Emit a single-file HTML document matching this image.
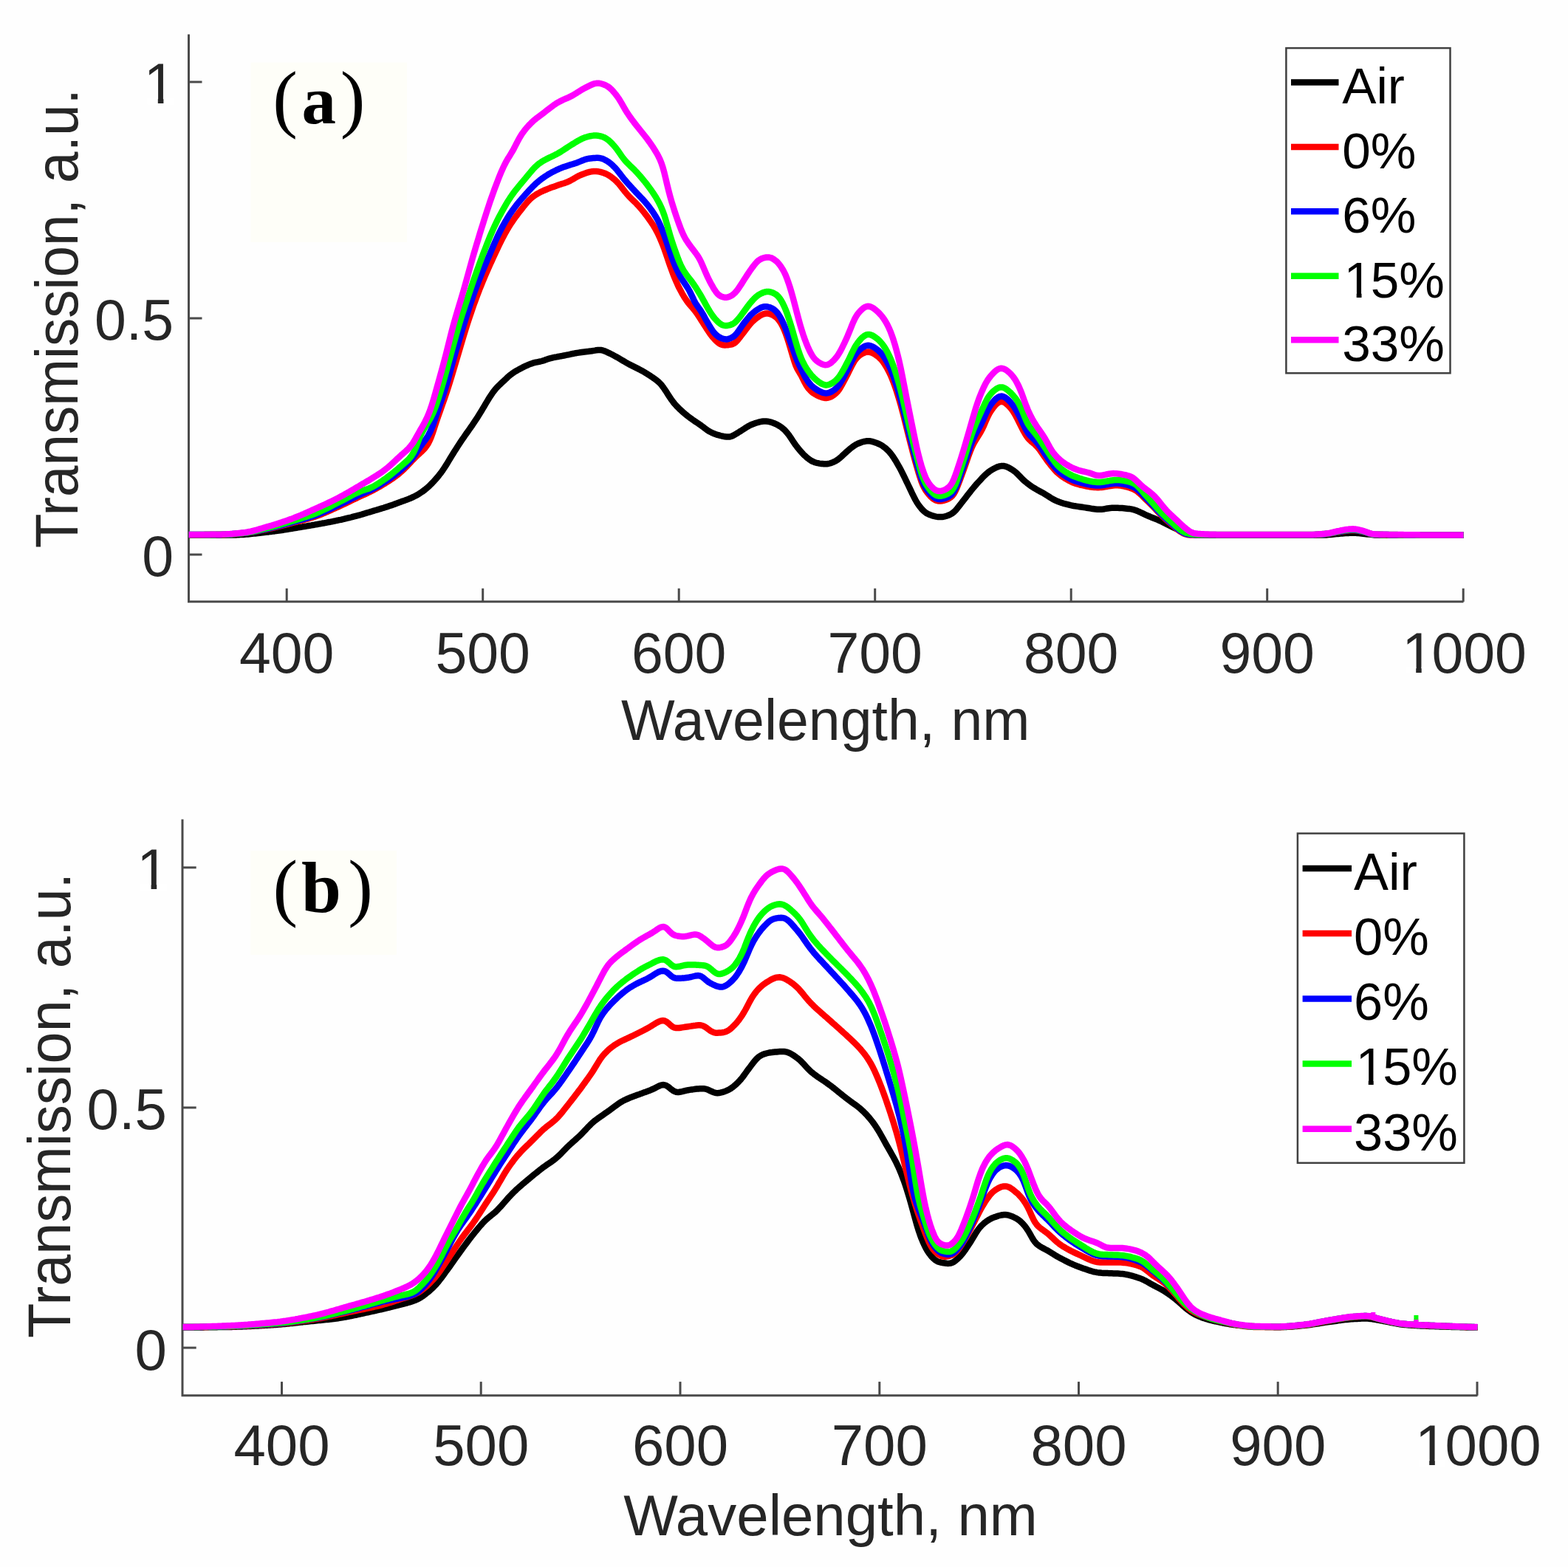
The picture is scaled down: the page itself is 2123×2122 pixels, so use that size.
<!DOCTYPE html>
<html><head><meta charset="utf-8"><title>Transmission spectra</title>
<style>
html,body{margin:0;padding:0;background:#fefefe;}
body{width:2123px;height:2122px;overflow:hidden;}
svg{display:block;font-family:"Liberation Sans",Arial,sans-serif;}
</style></head><body>
<svg width="2123" height="2122" viewBox="0 0 2123 2122">
<rect width="2123" height="2122" fill="#fefefe"/>
<rect x="339.6" y="84.7" width="211.4" height="243.3" fill="#fefef8"/>
<text font-family="'Liberation Serif', serif" fill="#000" y="167.3"><tspan x="369.3" font-size="101.0">(</tspan><tspan x="408.4" font-size="93.0" font-weight="bold">a</tspan><tspan x="460.8" font-size="101.0">)</tspan></text>
<rect x="339.2" y="1151.8" width="197.8" height="141.2" fill="#fefef8"/>
<text font-family="'Liberation Serif', serif" fill="#000" y="1235.3"><tspan x="369.6" font-size="101.0">(</tspan><tspan x="408.1" font-size="97.0" font-weight="bold">b</tspan><tspan x="471.2" font-size="101.0">)</tspan></text>
<g fill="#262626">
<path d="M255.5 46.6 V814.8 H1981.5" fill="none" stroke="#4a4a4a" stroke-width="3"/>
<path d="M255.5 751.0 H273.5" stroke="#4a4a4a" stroke-width="3"/>
<text x="235.0" y="780.3" text-anchor="end" font-size="77.0">0</text>
<path d="M255.5 431.0 H273.5" stroke="#4a4a4a" stroke-width="3"/>
<text x="235.0" y="460.3" text-anchor="end" font-size="77.0">0.5</text>
<path d="M255.5 111.0 H273.5" stroke="#4a4a4a" stroke-width="3"/>
<text x="237.6" y="140.3" text-anchor="end" font-size="77.0">1</text>
<path d="M388.2 814.8 V796.8" stroke="#4a4a4a" stroke-width="3"/>
<text x="388.2" y="910.5" text-anchor="middle" font-size="77.0">400</text>
<path d="M653.7 814.8 V796.8" stroke="#4a4a4a" stroke-width="3"/>
<text x="653.7" y="910.5" text-anchor="middle" font-size="77.0">500</text>
<path d="M919.2 814.8 V796.8" stroke="#4a4a4a" stroke-width="3"/>
<text x="919.2" y="910.5" text-anchor="middle" font-size="77.0">600</text>
<path d="M1184.7 814.8 V796.8" stroke="#4a4a4a" stroke-width="3"/>
<text x="1184.7" y="910.5" text-anchor="middle" font-size="77.0">700</text>
<path d="M1450.2 814.8 V796.8" stroke="#4a4a4a" stroke-width="3"/>
<text x="1450.2" y="910.5" text-anchor="middle" font-size="77.0">800</text>
<path d="M1715.7 814.8 V796.8" stroke="#4a4a4a" stroke-width="3"/>
<text x="1715.7" y="910.5" text-anchor="middle" font-size="77.0">900</text>
<path d="M1981.2 814.8 V796.8" stroke="#4a4a4a" stroke-width="3"/>
<text y="910.5" font-size="77.0"><tspan x="1898.17">1</tspan><tspan x="1938.38">000</tspan></text>
<text x="1117.7" y="1002.0" text-anchor="middle" font-size="77.0">Wavelength, nm</text>
<text transform="translate(104.5 431.3) rotate(-90) scale(1 1.060)" text-anchor="middle" font-size="76.5">Transmission, a.u.</text>
<path d="M247.0 1109.5 V1889.8 H2000.5" fill="none" stroke="#4a4a4a" stroke-width="3"/>
<path d="M247.0 1825.1 H265.7" stroke="#4a4a4a" stroke-width="3"/>
<text x="226.0" y="1854.6" text-anchor="end" font-size="78.0">0</text>
<path d="M247.0 1499.9 H265.7" stroke="#4a4a4a" stroke-width="3"/>
<text x="226.0" y="1529.4" text-anchor="end" font-size="78.0">0.5</text>
<path d="M247.0 1174.8 H265.7" stroke="#4a4a4a" stroke-width="3"/>
<text x="228.7" y="1204.3" text-anchor="end" font-size="78.0">1</text>
<path d="M381.5 1889.8 V1871.1" stroke="#4a4a4a" stroke-width="3"/>
<text x="381.5" y="1984.3" text-anchor="middle" font-size="78.0">400</text>
<path d="M651.2 1889.8 V1871.1" stroke="#4a4a4a" stroke-width="3"/>
<text x="651.2" y="1984.3" text-anchor="middle" font-size="78.0">500</text>
<path d="M921.0 1889.8 V1871.1" stroke="#4a4a4a" stroke-width="3"/>
<text x="921.0" y="1984.3" text-anchor="middle" font-size="78.0">600</text>
<path d="M1190.8 1889.8 V1871.1" stroke="#4a4a4a" stroke-width="3"/>
<text x="1190.8" y="1984.3" text-anchor="middle" font-size="78.0">700</text>
<path d="M1460.5 1889.8 V1871.1" stroke="#4a4a4a" stroke-width="3"/>
<text x="1460.5" y="1984.3" text-anchor="middle" font-size="78.0">800</text>
<path d="M1730.2 1889.8 V1871.1" stroke="#4a4a4a" stroke-width="3"/>
<text x="1730.2" y="1984.3" text-anchor="middle" font-size="78.0">900</text>
<path d="M2000.0 1889.8 V1871.1" stroke="#4a4a4a" stroke-width="3"/>
<text y="1984.3" font-size="78.0"><tspan x="1915.89">1</tspan><tspan x="1956.62">000</tspan></text>
<text x="1124.5" y="2079.0" text-anchor="middle" font-size="78.0">Wavelength, nm</text>
<text transform="translate(94.5 1497.0) rotate(-90) scale(1 1.060)" text-anchor="middle" font-size="77.5">Transmission, a.u.</text>
</g>
<g fill="none" stroke-width="8.5" stroke-linejoin="round" stroke-linecap="butt">
<path d="M255.5 724.5L257.5 724.5 259.5 724.5 261.5 724.5 263.5 724.5 265.5 724.5 267.5 724.5 269.5 724.5 271.5 724.5 273.5 724.5 275.5 724.5 277.5 724.5 279.5 724.5 281.5 724.5 283.5 724.5 285.5 724.5 287.5 724.5 289.5 724.5 291.5 724.5 293.5 724.5 295.5 724.5 297.5 724.5 299.5 724.5 301.5 724.5 303.5 724.5 305.5 724.5 307.5 724.5 309.5 724.5 311.5 724.5 313.5 724.5 315.5 724.5 317.5 724.4 319.5 724.4 321.5 724.3 323.5 724.2 325.5 724.1 327.5 724.0 329.5 723.9 331.5 723.7 333.5 723.6 335.5 723.4 337.5 723.2 339.5 723.0 341.5 722.8 343.5 722.6 345.5 722.4 347.5 722.2 349.5 721.9 351.5 721.7 353.5 721.5 355.5 721.3 357.5 721.0 359.5 720.8 361.5 720.6 363.5 720.4 365.5 720.1 367.5 719.9 369.5 719.6 371.5 719.4 373.5 719.1 375.5 718.8 377.5 718.6 379.5 718.3 381.5 718.0 383.5 717.7 385.5 717.3 387.5 717.0 389.5 716.7 391.5 716.4 393.5 716.0 395.5 715.7 397.5 715.4 399.5 715.0 401.5 714.7 403.5 714.4 405.5 714.0 407.5 713.7 409.5 713.4 411.5 713.0 413.5 712.7 415.5 712.4 417.5 712.0 419.5 711.7 421.5 711.4 423.5 711.0 425.5 710.7 427.5 710.3 429.5 710.0 431.5 709.6 433.5 709.3 435.5 708.9 437.5 708.5 439.5 708.2 441.5 707.8 443.5 707.4 445.5 707.0 447.5 706.7 449.5 706.3 451.5 705.9 453.5 705.5 455.5 705.0 457.5 704.6 459.5 704.2 461.5 703.8 463.5 703.3 465.5 702.9 467.5 702.4 469.5 701.9 471.5 701.4 473.5 701.0 475.5 700.5 477.5 699.9 479.5 699.4 481.5 698.9 483.5 698.4 485.5 697.8 487.5 697.3 489.5 696.7 491.5 696.1 493.5 695.5 495.5 694.9 497.5 694.3 499.5 693.7 501.5 693.1 503.5 692.5 505.5 691.9 507.5 691.3 509.5 690.7 511.5 690.1 513.5 689.5 515.5 688.9 517.5 688.3 519.5 687.7 521.5 687.0 523.5 686.4 525.5 685.7 527.5 685.0 529.5 684.4 531.5 683.7 533.5 683.0 535.5 682.2 537.5 681.5 539.5 680.8 541.5 680.1 543.5 679.3 545.5 678.6 547.5 677.9 549.5 677.1 551.5 676.4 553.5 675.6 555.5 674.8 557.5 673.9 559.5 673.0 561.5 672.0 563.5 671.0 565.5 669.8 567.5 668.6 569.5 667.3 571.5 666.0 573.5 664.5 575.5 663.0 577.5 661.4 579.5 659.6 581.5 657.8 583.5 655.8 585.5 653.7 587.5 651.6 589.5 649.4 591.5 647.1 593.5 644.7 595.5 642.2 597.5 639.6 599.5 636.8 601.5 633.7 603.5 630.6 605.5 627.4 607.5 624.1 609.5 620.8 611.5 617.6 613.5 614.3 615.5 611.1 617.5 607.9 619.5 604.8 621.5 601.7 623.5 598.7 625.5 595.7 627.5 592.8 629.5 589.9 631.5 587.0 633.5 584.2 635.5 581.4 637.5 578.5 639.5 575.7 641.5 572.7 643.5 569.7 645.5 566.7 647.5 563.5 649.5 560.3 651.5 557.1 653.5 553.7 655.5 550.3 657.5 546.9 659.5 543.6 661.5 540.3 663.5 537.1 665.5 534.1 667.5 531.2 669.5 528.6 671.5 526.1 673.5 524.0 675.5 522.0 677.5 520.1 679.5 518.2 681.5 516.3 683.5 514.5 685.5 512.6 687.5 510.7 689.5 508.9 691.5 507.3 693.5 505.8 695.5 504.4 697.5 503.2 699.5 502.0 701.5 500.9 703.5 499.8 705.5 498.7 707.5 497.6 709.5 496.6 711.5 495.7 713.5 494.8 715.5 493.9 717.5 493.1 719.5 492.4 721.5 491.7 723.5 491.2 725.5 490.7 727.5 490.3 729.5 489.9 731.5 489.5 733.5 489.0 735.5 488.4 737.5 487.7 739.5 486.9 741.5 486.2 743.5 485.6 745.5 485.1 747.5 484.6 749.5 484.1 751.5 483.7 753.5 483.4 755.5 483.0 757.5 482.6 759.5 482.3 761.5 481.9 763.5 481.5 765.5 481.1 767.5 480.7 769.5 480.3 771.5 479.9 773.5 479.4 775.5 479.0 777.5 478.6 779.5 478.2 781.5 477.9 783.5 477.6 785.5 477.3 787.5 477.0 789.5 476.7 791.5 476.5 793.5 476.3 795.5 476.1 797.5 475.8 799.5 475.6 801.5 475.3 803.5 474.9 805.5 474.6 807.5 474.2 809.5 474.0 811.5 473.9 813.5 474.0 815.5 474.4 817.5 475.0 819.5 475.8 821.5 476.6 823.5 477.6 825.5 478.5 827.5 479.5 829.5 480.5 831.5 481.6 833.5 482.7 835.5 483.8 837.5 484.9 839.5 486.1 841.5 487.3 843.5 488.5 845.5 489.7 847.5 490.9 849.5 492.0 851.5 493.1 853.5 494.1 855.5 495.1 857.5 496.1 859.5 497.1 861.5 498.1 863.5 499.1 865.5 500.1 867.5 501.2 869.5 502.3 871.5 503.4 873.5 504.6 875.5 505.8 877.5 507.1 879.5 508.3 881.5 509.7 883.5 511.0 885.5 512.4 887.5 513.9 889.5 515.4 891.5 517.1 893.5 519.0 895.5 521.2 897.5 523.8 899.5 526.6 901.5 529.6 903.5 532.8 905.5 535.9 907.5 538.9 909.5 541.8 911.5 544.5 913.5 547.0 915.5 549.2 917.5 551.3 919.5 553.3 921.5 555.2 923.5 557.0 925.5 558.8 927.5 560.5 929.5 562.1 931.5 563.7 933.5 565.3 935.5 566.7 937.5 568.2 939.5 569.5 941.5 570.9 943.5 572.2 945.5 573.5 947.5 574.9 949.5 576.3 951.5 577.8 953.5 579.4 955.5 580.9 957.5 582.4 959.5 583.7 961.5 584.8 963.5 585.8 965.5 586.7 967.5 587.5 969.5 588.2 971.5 588.9 973.5 589.4 975.5 590.0 977.5 590.5 979.5 590.9 981.5 591.3 983.5 591.5 985.5 591.6 987.5 591.5 989.5 591.1 991.5 590.4 993.5 589.4 995.5 588.3 997.5 587.0 999.5 585.8 1001.5 584.5 1003.5 583.3 1005.5 582.0 1007.5 580.7 1009.5 579.4 1011.5 578.2 1013.5 577.0 1015.5 575.9 1017.5 575.0 1019.5 574.2 1021.5 573.5 1023.5 572.8 1025.5 572.2 1027.5 571.6 1029.5 571.1 1031.5 570.8 1033.5 570.5 1035.5 570.4 1037.5 570.5 1039.5 570.7 1041.5 571.1 1043.5 571.6 1045.5 572.3 1047.5 573.0 1049.5 573.8 1051.5 574.7 1053.5 575.8 1055.5 577.0 1057.5 578.3 1059.5 579.9 1061.5 581.6 1063.5 583.6 1065.5 585.8 1067.5 588.3 1069.5 591.1 1071.5 594.1 1073.5 597.2 1075.5 600.2 1077.5 603.0 1079.5 605.6 1081.5 608.1 1083.5 610.5 1085.5 612.8 1087.5 614.9 1089.5 616.9 1091.5 618.7 1093.5 620.4 1095.5 621.9 1097.5 623.3 1099.5 624.5 1101.5 625.4 1103.5 626.2 1105.5 626.8 1107.5 627.2 1109.5 627.6 1111.5 627.9 1113.5 628.1 1115.5 628.3 1117.5 628.3 1119.5 628.2 1121.5 628.0 1123.5 627.5 1125.5 626.9 1127.5 626.1 1129.5 625.2 1131.5 624.2 1133.5 622.9 1135.5 621.5 1137.5 619.9 1139.5 618.1 1141.5 616.2 1143.5 614.3 1145.5 612.5 1147.5 610.7 1149.5 609.0 1151.5 607.3 1153.5 605.7 1155.5 604.3 1157.5 602.9 1159.5 601.8 1161.5 600.8 1163.5 600.0 1165.5 599.2 1167.5 598.5 1169.5 598.0 1171.5 597.6 1173.5 597.3 1175.5 597.2 1177.5 597.3 1179.5 597.6 1181.5 598.1 1183.5 598.7 1185.5 599.4 1187.5 600.1 1189.5 601.0 1191.5 601.9 1193.5 603.0 1195.5 604.3 1197.5 605.8 1199.5 607.4 1201.5 609.3 1203.5 611.3 1205.5 613.6 1207.5 616.1 1209.5 619.0 1211.5 622.1 1213.5 625.3 1215.5 628.8 1217.5 632.3 1219.5 636.1 1221.5 640.0 1223.5 644.0 1225.5 648.1 1227.5 652.3 1229.5 656.5 1231.5 660.7 1233.5 664.9 1235.5 669.2 1237.5 673.2 1239.5 677.0 1241.5 680.5 1243.5 683.5 1245.5 686.2 1247.5 688.7 1249.5 690.8 1251.5 692.7 1253.5 694.3 1255.5 695.5 1257.5 696.5 1259.5 697.3 1261.5 698.0 1263.5 698.7 1265.5 699.2 1267.5 699.6 1269.5 699.9 1271.5 700.1 1273.5 700.1 1275.5 700.0 1277.5 699.7 1279.5 699.3 1281.5 698.7 1283.5 698.0 1285.5 697.2 1287.5 696.2 1289.5 695.0 1291.5 693.4 1293.5 691.5 1295.5 689.2 1297.5 686.7 1299.5 684.1 1301.5 681.5 1303.5 678.9 1305.5 676.4 1307.5 673.8 1309.5 671.2 1311.5 668.7 1313.5 666.1 1315.5 663.5 1317.5 661.1 1319.5 658.7 1321.5 656.4 1323.5 654.2 1325.5 652.0 1327.5 649.8 1329.5 647.6 1331.5 645.6 1333.5 643.6 1335.5 641.7 1337.5 640.0 1339.5 638.5 1341.5 637.1 1343.5 635.9 1345.5 634.8 1347.5 633.8 1349.5 632.8 1351.5 632.0 1353.5 631.4 1355.5 631.1 1357.5 631.0 1359.5 631.1 1361.5 631.6 1363.5 632.3 1365.5 633.2 1367.5 634.3 1369.5 635.5 1371.5 636.8 1373.5 638.2 1375.5 639.8 1377.5 641.7 1379.5 643.7 1381.5 645.8 1383.5 647.9 1385.5 649.8 1387.5 651.7 1389.5 653.3 1391.5 654.9 1393.5 656.4 1395.5 657.9 1397.5 659.2 1399.5 660.5 1401.5 661.7 1403.5 662.9 1405.5 664.0 1407.5 665.1 1409.5 666.1 1411.5 667.2 1413.5 668.4 1415.5 669.6 1417.5 670.8 1419.5 672.1 1421.5 673.4 1423.5 674.7 1425.5 675.9 1427.5 676.9 1429.5 677.9 1431.5 678.7 1433.5 679.5 1435.5 680.2 1437.5 680.9 1439.5 681.6 1441.5 682.2 1443.5 682.7 1445.5 683.2 1447.5 683.7 1449.5 684.2 1451.5 684.6 1453.5 685.0 1455.5 685.3 1457.5 685.6 1459.5 685.9 1461.5 686.2 1463.5 686.5 1465.5 686.8 1467.5 687.1 1469.5 687.4 1471.5 687.7 1473.5 688.0 1475.5 688.3 1477.5 688.7 1479.5 689.0 1481.5 689.3 1483.5 689.6 1485.5 689.7 1487.5 689.8 1489.5 689.8 1491.5 689.7 1493.5 689.5 1495.5 689.2 1497.5 688.8 1499.5 688.5 1501.5 688.2 1503.5 687.9 1505.5 687.8 1507.5 687.7 1509.5 687.7 1511.5 687.7 1513.5 687.8 1515.5 687.9 1517.5 688.0 1519.5 688.1 1521.5 688.3 1523.5 688.5 1525.5 688.7 1527.5 688.9 1529.5 689.1 1531.5 689.4 1533.5 689.8 1535.5 690.4 1537.5 691.0 1539.5 691.8 1541.5 692.6 1543.5 693.5 1545.5 694.5 1547.5 695.4 1549.5 696.4 1551.5 697.3 1553.5 698.2 1555.5 699.0 1557.5 699.9 1559.5 700.7 1561.5 701.5 1563.5 702.3 1565.5 703.1 1567.5 703.9 1569.5 704.8 1571.5 705.7 1573.5 706.6 1575.5 707.6 1577.5 708.6 1579.5 709.6 1581.5 710.6 1583.5 711.6 1585.5 712.6 1587.5 713.6 1589.5 714.6 1591.5 715.5 1593.5 716.5 1595.5 717.5 1597.5 718.4 1599.5 719.4 1601.5 720.2 1603.5 721.0 1605.5 721.7 1607.5 722.2 1609.5 722.7 1611.5 723.1 1613.5 723.4 1615.5 723.7 1617.5 724.0 1619.5 724.2 1621.5 724.3 1623.5 724.4 1625.5 724.5 1627.5 724.5 1629.5 724.5 1631.5 724.5 1633.5 724.5 1635.5 724.5 1637.5 724.5 1639.5 724.5 1641.5 724.5 1643.5 724.6 1645.5 724.6 1647.5 724.6 1649.5 724.6 1651.5 724.6 1653.5 724.6 1655.5 724.6 1657.5 724.6 1659.5 724.6 1661.5 724.6 1663.5 724.6 1665.5 724.6 1667.5 724.6 1669.5 724.6 1671.5 724.6 1673.5 724.6 1675.5 724.6 1677.5 724.6 1679.5 724.6 1681.5 724.6 1683.5 724.6 1685.5 724.6 1687.5 724.6 1689.5 724.6 1691.5 724.6 1693.5 724.6 1695.5 724.6 1697.5 724.6 1699.5 724.6 1701.5 724.6 1703.5 724.6 1705.5 724.6 1707.5 724.6 1709.5 724.6 1711.5 724.6 1713.5 724.6 1715.5 724.6 1717.5 724.6 1719.5 724.6 1721.5 724.6 1723.5 724.6 1725.5 724.6 1727.5 724.6 1729.5 724.6 1731.5 724.6 1733.5 724.6 1735.5 724.6 1737.5 724.6 1739.5 724.6 1741.5 724.6 1743.5 724.6 1745.5 724.6 1747.5 724.6 1749.5 724.6 1751.5 724.6 1753.5 724.6 1755.5 724.6 1757.5 724.6 1759.5 724.6 1761.5 724.6 1763.5 724.6 1765.5 724.6 1767.5 724.6 1769.5 724.6 1771.5 724.6 1773.5 724.6 1775.5 724.6 1777.5 724.6 1779.5 724.6 1781.5 724.6 1783.5 724.6 1785.5 724.6 1787.5 724.6 1789.5 724.6 1791.5 724.5 1793.5 724.5 1795.5 724.4 1797.5 724.2 1799.5 724.1 1801.5 723.9 1803.5 723.7 1805.5 723.5 1807.5 723.3 1809.5 723.1 1811.5 722.9 1813.5 722.7 1815.5 722.6 1817.5 722.4 1819.5 722.3 1821.5 722.1 1823.5 722.0 1825.5 721.9 1827.5 721.8 1829.5 721.7 1831.5 721.7 1833.5 721.7 1835.5 721.8 1837.5 721.9 1839.5 722.1 1841.5 722.3 1843.5 722.5 1845.5 722.7 1847.5 722.9 1849.5 723.2 1851.5 723.4 1853.5 723.6 1855.5 723.8 1857.5 724.0 1859.5 724.2 1861.5 724.4 1863.5 724.5 1865.5 724.6 1867.5 724.6 1869.5 724.6 1871.5 724.6 1873.5 724.6 1875.5 724.6 1877.5 724.7 1879.5 724.7 1881.5 724.7 1883.5 724.7 1885.5 724.7 1887.5 724.7 1889.5 724.7 1891.5 724.7 1893.5 724.7 1895.5 724.7 1897.5 724.7 1899.5 724.7 1901.5 724.7 1903.5 724.7 1905.5 724.7 1907.5 724.7 1909.5 724.7 1911.5 724.7 1913.5 724.7 1915.5 724.8 1917.5 724.8 1919.5 724.8 1921.5 724.8 1923.5 724.8 1925.5 724.8 1927.5 724.8 1929.5 724.8 1931.5 724.8 1933.5 724.8 1935.5 724.8 1937.5 724.8 1939.5 724.8 1941.5 724.8 1943.5 724.8 1945.5 724.8 1947.5 724.8 1949.5 724.8 1951.5 724.8 1953.5 724.8 1955.5 724.8 1957.5 724.8 1959.5 724.8 1961.5 724.8 1963.5 724.8 1965.5 724.8 1967.5 724.8 1969.5 724.8 1971.5 724.8 1973.5 724.8 1975.5 724.8 1977.5 724.8 1979.5 724.8 1981.5 724.8" stroke="#000000"/>
<path d="M255.5 724.2L257.5 724.2 259.5 724.2 261.5 724.2 263.5 724.2 265.5 724.2 267.5 724.2 269.5 724.2 271.5 724.2 273.5 724.2 275.5 724.2 277.5 724.1 279.5 724.1 281.5 724.1 283.5 724.1 285.5 724.1 287.5 724.1 289.5 724.1 291.5 724.1 293.5 724.0 295.5 724.0 297.5 724.0 299.5 724.0 301.5 723.9 303.5 723.9 305.5 723.8 307.5 723.7 309.5 723.6 311.5 723.5 313.5 723.4 315.5 723.2 317.5 723.1 319.5 722.9 321.5 722.7 323.5 722.6 325.5 722.4 327.5 722.2 329.5 722.0 331.5 721.8 333.5 721.6 335.5 721.4 337.5 721.1 339.5 720.8 341.5 720.5 343.5 720.1 345.5 719.8 347.5 719.4 349.5 719.0 351.5 718.6 353.5 718.2 355.5 717.8 357.5 717.4 359.5 717.0 361.5 716.6 363.5 716.2 365.5 715.7 367.5 715.3 369.5 714.8 371.5 714.4 373.5 713.9 375.5 713.4 377.5 712.9 379.5 712.4 381.5 711.9 383.5 711.4 385.5 710.8 387.5 710.3 389.5 709.8 391.5 709.3 393.5 708.7 395.5 708.2 397.5 707.7 399.5 707.2 401.5 706.7 403.5 706.2 405.5 705.6 407.5 705.1 409.5 704.6 411.5 704.1 413.5 703.5 415.5 702.9 417.5 702.4 419.5 701.8 421.5 701.2 423.5 700.6 425.5 699.9 427.5 699.2 429.5 698.5 431.5 697.8 433.5 697.0 435.5 696.2 437.5 695.4 439.5 694.6 441.5 693.7 443.5 692.8 445.5 691.9 447.5 691.0 449.5 690.1 451.5 689.2 453.5 688.3 455.5 687.4 457.5 686.5 459.5 685.6 461.5 684.7 463.5 683.7 465.5 682.8 467.5 681.9 469.5 680.9 471.5 679.9 473.5 679.0 475.5 678.0 477.5 677.0 479.5 676.0 481.5 675.1 483.5 674.1 485.5 673.2 487.5 672.2 489.5 671.3 491.5 670.4 493.5 669.5 495.5 668.6 497.5 667.6 499.5 666.7 501.5 665.7 503.5 664.7 505.5 663.7 507.5 662.6 509.5 661.5 511.5 660.4 513.5 659.3 515.5 658.1 517.5 656.9 519.5 655.7 521.5 654.5 523.5 653.2 525.5 651.9 527.5 650.6 529.5 649.3 531.5 647.9 533.5 646.5 535.5 645.1 537.5 643.5 539.5 642.0 541.5 640.3 543.5 638.6 545.5 636.7 547.5 634.8 549.5 632.8 551.5 630.7 553.5 628.6 555.5 626.5 557.5 624.4 559.5 622.3 561.5 620.2 563.5 618.2 565.5 616.3 567.5 614.5 569.5 612.7 571.5 610.8 573.5 608.8 575.5 606.6 577.5 604.0 579.5 600.9 581.5 597.1 583.5 592.5 585.5 587.1 587.5 581.1 589.5 575.0 591.5 569.0 593.5 563.2 595.5 557.5 597.5 551.9 599.5 546.2 601.5 540.5 603.5 534.7 605.5 528.7 607.5 522.5 609.5 516.1 611.5 509.5 613.5 502.8 615.5 496.0 617.5 489.3 619.5 482.5 621.5 475.7 623.5 469.0 625.5 462.2 627.5 455.5 629.5 449.0 631.5 442.5 633.5 436.3 635.5 430.2 637.5 424.3 639.5 418.4 641.5 412.7 643.5 407.2 645.5 401.8 647.5 396.5 649.5 391.3 651.5 386.3 653.5 381.4 655.5 376.6 657.5 371.9 659.5 367.3 661.5 362.7 663.5 358.3 665.5 353.9 667.5 349.5 669.5 345.2 671.5 340.9 673.5 336.7 675.5 332.5 677.5 328.4 679.5 324.4 681.5 320.5 683.5 316.8 685.5 313.2 687.5 309.7 689.5 306.4 691.5 303.3 693.5 300.3 695.5 297.4 697.5 294.6 699.5 291.9 701.5 289.2 703.5 286.7 705.5 284.1 707.5 281.6 709.5 279.0 711.5 276.6 713.5 274.2 715.5 272.0 717.5 269.9 719.5 268.1 721.5 266.4 723.5 265.0 725.5 263.7 727.5 262.5 729.5 261.4 731.5 260.3 733.5 259.3 735.5 258.4 737.5 257.5 739.5 256.7 741.5 255.9 743.5 255.1 745.5 254.3 747.5 253.6 749.5 252.9 751.5 252.2 753.5 251.5 755.5 250.8 757.5 250.1 759.5 249.4 761.5 248.8 763.5 248.2 765.5 247.5 767.5 246.8 769.5 245.9 771.5 245.0 773.5 243.9 775.5 242.8 777.5 241.6 779.5 240.4 781.5 239.3 783.5 238.2 785.5 237.3 787.5 236.5 789.5 235.7 791.5 235.0 793.5 234.3 795.5 233.6 797.5 233.0 799.5 232.6 801.5 232.2 803.5 232.0 805.5 231.9 807.5 232.0 809.5 232.2 811.5 232.6 813.5 233.0 815.5 233.6 817.5 234.2 819.5 235.0 821.5 235.9 823.5 237.0 825.5 238.2 827.5 239.6 829.5 241.1 831.5 242.7 833.5 244.5 835.5 246.5 837.5 248.6 839.5 251.0 841.5 253.5 843.5 256.1 845.5 258.7 847.5 261.1 849.5 263.5 851.5 265.7 853.5 267.7 855.5 269.7 857.5 271.7 859.5 273.6 861.5 275.6 863.5 277.7 865.5 279.9 867.5 282.2 869.5 284.6 871.5 287.0 873.5 289.6 875.5 292.2 877.5 294.9 879.5 297.7 881.5 300.6 883.5 303.6 885.5 306.8 887.5 310.2 889.5 313.9 891.5 317.9 893.5 322.3 895.5 327.0 897.5 332.0 899.5 337.3 901.5 343.0 903.5 348.9 905.5 354.8 907.5 360.6 909.5 366.1 911.5 371.4 913.5 376.4 915.5 381.1 917.5 385.6 919.5 389.8 921.5 393.6 923.5 397.3 925.5 400.7 927.5 403.9 929.5 406.9 931.5 409.6 933.5 412.2 935.5 414.5 937.5 416.8 939.5 419.1 941.5 421.7 943.5 424.4 945.5 427.4 947.5 430.5 949.5 433.6 951.5 436.7 953.5 439.9 955.5 443.0 957.5 446.2 959.5 449.2 961.5 452.1 963.5 454.8 965.5 457.2 967.5 459.4 969.5 461.4 971.5 463.3 973.5 464.9 975.5 466.1 977.5 466.9 979.5 467.3 981.5 467.4 983.5 467.3 985.5 467.2 987.5 466.9 989.5 466.6 991.5 466.1 993.5 465.2 995.5 463.9 997.5 462.0 999.5 459.7 1001.5 457.2 1003.5 454.5 1005.5 451.9 1007.5 449.3 1009.5 446.7 1011.5 444.1 1013.5 441.5 1015.5 439.1 1017.5 436.8 1019.5 434.8 1021.5 433.0 1023.5 431.4 1025.5 429.9 1027.5 428.5 1029.5 427.2 1031.5 426.2 1033.5 425.3 1035.5 424.8 1037.5 424.5 1039.5 424.5 1041.5 424.9 1043.5 425.5 1045.5 426.3 1047.5 427.4 1049.5 428.7 1051.5 430.3 1053.5 432.3 1055.5 434.9 1057.5 438.0 1059.5 441.6 1061.5 445.9 1063.5 450.8 1065.5 456.5 1067.5 462.7 1069.5 469.3 1071.5 476.0 1073.5 482.8 1075.5 489.3 1077.5 495.0 1079.5 499.4 1081.5 502.9 1083.5 506.2 1085.5 509.8 1087.5 513.8 1089.5 517.8 1091.5 521.4 1093.5 524.5 1095.5 527.0 1097.5 529.2 1099.5 531.0 1101.5 532.5 1103.5 533.8 1105.5 534.9 1107.5 535.9 1109.5 536.8 1111.5 537.6 1113.5 538.3 1115.5 538.7 1117.5 538.9 1119.5 538.9 1121.5 538.5 1123.5 537.9 1125.5 537.0 1127.5 535.8 1129.5 534.4 1131.5 532.8 1133.5 530.8 1135.5 528.3 1137.5 525.3 1139.5 521.9 1141.5 518.3 1143.5 514.5 1145.5 510.7 1147.5 506.9 1149.5 502.9 1151.5 498.9 1153.5 494.9 1155.5 491.2 1157.5 487.9 1159.5 485.3 1161.5 483.2 1163.5 481.5 1165.5 480.1 1167.5 478.9 1169.5 477.9 1171.5 477.2 1173.5 476.7 1175.5 476.6 1177.5 476.8 1179.5 477.3 1181.5 478.2 1183.5 479.2 1185.5 480.5 1187.5 481.9 1189.5 483.4 1191.5 485.3 1193.5 487.4 1195.5 489.9 1197.5 492.7 1199.5 495.9 1201.5 499.4 1203.5 503.2 1205.5 507.4 1207.5 512.0 1209.5 517.1 1211.5 522.6 1213.5 528.4 1215.5 534.6 1217.5 541.2 1219.5 548.2 1221.5 555.6 1223.5 563.3 1225.5 571.2 1227.5 579.2 1229.5 587.2 1231.5 595.1 1233.5 602.9 1235.5 610.7 1237.5 618.3 1239.5 625.6 1241.5 632.7 1243.5 639.5 1245.5 645.9 1247.5 651.8 1249.5 656.8 1251.5 660.9 1253.5 664.3 1255.5 667.1 1257.5 669.5 1259.5 671.8 1261.5 673.7 1263.5 675.4 1265.5 676.7 1267.5 677.7 1269.5 678.3 1271.5 678.6 1273.5 678.5 1275.5 678.3 1277.5 677.9 1279.5 677.3 1281.5 676.5 1283.5 675.7 1285.5 674.6 1287.5 673.2 1289.5 671.3 1291.5 668.6 1293.5 665.1 1295.5 660.7 1297.5 655.7 1299.5 650.5 1301.5 645.1 1303.5 639.6 1305.5 634.1 1307.5 628.4 1309.5 622.6 1311.5 616.9 1313.5 611.5 1315.5 606.6 1317.5 602.2 1319.5 598.5 1321.5 595.1 1323.5 592.0 1325.5 588.8 1327.5 585.5 1329.5 581.8 1331.5 577.7 1333.5 573.1 1335.5 568.4 1337.5 564.0 1339.5 560.1 1341.5 556.8 1343.5 553.8 1345.5 551.2 1347.5 548.8 1349.5 546.8 1351.5 545.3 1353.5 544.3 1355.5 543.8 1357.5 544.0 1359.5 544.7 1361.5 546.0 1363.5 547.6 1365.5 549.5 1367.5 551.6 1369.5 554.0 1371.5 556.7 1373.5 559.9 1375.5 563.5 1377.5 567.4 1379.5 571.4 1381.5 575.4 1383.5 579.3 1385.5 583.2 1387.5 586.8 1389.5 590.1 1391.5 592.9 1393.5 595.1 1395.5 597.0 1397.5 598.8 1399.5 600.4 1401.5 602.2 1403.5 604.2 1405.5 606.4 1407.5 608.9 1409.5 611.7 1411.5 614.6 1413.5 617.5 1415.5 620.4 1417.5 623.2 1419.5 625.9 1421.5 628.5 1423.5 631.0 1425.5 633.4 1427.5 635.7 1429.5 637.9 1431.5 639.9 1433.5 641.7 1435.5 643.3 1437.5 644.8 1439.5 646.2 1441.5 647.5 1443.5 648.7 1445.5 649.9 1447.5 651.0 1449.5 652.0 1451.5 653.0 1453.5 653.8 1455.5 654.5 1457.5 655.2 1459.5 655.7 1461.5 656.3 1463.5 656.8 1465.5 657.2 1467.5 657.7 1469.5 658.1 1471.5 658.5 1473.5 658.9 1475.5 659.2 1477.5 659.5 1479.5 659.8 1481.5 660.0 1483.5 660.1 1485.5 660.2 1487.5 660.2 1489.5 660.1 1491.5 659.9 1493.5 659.7 1495.5 659.4 1497.5 659.0 1499.5 658.7 1501.5 658.3 1503.5 658.0 1505.5 657.7 1507.5 657.4 1509.5 657.3 1511.5 657.2 1513.5 657.3 1515.5 657.4 1517.5 657.6 1519.5 658.0 1521.5 658.3 1523.5 658.8 1525.5 659.3 1527.5 659.9 1529.5 660.5 1531.5 661.2 1533.5 661.9 1535.5 662.8 1537.5 664.0 1539.5 665.3 1541.5 666.9 1543.5 668.6 1545.5 670.5 1547.5 672.4 1549.5 674.4 1551.5 676.4 1553.5 678.3 1555.5 680.3 1557.5 682.3 1559.5 684.3 1561.5 686.3 1563.5 688.4 1565.5 690.6 1567.5 692.7 1569.5 694.8 1571.5 696.8 1573.5 698.8 1575.5 700.7 1577.5 702.5 1579.5 704.3 1581.5 706.0 1583.5 707.8 1585.5 709.5 1587.5 711.3 1589.5 713.1 1591.5 714.8 1593.5 716.4 1595.5 718.0 1597.5 719.4 1599.5 720.7 1601.5 721.9 1603.5 722.8 1605.5 723.5 1607.5 724.0 1609.5 724.3 1611.5 724.4 1613.5 724.5 1615.5 724.5 1617.5 724.4 1619.5 724.4 1621.5 724.4 1623.5 724.4 1625.5 724.4 1627.5 724.4 1629.5 724.4 1631.5 724.4 1633.5 724.4 1635.5 724.4 1637.5 724.4 1639.5 724.4 1641.5 724.4 1643.5 724.4 1645.5 724.4 1647.5 724.4 1649.5 724.4 1651.5 724.4 1653.5 724.4 1655.5 724.4 1657.5 724.4 1659.5 724.4 1661.5 724.4 1663.5 724.4 1665.5 724.4 1667.5 724.4 1669.5 724.4 1671.5 724.4 1673.5 724.4 1675.5 724.4 1677.5 724.4 1679.5 724.4 1681.5 724.4 1683.5 724.4 1685.5 724.4 1687.5 724.4 1689.5 724.4 1691.5 724.4 1693.5 724.4 1695.5 724.4 1697.5 724.4 1699.5 724.4 1701.5 724.4 1703.5 724.4 1705.5 724.4 1707.5 724.4 1709.5 724.4 1711.5 724.4 1713.5 724.4 1715.5 724.4 1717.5 724.4 1719.5 724.4 1721.5 724.4 1723.5 724.4 1725.5 724.4 1727.5 724.4 1729.5 724.4 1731.5 724.4 1733.5 724.4 1735.5 724.4 1737.5 724.4 1739.5 724.4 1741.5 724.4 1743.5 724.4 1745.5 724.4 1747.5 724.4 1749.5 724.4 1751.5 724.4 1753.5 724.4 1755.5 724.4 1757.5 724.4 1759.5 724.4 1761.5 724.4 1763.5 724.4 1765.5 724.4 1767.5 724.4 1769.5 724.4 1771.5 724.4 1773.5 724.4 1775.5 724.4 1777.5 724.4 1779.5 724.3 1781.5 724.2 1783.5 724.1 1785.5 724.0 1787.5 723.9 1789.5 723.7 1791.5 723.5 1793.5 723.3 1795.5 723.1 1797.5 722.9 1799.5 722.7 1801.5 722.4 1803.5 722.0 1805.5 721.7 1807.5 721.3 1809.5 720.9 1811.5 720.5 1813.5 720.2 1815.5 719.9 1817.5 719.5 1819.5 719.3 1821.5 719.0 1823.5 718.7 1825.5 718.5 1827.5 718.3 1829.5 718.2 1831.5 718.1 1833.5 718.2 1835.5 718.3 1837.5 718.6 1839.5 718.9 1841.5 719.3 1843.5 719.7 1845.5 720.2 1847.5 720.7 1849.5 721.3 1851.5 721.9 1853.5 722.5 1855.5 723.1 1857.5 723.6 1859.5 723.8 1861.5 724.0 1863.5 724.0 1865.5 724.1 1867.5 724.1 1869.5 724.1 1871.5 724.1 1873.5 724.2 1875.5 724.2 1877.5 724.2 1879.5 724.2 1881.5 724.2 1883.5 724.3 1885.5 724.3 1887.5 724.3 1889.5 724.3 1891.5 724.3 1893.5 724.3 1895.5 724.4 1897.5 724.4 1899.5 724.4 1901.5 724.4 1903.5 724.4 1905.5 724.4 1907.5 724.4 1909.5 724.5 1911.5 724.5 1913.5 724.5 1915.5 724.5 1917.5 724.5 1919.5 724.5 1921.5 724.5 1923.5 724.5 1925.5 724.5 1927.5 724.5 1929.5 724.5 1931.5 724.5 1933.5 724.5 1935.5 724.6 1937.5 724.6 1939.5 724.6 1941.5 724.6 1943.5 724.6 1945.5 724.6 1947.5 724.6 1949.5 724.6 1951.5 724.6 1953.5 724.6 1955.5 724.6 1957.5 724.6 1959.5 724.6 1961.5 724.6 1963.5 724.6 1965.5 724.6 1967.5 724.6 1969.5 724.6 1971.5 724.6 1973.5 724.6 1975.5 724.6 1977.5 724.6 1979.5 724.6 1981.5 724.6" stroke="#ff0000"/>
<path d="M255.5 724.1L257.5 724.1 259.5 724.1 261.5 724.1 263.5 724.1 265.5 724.1 267.5 724.1 269.5 724.1 271.5 724.1 273.5 724.1 275.5 724.1 277.5 724.1 279.5 724.1 281.5 724.0 283.5 724.0 285.5 724.0 287.5 724.0 289.5 724.0 291.5 724.0 293.5 724.0 295.5 723.9 297.5 723.9 299.5 723.9 301.5 723.8 303.5 723.8 305.5 723.7 307.5 723.6 309.5 723.5 311.5 723.4 313.5 723.3 315.5 723.1 317.5 723.0 319.5 722.8 321.5 722.7 323.5 722.5 325.5 722.3 327.5 722.1 329.5 722.0 331.5 721.7 333.5 721.5 335.5 721.2 337.5 720.9 339.5 720.6 341.5 720.3 343.5 719.9 345.5 719.5 347.5 719.1 349.5 718.7 351.5 718.3 353.5 717.8 355.5 717.4 357.5 716.9 359.5 716.5 361.5 716.1 363.5 715.6 365.5 715.1 367.5 714.7 369.5 714.2 371.5 713.7 373.5 713.2 375.5 712.7 377.5 712.2 379.5 711.6 381.5 711.1 383.5 710.6 385.5 710.0 387.5 709.5 389.5 708.9 391.5 708.4 393.5 707.8 395.5 707.3 397.5 706.7 399.5 706.2 401.5 705.6 403.5 705.1 405.5 704.5 407.5 704.0 409.5 703.4 411.5 702.9 413.5 702.3 415.5 701.7 417.5 701.1 419.5 700.4 421.5 699.8 423.5 699.1 425.5 698.4 427.5 697.7 429.5 697.0 431.5 696.2 433.5 695.4 435.5 694.6 437.5 693.7 439.5 692.8 441.5 691.9 443.5 691.0 445.5 690.1 447.5 689.1 449.5 688.2 451.5 687.2 453.5 686.3 455.5 685.3 457.5 684.4 459.5 683.5 461.5 682.5 463.5 681.5 465.5 680.6 467.5 679.6 469.5 678.6 471.5 677.6 473.5 676.6 475.5 675.5 477.5 674.5 479.5 673.6 481.5 672.6 483.5 671.6 485.5 670.7 487.5 669.8 489.5 668.9 491.5 668.0 493.5 667.2 495.5 666.4 497.5 665.6 499.5 664.8 501.5 663.8 503.5 662.9 505.5 661.8 507.5 660.8 509.5 659.6 511.5 658.5 513.5 657.3 515.5 656.0 517.5 654.8 519.5 653.5 521.5 652.2 523.5 650.9 525.5 649.6 527.5 648.2 529.5 646.8 531.5 645.3 533.5 643.8 535.5 642.3 537.5 640.7 539.5 639.1 541.5 637.4 543.5 635.7 545.5 633.9 547.5 632.0 549.5 630.1 551.5 628.1 553.5 626.1 555.5 623.9 557.5 621.6 559.5 619.1 561.5 616.3 563.5 613.3 565.5 610.1 567.5 607.1 569.5 604.2 571.5 601.5 573.5 598.8 575.5 596.2 577.5 593.4 579.5 590.3 581.5 586.6 583.5 582.4 585.5 577.4 587.5 572.0 589.5 566.1 591.5 560.1 593.5 554.1 595.5 548.3 597.5 542.6 599.5 536.8 601.5 530.8 603.5 524.5 605.5 517.7 607.5 510.6 609.5 503.3 611.5 495.9 613.5 488.6 615.5 481.5 617.5 474.5 619.5 467.7 621.5 461.0 623.5 454.4 625.5 447.8 627.5 441.3 629.5 434.9 631.5 428.5 633.5 422.2 635.5 416.0 637.5 409.9 639.5 403.9 641.5 398.2 643.5 392.6 645.5 387.2 647.5 382.0 649.5 376.9 651.5 371.9 653.5 367.0 655.5 362.2 657.5 357.5 659.5 352.7 661.5 348.0 663.5 343.3 665.5 338.6 667.5 334.0 669.5 329.4 671.5 325.0 673.5 320.6 675.5 316.4 677.5 312.4 679.5 308.5 681.5 304.8 683.5 301.2 685.5 297.8 687.5 294.5 689.5 291.4 691.5 288.4 693.5 285.5 695.5 282.7 697.5 280.0 699.5 277.4 701.5 274.9 703.5 272.5 705.5 270.1 707.5 267.8 709.5 265.6 711.5 263.3 713.5 261.1 715.5 258.9 717.5 256.7 719.5 254.6 721.5 252.5 723.5 250.6 725.5 248.7 727.5 246.9 729.5 245.2 731.5 243.6 733.5 242.1 735.5 240.7 737.5 239.3 739.5 238.0 741.5 236.7 743.5 235.5 745.5 234.4 747.5 233.2 749.5 232.2 751.5 231.2 753.5 230.2 755.5 229.3 757.5 228.4 759.5 227.6 761.5 226.8 763.5 226.1 765.5 225.4 767.5 224.7 769.5 224.1 771.5 223.4 773.5 222.8 775.5 222.2 777.5 221.6 779.5 220.9 781.5 220.2 783.5 219.4 785.5 218.6 787.5 217.8 789.5 217.0 791.5 216.3 793.5 215.6 795.5 215.1 797.5 214.7 799.5 214.4 801.5 214.2 803.5 214.0 805.5 213.9 807.5 213.8 809.5 213.8 811.5 213.9 813.5 214.3 815.5 214.8 817.5 215.6 819.5 216.7 821.5 217.8 823.5 219.1 825.5 220.5 827.5 222.1 829.5 223.9 831.5 225.9 833.5 228.0 835.5 230.3 837.5 232.8 839.5 235.4 841.5 238.0 843.5 240.6 845.5 243.1 847.5 245.4 849.5 247.7 851.5 250.0 853.5 252.1 855.5 254.3 857.5 256.5 859.5 258.6 861.5 260.8 863.5 262.9 865.5 265.0 867.5 267.1 869.5 269.2 871.5 271.4 873.5 273.6 875.5 276.0 877.5 278.4 879.5 281.0 881.5 283.7 883.5 286.5 885.5 289.5 887.5 292.7 889.5 296.1 891.5 299.8 893.5 304.0 895.5 308.6 897.5 313.7 899.5 319.1 901.5 324.8 903.5 330.7 905.5 336.6 907.5 342.5 909.5 348.1 911.5 353.4 913.5 358.4 915.5 363.1 917.5 367.4 919.5 371.4 921.5 375.1 923.5 378.4 925.5 381.4 927.5 384.4 929.5 387.4 931.5 390.5 933.5 394.0 935.5 398.0 937.5 402.2 939.5 406.4 941.5 410.2 943.5 413.3 945.5 416.1 947.5 418.9 949.5 421.9 951.5 425.2 953.5 428.7 955.5 432.4 957.5 436.0 959.5 439.4 961.5 442.7 963.5 445.9 965.5 448.8 967.5 451.3 969.5 453.4 971.5 455.0 973.5 456.4 975.5 457.4 977.5 458.3 979.5 458.9 981.5 459.3 983.5 459.4 985.5 459.2 987.5 458.7 989.5 457.8 991.5 456.8 993.5 455.4 995.5 453.7 997.5 451.5 999.5 448.9 1001.5 446.0 1003.5 443.0 1005.5 440.1 1007.5 437.4 1009.5 434.8 1011.5 432.3 1013.5 429.9 1015.5 427.6 1017.5 425.6 1019.5 423.8 1021.5 422.2 1023.5 420.7 1025.5 419.3 1027.5 418.1 1029.5 417.0 1031.5 416.1 1033.5 415.5 1035.5 415.2 1037.5 415.2 1039.5 415.5 1041.5 416.0 1043.5 416.8 1045.5 417.7 1047.5 418.9 1049.5 420.5 1051.5 422.5 1053.5 425.0 1055.5 428.0 1057.5 431.5 1059.5 435.4 1061.5 439.8 1063.5 444.7 1065.5 450.0 1067.5 455.5 1069.5 461.1 1071.5 466.7 1073.5 472.3 1075.5 478.0 1077.5 483.5 1079.5 488.7 1081.5 493.1 1083.5 497.2 1085.5 501.3 1087.5 505.3 1089.5 509.3 1091.5 512.8 1093.5 515.9 1095.5 518.6 1097.5 520.9 1099.5 522.9 1101.5 524.6 1103.5 526.1 1105.5 527.5 1107.5 528.7 1109.5 529.8 1111.5 530.8 1113.5 531.6 1115.5 532.1 1117.5 532.4 1119.5 532.4 1121.5 532.1 1123.5 531.4 1125.5 530.5 1127.5 529.3 1129.5 528.0 1131.5 526.3 1133.5 524.3 1135.5 521.9 1137.5 518.9 1139.5 515.6 1141.5 512.1 1143.5 508.4 1145.5 504.6 1147.5 500.8 1149.5 496.8 1151.5 492.7 1153.5 488.6 1155.5 484.7 1157.5 481.3 1159.5 478.5 1161.5 476.1 1163.5 474.1 1165.5 472.4 1167.5 470.8 1169.5 469.6 1171.5 468.6 1173.5 468.0 1175.5 467.8 1177.5 468.0 1179.5 468.6 1181.5 469.4 1183.5 470.5 1185.5 471.8 1187.5 473.3 1189.5 474.9 1191.5 476.8 1193.5 478.9 1195.5 481.4 1197.5 484.3 1199.5 487.6 1201.5 491.1 1203.5 495.0 1205.5 499.2 1207.5 503.9 1209.5 509.1 1211.5 514.7 1213.5 520.7 1215.5 527.0 1217.5 533.7 1219.5 540.9 1221.5 548.6 1223.5 556.6 1225.5 564.8 1227.5 573.0 1229.5 581.2 1231.5 589.2 1233.5 597.2 1235.5 605.1 1237.5 612.8 1239.5 620.3 1241.5 627.6 1243.5 634.7 1245.5 641.5 1247.5 647.7 1249.5 653.0 1251.5 657.4 1253.5 660.9 1255.5 663.9 1257.5 666.5 1259.5 668.8 1261.5 670.9 1263.5 672.7 1265.5 674.1 1267.5 675.1 1269.5 675.8 1271.5 676.0 1273.5 676.0 1275.5 675.7 1277.5 675.3 1279.5 674.7 1281.5 673.9 1283.5 673.0 1285.5 671.8 1287.5 670.4 1289.5 668.4 1291.5 665.5 1293.5 661.7 1295.5 657.1 1297.5 651.9 1299.5 646.4 1301.5 640.7 1303.5 634.9 1305.5 629.1 1307.5 623.2 1309.5 617.1 1311.5 611.1 1313.5 605.3 1315.5 600.0 1317.5 595.2 1319.5 590.9 1321.5 587.0 1323.5 583.3 1325.5 579.7 1327.5 576.0 1329.5 572.0 1331.5 567.8 1333.5 563.3 1335.5 558.8 1337.5 554.7 1339.5 551.2 1341.5 548.1 1343.5 545.5 1345.5 543.1 1347.5 541.0 1349.5 539.2 1351.5 537.9 1353.5 537.0 1355.5 536.6 1357.5 536.8 1359.5 537.5 1361.5 538.7 1363.5 540.2 1365.5 542.0 1367.5 544.0 1369.5 546.3 1371.5 548.8 1373.5 551.7 1375.5 554.9 1377.5 558.5 1379.5 562.2 1381.5 566.2 1383.5 570.3 1385.5 574.6 1387.5 578.7 1389.5 582.5 1391.5 585.7 1393.5 588.4 1395.5 590.6 1397.5 592.6 1399.5 594.6 1401.5 596.6 1403.5 598.7 1405.5 601.2 1407.5 603.8 1409.5 606.6 1411.5 609.6 1413.5 612.6 1415.5 615.5 1417.5 618.4 1419.5 621.2 1421.5 623.9 1423.5 626.6 1425.5 629.2 1427.5 631.7 1429.5 634.0 1431.5 636.1 1433.5 638.0 1435.5 639.7 1437.5 641.3 1439.5 642.7 1441.5 644.1 1443.5 645.3 1445.5 646.5 1447.5 647.6 1449.5 648.7 1451.5 649.6 1453.5 650.5 1455.5 651.2 1457.5 651.9 1459.5 652.5 1461.5 653.1 1463.5 653.6 1465.5 654.2 1467.5 654.7 1469.5 655.2 1471.5 655.6 1473.5 656.0 1475.5 656.4 1477.5 656.8 1479.5 657.0 1481.5 657.3 1483.5 657.4 1485.5 657.5 1487.5 657.5 1489.5 657.5 1491.5 657.3 1493.5 657.0 1495.5 656.7 1497.5 656.4 1499.5 656.0 1501.5 655.6 1503.5 655.3 1505.5 655.0 1507.5 654.8 1509.5 654.6 1511.5 654.6 1513.5 654.6 1515.5 654.7 1517.5 654.9 1519.5 655.2 1521.5 655.6 1523.5 656.0 1525.5 656.5 1527.5 657.0 1529.5 657.6 1531.5 658.2 1533.5 659.0 1535.5 659.9 1537.5 661.1 1539.5 662.5 1541.5 664.2 1543.5 666.0 1545.5 668.0 1547.5 670.1 1549.5 672.3 1551.5 674.4 1553.5 676.5 1555.5 678.5 1557.5 680.6 1559.5 682.7 1561.5 684.8 1563.5 686.9 1565.5 689.1 1567.5 691.3 1569.5 693.4 1571.5 695.5 1573.5 697.5 1575.5 699.4 1577.5 701.3 1579.5 703.1 1581.5 704.8 1583.5 706.6 1585.5 708.4 1587.5 710.2 1589.5 712.0 1591.5 713.7 1593.5 715.4 1595.5 717.0 1597.5 718.5 1599.5 719.8 1601.5 721.0 1603.5 722.0 1605.5 722.8 1607.5 723.3 1609.5 723.7 1611.5 723.9 1613.5 724.0 1615.5 724.1 1617.5 724.2 1619.5 724.2 1621.5 724.2 1623.5 724.2 1625.5 724.2 1627.5 724.3 1629.5 724.3 1631.5 724.3 1633.5 724.3 1635.5 724.3 1637.5 724.3 1639.5 724.3 1641.5 724.3 1643.5 724.3 1645.5 724.3 1647.5 724.3 1649.5 724.3 1651.5 724.3 1653.5 724.3 1655.5 724.3 1657.5 724.3 1659.5 724.3 1661.5 724.3 1663.5 724.3 1665.5 724.3 1667.5 724.3 1669.5 724.3 1671.5 724.3 1673.5 724.3 1675.5 724.3 1677.5 724.3 1679.5 724.3 1681.5 724.3 1683.5 724.3 1685.5 724.3 1687.5 724.3 1689.5 724.3 1691.5 724.3 1693.5 724.3 1695.5 724.3 1697.5 724.3 1699.5 724.3 1701.5 724.3 1703.5 724.3 1705.5 724.3 1707.5 724.3 1709.5 724.3 1711.5 724.3 1713.5 724.3 1715.5 724.3 1717.5 724.3 1719.5 724.3 1721.5 724.3 1723.5 724.3 1725.5 724.3 1727.5 724.3 1729.5 724.3 1731.5 724.3 1733.5 724.3 1735.5 724.3 1737.5 724.3 1739.5 724.3 1741.5 724.3 1743.5 724.3 1745.5 724.3 1747.5 724.3 1749.5 724.3 1751.5 724.3 1753.5 724.3 1755.5 724.3 1757.5 724.3 1759.5 724.3 1761.5 724.3 1763.5 724.3 1765.5 724.3 1767.5 724.3 1769.5 724.3 1771.5 724.3 1773.5 724.2 1775.5 724.2 1777.5 724.2 1779.5 724.2 1781.5 724.1 1783.5 724.0 1785.5 723.9 1787.5 723.7 1789.5 723.6 1791.5 723.4 1793.5 723.2 1795.5 723.0 1797.5 722.8 1799.5 722.5 1801.5 722.2 1803.5 721.8 1805.5 721.4 1807.5 721.0 1809.5 720.6 1811.5 720.2 1813.5 719.8 1815.5 719.5 1817.5 719.2 1819.5 718.9 1821.5 718.6 1823.5 718.4 1825.5 718.1 1827.5 717.9 1829.5 717.8 1831.5 717.8 1833.5 717.8 1835.5 718.0 1837.5 718.2 1839.5 718.6 1841.5 719.0 1843.5 719.4 1845.5 719.9 1847.5 720.5 1849.5 721.0 1851.5 721.7 1853.5 722.3 1855.5 723.0 1857.5 723.4 1859.5 723.7 1861.5 723.9 1863.5 723.9 1865.5 724.0 1867.5 724.0 1869.5 724.0 1871.5 724.1 1873.5 724.1 1875.5 724.1 1877.5 724.1 1879.5 724.1 1881.5 724.2 1883.5 724.2 1885.5 724.2 1887.5 724.2 1889.5 724.2 1891.5 724.3 1893.5 724.3 1895.5 724.3 1897.5 724.3 1899.5 724.3 1901.5 724.3 1903.5 724.4 1905.5 724.4 1907.5 724.4 1909.5 724.4 1911.5 724.4 1913.5 724.4 1915.5 724.4 1917.5 724.4 1919.5 724.4 1921.5 724.5 1923.5 724.5 1925.5 724.5 1927.5 724.5 1929.5 724.5 1931.5 724.5 1933.5 724.5 1935.5 724.5 1937.5 724.5 1939.5 724.5 1941.5 724.5 1943.5 724.5 1945.5 724.5 1947.5 724.5 1949.5 724.5 1951.5 724.5 1953.5 724.5 1955.5 724.5 1957.5 724.6 1959.5 724.6 1961.5 724.6 1963.5 724.6 1965.5 724.6 1967.5 724.6 1969.5 724.6 1971.5 724.6 1973.5 724.6 1975.5 724.6 1977.5 724.6 1979.5 724.6 1981.5 724.6" stroke="#0000ff"/>
<path d="M255.5 724.0L257.5 724.0 259.5 724.0 261.5 724.0 263.5 724.0 265.5 724.0 267.5 724.0 269.5 724.0 271.5 724.0 273.5 724.0 275.5 724.0 277.5 723.9 279.5 723.9 281.5 723.9 283.5 723.9 285.5 723.9 287.5 723.9 289.5 723.9 291.5 723.9 293.5 723.8 295.5 723.8 297.5 723.8 299.5 723.8 301.5 723.7 303.5 723.7 305.5 723.6 307.5 723.5 309.5 723.4 311.5 723.3 313.5 723.2 315.5 723.0 317.5 722.9 319.5 722.7 321.5 722.6 323.5 722.4 325.5 722.2 327.5 722.0 329.5 721.8 331.5 721.6 333.5 721.3 335.5 721.0 337.5 720.7 339.5 720.3 341.5 719.9 343.5 719.5 345.5 719.1 347.5 718.6 349.5 718.1 351.5 717.6 353.5 717.1 355.5 716.6 357.5 716.1 359.5 715.6 361.5 715.1 363.5 714.6 365.5 714.1 367.5 713.6 369.5 713.1 371.5 712.6 373.5 712.0 375.5 711.5 377.5 710.9 379.5 710.4 381.5 709.8 383.5 709.2 385.5 708.6 387.5 708.0 389.5 707.5 391.5 706.9 393.5 706.3 395.5 705.7 397.5 705.1 399.5 704.5 401.5 703.9 403.5 703.3 405.5 702.7 407.5 702.1 409.5 701.4 411.5 700.8 413.5 700.2 415.5 699.5 417.5 698.8 419.5 698.1 421.5 697.4 423.5 696.7 425.5 696.0 427.5 695.2 429.5 694.4 431.5 693.5 433.5 692.6 435.5 691.7 437.5 690.8 439.5 689.8 441.5 688.9 443.5 687.9 445.5 686.9 447.5 685.9 449.5 684.9 451.5 683.8 453.5 682.8 455.5 681.8 457.5 680.8 459.5 679.8 461.5 678.8 463.5 677.8 465.5 676.7 467.5 675.7 469.5 674.6 471.5 673.5 473.5 672.5 475.5 671.4 477.5 670.3 479.5 669.3 481.5 668.3 483.5 667.4 485.5 666.5 487.5 665.6 489.5 664.8 491.5 664.1 493.5 663.5 495.5 662.8 497.5 662.2 499.5 661.5 501.5 660.6 503.5 659.7 505.5 658.7 507.5 657.6 509.5 656.4 511.5 655.2 513.5 653.9 515.5 652.5 517.5 651.2 519.5 649.8 521.5 648.4 523.5 647.0 525.5 645.5 527.5 644.0 529.5 642.5 531.5 640.9 533.5 639.3 535.5 637.6 537.5 635.9 539.5 634.2 541.5 632.4 543.5 630.7 545.5 629.0 547.5 627.3 549.5 625.6 551.5 623.7 553.5 621.7 555.5 619.4 557.5 616.8 559.5 613.6 561.5 609.6 563.5 604.8 565.5 599.6 567.5 594.4 569.5 589.7 571.5 585.6 573.5 581.9 575.5 578.6 577.5 575.3 579.5 572.1 581.5 568.7 583.5 565.1 585.5 561.0 587.5 556.5 589.5 551.3 591.5 545.7 593.5 539.6 595.5 533.2 597.5 526.6 599.5 519.7 601.5 512.7 603.5 505.4 605.5 498.1 607.5 490.7 609.5 483.3 611.5 475.9 613.5 468.5 615.5 461.1 617.5 453.9 619.5 446.8 621.5 439.9 623.5 433.3 625.5 426.8 627.5 420.6 629.5 414.5 631.5 408.4 633.5 402.4 635.5 396.5 637.5 390.6 639.5 384.7 641.5 378.9 643.5 373.2 645.5 367.5 647.5 361.9 649.5 356.4 651.5 351.0 653.5 345.6 655.5 340.4 657.5 335.2 659.5 330.1 661.5 325.1 663.5 320.2 665.5 315.5 667.5 310.9 669.5 306.5 671.5 302.3 673.5 298.2 675.5 294.2 677.5 290.4 679.5 286.7 681.5 283.1 683.5 279.6 685.5 276.1 687.5 272.8 689.5 269.7 691.5 266.6 693.5 263.8 695.5 261.0 697.5 258.3 699.5 255.8 701.5 253.3 703.5 250.9 705.5 248.5 707.5 246.1 709.5 243.8 711.5 241.4 713.5 238.9 715.5 236.5 717.5 234.1 719.5 231.7 721.5 229.4 723.5 227.3 725.5 225.3 727.5 223.5 729.5 221.8 731.5 220.4 733.5 219.0 735.5 217.8 737.5 216.7 739.5 215.6 741.5 214.6 743.5 213.6 745.5 212.7 747.5 211.7 749.5 210.8 751.5 209.8 753.5 208.7 755.5 207.7 757.5 206.5 759.5 205.3 761.5 204.0 763.5 202.7 765.5 201.4 767.5 200.1 769.5 198.8 771.5 197.5 773.5 196.2 775.5 195.0 777.5 193.8 779.5 192.5 781.5 191.3 783.5 190.2 785.5 189.1 787.5 188.1 789.5 187.2 791.5 186.4 793.5 185.8 795.5 185.2 797.5 184.7 799.5 184.2 801.5 183.9 803.5 183.6 805.5 183.5 807.5 183.5 809.5 183.7 811.5 184.1 813.5 184.5 815.5 185.1 817.5 185.9 819.5 186.9 821.5 188.1 823.5 189.6 825.5 191.3 827.5 193.2 829.5 195.3 831.5 197.5 833.5 199.9 835.5 202.5 837.5 205.3 839.5 208.2 841.5 211.1 843.5 213.9 845.5 216.4 847.5 218.7 849.5 220.8 851.5 222.8 853.5 224.8 855.5 226.7 857.5 228.6 859.5 230.6 861.5 232.7 863.5 234.9 865.5 237.1 867.5 239.4 869.5 241.8 871.5 244.2 873.5 246.6 875.5 249.2 877.5 251.8 879.5 254.5 881.5 257.3 883.5 260.1 885.5 263.1 887.5 266.2 889.5 269.6 891.5 273.1 893.5 277.0 895.5 281.3 897.5 286.2 899.5 291.8 901.5 298.3 903.5 305.4 905.5 312.5 907.5 319.4 909.5 325.8 911.5 331.8 913.5 337.6 915.5 343.2 917.5 348.7 919.5 353.9 921.5 358.5 923.5 362.6 925.5 366.2 927.5 369.3 929.5 372.1 931.5 374.8 933.5 377.3 935.5 379.9 937.5 382.6 939.5 385.5 941.5 388.4 943.5 391.5 945.5 394.7 947.5 397.9 949.5 401.4 951.5 404.9 953.5 408.6 955.5 412.2 957.5 415.8 959.5 419.3 961.5 422.6 963.5 425.6 965.5 428.5 967.5 431.0 969.5 433.3 971.5 435.3 973.5 437.2 975.5 438.7 977.5 439.9 979.5 440.6 981.5 440.9 983.5 440.9 985.5 440.7 987.5 440.3 989.5 439.8 991.5 439.0 993.5 437.9 995.5 436.3 997.5 434.3 999.5 432.0 1001.5 429.6 1003.5 427.0 1005.5 424.3 1007.5 421.5 1009.5 418.7 1011.5 415.9 1013.5 413.3 1015.5 410.7 1017.5 408.4 1019.5 406.1 1021.5 404.0 1023.5 402.1 1025.5 400.5 1027.5 399.1 1029.5 398.0 1031.5 397.0 1033.5 396.1 1035.5 395.5 1037.5 395.1 1039.5 394.9 1041.5 395.1 1043.5 395.5 1045.5 396.1 1047.5 397.0 1049.5 398.1 1051.5 399.4 1053.5 401.3 1055.5 403.7 1057.5 406.7 1059.5 410.2 1061.5 414.3 1063.5 418.9 1065.5 424.0 1067.5 429.8 1069.5 436.0 1071.5 442.5 1073.5 449.3 1075.5 456.3 1077.5 463.2 1079.5 470.0 1081.5 476.3 1083.5 481.9 1085.5 486.8 1087.5 491.0 1089.5 494.8 1091.5 498.2 1093.5 501.3 1095.5 504.1 1097.5 506.7 1099.5 509.1 1101.5 511.1 1103.5 513.0 1105.5 514.7 1107.5 516.3 1109.5 517.8 1111.5 519.1 1113.5 520.1 1115.5 520.9 1117.5 521.4 1119.5 521.4 1121.5 521.1 1123.5 520.4 1125.5 519.5 1127.5 518.3 1129.5 516.9 1131.5 515.3 1133.5 513.3 1135.5 510.9 1137.5 508.1 1139.5 504.9 1141.5 501.5 1143.5 497.9 1145.5 494.1 1147.5 490.3 1149.5 486.3 1151.5 482.1 1153.5 477.8 1155.5 473.8 1157.5 470.0 1159.5 466.8 1161.5 463.9 1163.5 461.4 1165.5 459.1 1167.5 457.1 1169.5 455.4 1171.5 454.1 1173.5 453.2 1175.5 452.9 1177.5 453.0 1179.5 453.6 1181.5 454.5 1183.5 455.7 1185.5 457.1 1187.5 458.6 1189.5 460.3 1191.5 462.3 1193.5 464.5 1195.5 467.1 1197.5 470.0 1199.5 473.3 1201.5 476.9 1203.5 480.9 1205.5 485.2 1207.5 490.1 1209.5 495.4 1211.5 501.2 1213.5 507.4 1215.5 514.0 1217.5 521.1 1219.5 528.7 1221.5 536.7 1223.5 545.2 1225.5 553.8 1227.5 562.4 1229.5 570.9 1231.5 579.3 1233.5 587.5 1235.5 595.6 1237.5 603.5 1239.5 611.3 1241.5 619.0 1243.5 626.6 1245.5 634.0 1247.5 640.8 1249.5 646.6 1251.5 651.3 1253.5 655.2 1255.5 658.4 1257.5 661.3 1259.5 663.9 1261.5 666.1 1263.5 668.1 1265.5 669.6 1267.5 670.7 1269.5 671.4 1271.5 671.7 1273.5 671.7 1275.5 671.4 1277.5 670.9 1279.5 670.2 1281.5 669.4 1283.5 668.4 1285.5 667.1 1287.5 665.6 1289.5 663.3 1291.5 660.2 1293.5 656.1 1295.5 651.1 1297.5 645.4 1299.5 639.4 1301.5 633.2 1303.5 627.0 1305.5 620.7 1307.5 614.3 1309.5 607.8 1311.5 601.3 1313.5 594.9 1315.5 588.9 1317.5 583.3 1319.5 578.1 1321.5 573.2 1323.5 568.6 1325.5 564.1 1327.5 559.7 1329.5 555.3 1331.5 550.9 1333.5 546.6 1335.5 542.5 1337.5 538.9 1339.5 535.9 1341.5 533.4 1343.5 531.2 1345.5 529.3 1347.5 527.7 1349.5 526.3 1351.5 525.3 1353.5 524.6 1355.5 524.4 1357.5 524.6 1359.5 525.3 1361.5 526.3 1363.5 527.7 1365.5 529.3 1367.5 531.1 1369.5 533.1 1371.5 535.2 1373.5 537.6 1375.5 540.2 1377.5 543.2 1379.5 546.6 1381.5 550.5 1383.5 555.0 1385.5 559.9 1387.5 564.9 1389.5 569.5 1391.5 573.5 1393.5 576.9 1395.5 579.7 1397.5 582.2 1399.5 584.6 1401.5 587.0 1403.5 589.5 1405.5 592.3 1407.5 595.1 1409.5 598.1 1411.5 601.1 1413.5 604.2 1415.5 607.2 1417.5 610.2 1419.5 613.2 1421.5 616.1 1423.5 619.1 1425.5 622.0 1427.5 624.7 1429.5 627.4 1431.5 629.8 1433.5 631.9 1435.5 633.7 1437.5 635.3 1439.5 636.8 1441.5 638.2 1443.5 639.5 1445.5 640.7 1447.5 641.9 1449.5 642.9 1451.5 643.9 1453.5 644.8 1455.5 645.6 1457.5 646.3 1459.5 647.0 1461.5 647.7 1463.5 648.3 1465.5 649.0 1467.5 649.6 1469.5 650.1 1471.5 650.7 1473.5 651.2 1475.5 651.6 1477.5 652.0 1479.5 652.4 1481.5 652.6 1483.5 652.8 1485.5 653.0 1487.5 653.0 1489.5 652.9 1491.5 652.7 1493.5 652.5 1495.5 652.2 1497.5 651.8 1499.5 651.5 1501.5 651.1 1503.5 650.8 1505.5 650.5 1507.5 650.2 1509.5 650.1 1511.5 650.0 1513.5 650.0 1515.5 650.1 1517.5 650.3 1519.5 650.6 1521.5 650.9 1523.5 651.3 1525.5 651.7 1527.5 652.2 1529.5 652.7 1531.5 653.3 1533.5 654.0 1535.5 654.9 1537.5 656.2 1539.5 657.7 1541.5 659.6 1543.5 661.7 1545.5 663.9 1547.5 666.3 1549.5 668.7 1551.5 671.0 1553.5 673.3 1555.5 675.5 1557.5 677.7 1559.5 679.9 1561.5 682.1 1563.5 684.4 1565.5 686.6 1567.5 688.8 1569.5 691.0 1571.5 693.2 1573.5 695.3 1575.5 697.2 1577.5 699.2 1579.5 701.0 1581.5 702.8 1583.5 704.7 1585.5 706.5 1587.5 708.4 1589.5 710.2 1591.5 712.0 1593.5 713.7 1595.5 715.3 1597.5 716.9 1599.5 718.3 1601.5 719.5 1603.5 720.6 1605.5 721.5 1607.5 722.2 1609.5 722.6 1611.5 723.0 1613.5 723.3 1615.5 723.5 1617.5 723.6 1619.5 723.8 1621.5 723.9 1623.5 723.9 1625.5 724.0 1627.5 724.0 1629.5 724.0 1631.5 724.0 1633.5 724.0 1635.5 724.0 1637.5 724.0 1639.5 724.0 1641.5 724.0 1643.5 724.0 1645.5 724.0 1647.5 724.0 1649.5 724.0 1651.5 724.0 1653.5 724.0 1655.5 724.0 1657.5 724.0 1659.5 724.0 1661.5 724.0 1663.5 724.0 1665.5 724.0 1667.5 724.0 1669.5 724.0 1671.5 724.0 1673.5 724.0 1675.5 724.0 1677.5 724.0 1679.5 724.0 1681.5 724.0 1683.5 724.0 1685.5 724.0 1687.5 724.0 1689.5 724.0 1691.5 724.0 1693.5 724.0 1695.5 724.0 1697.5 724.0 1699.5 724.0 1701.5 724.0 1703.5 724.0 1705.5 724.0 1707.5 724.0 1709.5 724.0 1711.5 724.0 1713.5 724.0 1715.5 724.0 1717.5 724.0 1719.5 724.0 1721.5 724.0 1723.5 724.0 1725.5 724.0 1727.5 724.0 1729.5 724.0 1731.5 724.0 1733.5 724.0 1735.5 724.0 1737.5 724.0 1739.5 724.0 1741.5 724.0 1743.5 724.0 1745.5 724.0 1747.5 724.0 1749.5 724.0 1751.5 724.0 1753.5 724.0 1755.5 724.0 1757.5 724.0 1759.5 724.0 1761.5 724.0 1763.5 724.0 1765.5 724.0 1767.5 724.0 1769.5 724.0 1771.5 724.0 1773.5 724.0 1775.5 724.0 1777.5 724.0 1779.5 723.9 1781.5 723.8 1783.5 723.7 1785.5 723.6 1787.5 723.5 1789.5 723.3 1791.5 723.1 1793.5 722.9 1795.5 722.7 1797.5 722.5 1799.5 722.2 1801.5 721.9 1803.5 721.5 1805.5 721.0 1807.5 720.6 1809.5 720.1 1811.5 719.7 1813.5 719.3 1815.5 718.9 1817.5 718.6 1819.5 718.3 1821.5 718.0 1823.5 717.7 1825.5 717.5 1827.5 717.3 1829.5 717.2 1831.5 717.1 1833.5 717.2 1835.5 717.3 1837.5 717.6 1839.5 718.0 1841.5 718.4 1843.5 718.9 1845.5 719.4 1847.5 720.0 1849.5 720.6 1851.5 721.3 1853.5 722.0 1855.5 722.7 1857.5 723.2 1859.5 723.5 1861.5 723.7 1863.5 723.8 1865.5 723.8 1867.5 723.8 1869.5 723.9 1871.5 723.9 1873.5 723.9 1875.5 724.0 1877.5 724.0 1879.5 724.0 1881.5 724.0 1883.5 724.1 1885.5 724.1 1887.5 724.1 1889.5 724.1 1891.5 724.1 1893.5 724.2 1895.5 724.2 1897.5 724.2 1899.5 724.2 1901.5 724.2 1903.5 724.3 1905.5 724.3 1907.5 724.3 1909.5 724.3 1911.5 724.3 1913.5 724.3 1915.5 724.3 1917.5 724.4 1919.5 724.4 1921.5 724.4 1923.5 724.4 1925.5 724.4 1927.5 724.4 1929.5 724.4 1931.5 724.4 1933.5 724.4 1935.5 724.4 1937.5 724.4 1939.5 724.4 1941.5 724.5 1943.5 724.5 1945.5 724.5 1947.5 724.5 1949.5 724.5 1951.5 724.5 1953.5 724.5 1955.5 724.5 1957.5 724.5 1959.5 724.5 1961.5 724.5 1963.5 724.5 1965.5 724.5 1967.5 724.5 1969.5 724.5 1971.5 724.5 1973.5 724.5 1975.5 724.5 1977.5 724.5 1979.5 724.5 1981.5 724.5" stroke="#00ff00"/>
<path d="M255.5 724.0L257.5 724.0 259.5 724.0 261.5 724.0 263.5 724.0 265.5 724.0 267.5 724.0 269.5 724.0 271.5 724.0 273.5 723.9 275.5 723.9 277.5 723.9 279.5 723.9 281.5 723.9 283.5 723.9 285.5 723.8 287.5 723.8 289.5 723.8 291.5 723.8 293.5 723.8 295.5 723.7 297.5 723.7 299.5 723.7 301.5 723.6 303.5 723.5 305.5 723.5 307.5 723.3 309.5 723.2 311.5 723.1 313.5 722.9 315.5 722.8 317.5 722.6 319.5 722.4 321.5 722.2 323.5 722.0 325.5 721.8 327.5 721.6 329.5 721.4 331.5 721.1 333.5 720.8 335.5 720.4 337.5 720.0 339.5 719.6 341.5 719.1 343.5 718.6 345.5 718.1 347.5 717.6 349.5 717.0 351.5 716.4 353.5 715.8 355.5 715.2 357.5 714.6 359.5 714.0 361.5 713.4 363.5 712.9 365.5 712.3 367.5 711.7 369.5 711.1 371.5 710.5 373.5 709.9 375.5 709.2 377.5 708.6 379.5 707.9 381.5 707.3 383.5 706.6 385.5 705.9 387.5 705.3 389.5 704.6 391.5 703.8 393.5 703.1 395.5 702.4 397.5 701.6 399.5 700.8 401.5 700.0 403.5 699.2 405.5 698.4 407.5 697.6 409.5 696.7 411.5 695.9 413.5 695.0 415.5 694.1 417.5 693.2 419.5 692.3 421.5 691.4 423.5 690.5 425.5 689.6 427.5 688.7 429.5 687.8 431.5 686.9 433.5 686.0 435.5 685.1 437.5 684.2 439.5 683.3 441.5 682.3 443.5 681.4 445.5 680.4 447.5 679.5 449.5 678.5 451.5 677.5 453.5 676.5 455.5 675.5 457.5 674.5 459.5 673.4 461.5 672.3 463.5 671.3 465.5 670.2 467.5 669.0 469.5 667.9 471.5 666.8 473.5 665.6 475.5 664.4 477.5 663.3 479.5 662.1 481.5 660.9 483.5 659.7 485.5 658.6 487.5 657.4 489.5 656.2 491.5 655.0 493.5 653.9 495.5 652.7 497.5 651.5 499.5 650.3 501.5 649.1 503.5 647.9 505.5 646.6 507.5 645.4 509.5 644.2 511.5 642.9 513.5 641.6 515.5 640.3 517.5 638.9 519.5 637.4 521.5 635.9 523.5 634.3 525.5 632.7 527.5 630.9 529.5 629.2 531.5 627.3 533.5 625.5 535.5 623.6 537.5 621.7 539.5 619.8 541.5 618.0 543.5 616.1 545.5 614.4 547.5 612.6 549.5 610.8 551.5 608.9 553.5 606.9 555.5 604.7 557.5 602.2 559.5 599.3 561.5 596.0 563.5 592.4 565.5 588.8 567.5 585.2 569.5 581.7 571.5 578.3 573.5 574.7 575.5 571.0 577.5 567.0 579.5 562.6 581.5 557.6 583.5 552.0 585.5 545.8 587.5 539.1 589.5 532.1 591.5 525.0 593.5 517.9 595.5 510.7 597.5 503.5 599.5 496.1 601.5 488.6 603.5 481.0 605.5 473.1 607.5 465.1 609.5 457.0 611.5 449.1 613.5 441.5 615.5 434.3 617.5 427.3 619.5 420.6 621.5 414.1 623.5 407.5 625.5 400.8 627.5 393.9 629.5 386.8 631.5 379.6 633.5 372.3 635.5 365.0 637.5 357.8 639.5 350.7 641.5 343.8 643.5 337.0 645.5 330.3 647.5 323.7 649.5 317.1 651.5 310.6 653.5 304.2 655.5 297.8 657.5 291.5 659.5 285.3 661.5 279.2 663.5 273.2 665.5 267.5 667.5 261.8 669.5 256.3 671.5 250.9 673.5 245.7 675.5 240.5 677.5 235.6 679.5 230.9 681.5 226.5 683.5 222.4 685.5 218.6 687.5 215.1 689.5 211.9 691.5 208.6 693.5 205.3 695.5 201.8 697.5 197.9 699.5 194.0 701.5 190.1 703.5 186.5 705.5 183.2 707.5 180.2 709.5 177.5 711.5 174.9 713.5 172.5 715.5 170.3 717.5 168.2 719.5 166.2 721.5 164.3 723.5 162.6 725.5 160.9 727.5 159.3 729.5 157.8 731.5 156.3 733.5 154.8 735.5 153.3 737.5 151.8 739.5 150.2 741.5 148.7 743.5 147.1 745.5 145.6 747.5 144.1 749.5 142.6 751.5 141.2 753.5 139.9 755.5 138.7 757.5 137.6 759.5 136.6 761.5 135.6 763.5 134.7 765.5 133.8 767.5 133.0 769.5 132.1 771.5 131.1 773.5 130.1 775.5 129.1 777.5 127.9 779.5 126.7 781.5 125.4 783.5 124.2 785.5 122.9 787.5 121.7 789.5 120.5 791.5 119.4 793.5 118.4 795.5 117.4 797.5 116.4 799.5 115.4 801.5 114.5 803.5 113.7 805.5 113.2 807.5 112.8 809.5 112.7 811.5 112.8 813.5 113.2 815.5 113.8 817.5 114.5 819.5 115.3 821.5 116.3 823.5 117.5 825.5 119.0 827.5 120.8 829.5 122.9 831.5 125.2 833.5 127.6 835.5 130.3 837.5 133.1 839.5 136.3 841.5 139.6 843.5 143.1 845.5 146.6 847.5 150.0 849.5 153.2 851.5 156.1 853.5 159.0 855.5 161.8 857.5 164.4 859.5 167.1 861.5 169.7 863.5 172.2 865.5 174.7 867.5 177.1 869.5 179.6 871.5 182.1 873.5 184.6 875.5 187.2 877.5 189.9 879.5 192.6 881.5 195.5 883.5 198.4 885.5 201.5 887.5 204.8 889.5 208.1 891.5 211.8 893.5 215.9 895.5 220.8 897.5 226.8 899.5 234.2 901.5 242.5 903.5 251.0 905.5 259.1 907.5 266.6 909.5 273.6 911.5 280.1 913.5 286.4 915.5 292.3 917.5 298.1 919.5 303.7 921.5 309.1 923.5 314.1 925.5 318.5 927.5 322.4 929.5 325.7 931.5 328.7 933.5 331.5 935.5 334.2 937.5 336.8 939.5 339.5 941.5 342.1 943.5 344.9 945.5 347.9 947.5 351.4 949.5 355.4 951.5 359.9 953.5 364.6 955.5 369.3 957.5 373.8 959.5 378.0 961.5 382.0 963.5 385.7 965.5 389.2 967.5 392.4 969.5 395.3 971.5 397.8 973.5 399.6 975.5 400.9 977.5 401.8 979.5 402.4 981.5 402.7 983.5 402.7 985.5 402.4 987.5 401.8 989.5 400.8 991.5 399.6 993.5 398.0 995.5 396.1 997.5 393.8 999.5 391.2 1001.5 388.2 1003.5 385.1 1005.5 381.9 1007.5 378.8 1009.5 375.7 1011.5 372.6 1013.5 369.6 1015.5 366.7 1017.5 363.8 1019.5 361.1 1021.5 358.5 1023.5 356.1 1025.5 354.0 1027.5 352.3 1029.5 351.1 1031.5 350.1 1033.5 349.4 1035.5 348.9 1037.5 348.5 1039.5 348.4 1041.5 348.5 1043.5 349.0 1045.5 349.8 1047.5 351.0 1049.5 352.4 1051.5 354.1 1053.5 356.1 1055.5 358.5 1057.5 361.2 1059.5 364.4 1061.5 368.0 1063.5 372.2 1065.5 377.1 1067.5 382.7 1069.5 388.8 1071.5 395.5 1073.5 402.6 1075.5 410.2 1077.5 417.9 1079.5 425.6 1081.5 433.2 1083.5 440.3 1085.5 447.0 1087.5 453.3 1089.5 459.0 1091.5 464.3 1093.5 469.2 1095.5 473.6 1097.5 477.7 1099.5 481.2 1101.5 484.1 1103.5 486.5 1105.5 488.4 1107.5 490.0 1109.5 491.3 1111.5 492.4 1113.5 493.3 1115.5 493.9 1117.5 494.2 1119.5 494.1 1121.5 493.5 1123.5 492.4 1125.5 491.0 1127.5 489.2 1129.5 487.2 1131.5 484.9 1133.5 482.3 1135.5 479.3 1137.5 476.0 1139.5 472.2 1141.5 468.2 1143.5 464.1 1145.5 459.7 1147.5 455.2 1149.5 450.4 1151.5 445.5 1153.5 440.4 1155.5 435.7 1157.5 431.4 1159.5 427.9 1161.5 424.9 1163.5 422.5 1165.5 420.3 1167.5 418.5 1169.5 416.9 1171.5 415.7 1173.5 415.0 1175.5 414.8 1177.5 415.0 1179.5 415.7 1181.5 416.7 1183.5 418.1 1185.5 419.6 1187.5 421.4 1189.5 423.2 1191.5 425.3 1193.5 427.5 1195.5 430.1 1197.5 433.0 1199.5 436.3 1201.5 439.9 1203.5 444.0 1205.5 448.6 1207.5 453.9 1209.5 459.7 1211.5 466.2 1213.5 473.3 1215.5 481.0 1217.5 489.3 1219.5 498.5 1221.5 508.3 1223.5 518.5 1225.5 528.8 1227.5 539.0 1229.5 549.1 1231.5 559.1 1233.5 569.0 1235.5 578.9 1237.5 588.7 1239.5 598.2 1241.5 607.3 1243.5 615.7 1245.5 623.4 1247.5 630.4 1249.5 636.8 1251.5 642.4 1253.5 647.2 1255.5 651.1 1257.5 654.3 1259.5 657.0 1261.5 659.3 1263.5 661.2 1265.5 662.8 1267.5 664.0 1269.5 664.8 1271.5 665.1 1273.5 665.0 1275.5 664.6 1277.5 663.9 1279.5 663.1 1281.5 662.0 1283.5 660.6 1285.5 658.9 1287.5 656.4 1289.5 653.1 1291.5 648.7 1293.5 643.5 1295.5 637.8 1297.5 631.8 1299.5 625.7 1301.5 619.5 1303.5 613.1 1305.5 606.4 1307.5 599.7 1309.5 592.8 1311.5 585.9 1313.5 579.0 1315.5 572.0 1317.5 565.0 1319.5 558.2 1321.5 551.6 1323.5 545.5 1325.5 539.8 1327.5 534.7 1329.5 529.9 1331.5 525.4 1333.5 521.3 1335.5 517.6 1337.5 514.3 1339.5 511.5 1341.5 509.0 1343.5 506.7 1345.5 504.6 1347.5 502.7 1349.5 501.1 1351.5 499.9 1353.5 499.1 1355.5 498.8 1357.5 499.0 1359.5 499.6 1361.5 500.6 1363.5 502.0 1365.5 503.6 1367.5 505.4 1369.5 507.5 1371.5 509.9 1373.5 512.6 1375.5 515.8 1377.5 519.5 1379.5 523.5 1381.5 528.1 1383.5 533.1 1385.5 538.6 1387.5 544.3 1389.5 549.7 1391.5 554.7 1393.5 559.2 1395.5 563.3 1397.5 567.0 1399.5 570.5 1401.5 573.9 1403.5 577.0 1405.5 580.0 1407.5 582.8 1409.5 585.6 1411.5 588.6 1413.5 591.7 1415.5 595.0 1417.5 598.6 1419.5 602.3 1421.5 605.9 1423.5 609.2 1425.5 612.3 1427.5 614.9 1429.5 617.2 1431.5 619.3 1433.5 621.2 1435.5 623.0 1437.5 624.6 1439.5 626.1 1441.5 627.5 1443.5 628.8 1445.5 630.0 1447.5 631.2 1449.5 632.3 1451.5 633.3 1453.5 634.2 1455.5 635.0 1457.5 635.8 1459.5 636.5 1461.5 637.1 1463.5 637.6 1465.5 638.1 1467.5 638.5 1469.5 639.0 1471.5 639.5 1473.5 640.0 1475.5 640.6 1477.5 641.3 1479.5 642.1 1481.5 642.8 1483.5 643.4 1485.5 643.8 1487.5 644.0 1489.5 644.0 1491.5 643.8 1493.5 643.4 1495.5 643.0 1497.5 642.5 1499.5 642.1 1501.5 641.7 1503.5 641.4 1505.5 641.2 1507.5 641.1 1509.5 641.2 1511.5 641.3 1513.5 641.5 1515.5 641.7 1517.5 642.0 1519.5 642.4 1521.5 642.8 1523.5 643.2 1525.5 643.7 1527.5 644.3 1529.5 644.9 1531.5 645.7 1533.5 646.8 1535.5 648.2 1537.5 649.9 1539.5 651.8 1541.5 653.7 1543.5 655.6 1545.5 657.5 1547.5 659.2 1549.5 660.8 1551.5 662.4 1553.5 663.9 1555.5 665.4 1557.5 667.0 1559.5 668.7 1561.5 670.5 1563.5 672.4 1565.5 674.6 1567.5 676.9 1569.5 679.3 1571.5 681.9 1573.5 684.4 1575.5 686.8 1577.5 689.2 1579.5 691.4 1581.5 693.5 1583.5 695.4 1585.5 697.3 1587.5 699.2 1589.5 701.0 1591.5 702.9 1593.5 704.7 1595.5 706.6 1597.5 708.5 1599.5 710.4 1601.5 712.2 1603.5 713.9 1605.5 715.6 1607.5 717.2 1609.5 718.7 1611.5 720.0 1613.5 721.0 1615.5 721.8 1617.5 722.3 1619.5 722.6 1621.5 722.8 1623.5 722.9 1625.5 723.1 1627.5 723.2 1629.5 723.3 1631.5 723.4 1633.5 723.5 1635.5 723.6 1637.5 723.7 1639.5 723.7 1641.5 723.8 1643.5 723.8 1645.5 723.8 1647.5 723.9 1649.5 723.9 1651.5 723.9 1653.5 723.9 1655.5 723.9 1657.5 723.9 1659.5 723.9 1661.5 723.9 1663.5 723.9 1665.5 723.9 1667.5 723.9 1669.5 723.9 1671.5 723.9 1673.5 723.9 1675.5 723.9 1677.5 723.9 1679.5 723.9 1681.5 723.9 1683.5 723.9 1685.5 723.9 1687.5 723.9 1689.5 723.9 1691.5 723.9 1693.5 723.9 1695.5 723.9 1697.5 723.9 1699.5 723.9 1701.5 723.9 1703.5 723.9 1705.5 723.9 1707.5 723.9 1709.5 723.9 1711.5 723.9 1713.5 723.9 1715.5 723.9 1717.5 723.9 1719.5 723.9 1721.5 723.9 1723.5 723.9 1725.5 723.9 1727.5 723.9 1729.5 723.9 1731.5 723.9 1733.5 723.9 1735.5 723.9 1737.5 723.9 1739.5 723.9 1741.5 723.9 1743.5 723.9 1745.5 723.9 1747.5 723.9 1749.5 723.9 1751.5 723.9 1753.5 723.9 1755.5 723.9 1757.5 723.9 1759.5 723.9 1761.5 723.9 1763.5 723.9 1765.5 723.9 1767.5 723.9 1769.5 723.9 1771.5 723.9 1773.5 723.9 1775.5 723.9 1777.5 723.9 1779.5 723.8 1781.5 723.7 1783.5 723.6 1785.5 723.5 1787.5 723.3 1789.5 723.2 1791.5 723.0 1793.5 722.8 1795.5 722.5 1797.5 722.3 1799.5 722.0 1801.5 721.6 1803.5 721.2 1805.5 720.7 1807.5 720.2 1809.5 719.7 1811.5 719.2 1813.5 718.8 1815.5 718.3 1817.5 718.0 1819.5 717.6 1821.5 717.3 1823.5 717.0 1825.5 716.8 1827.5 716.5 1829.5 716.4 1831.5 716.3 1833.5 716.4 1835.5 716.6 1837.5 716.9 1839.5 717.3 1841.5 717.8 1843.5 718.3 1845.5 718.9 1847.5 719.5 1849.5 720.2 1851.5 720.9 1853.5 721.7 1855.5 722.4 1857.5 722.9 1859.5 723.3 1861.5 723.5 1863.5 723.6 1865.5 723.6 1867.5 723.7 1869.5 723.7 1871.5 723.7 1873.5 723.8 1875.5 723.8 1877.5 723.8 1879.5 723.9 1881.5 723.9 1883.5 723.9 1885.5 724.0 1887.5 724.0 1889.5 724.0 1891.5 724.1 1893.5 724.1 1895.5 724.1 1897.5 724.1 1899.5 724.1 1901.5 724.2 1903.5 724.2 1905.5 724.2 1907.5 724.2 1909.5 724.2 1911.5 724.3 1913.5 724.3 1915.5 724.3 1917.5 724.3 1919.5 724.3 1921.5 724.3 1923.5 724.4 1925.5 724.4 1927.5 724.4 1929.5 724.4 1931.5 724.4 1933.5 724.4 1935.5 724.4 1937.5 724.4 1939.5 724.4 1941.5 724.4 1943.5 724.4 1945.5 724.5 1947.5 724.5 1949.5 724.5 1951.5 724.5 1953.5 724.5 1955.5 724.5 1957.5 724.5 1959.5 724.5 1961.5 724.5 1963.5 724.5 1965.5 724.5 1967.5 724.5 1969.5 724.5 1971.5 724.5 1973.5 724.5 1975.5 724.5 1977.5 724.5 1979.5 724.5 1981.5 724.5" stroke="#ff00ff"/>
<path d="M247.5 1797.5L249.5 1797.5 251.5 1797.5 253.5 1797.5 255.5 1797.5 257.5 1797.5 259.5 1797.5 261.5 1797.5 263.5 1797.4 265.5 1797.4 267.5 1797.4 269.5 1797.4 271.5 1797.4 273.5 1797.4 275.5 1797.4 277.5 1797.3 279.5 1797.3 281.5 1797.3 283.5 1797.3 285.5 1797.3 287.5 1797.2 289.5 1797.2 291.5 1797.2 293.5 1797.2 295.5 1797.1 297.5 1797.1 299.5 1797.1 301.5 1797.1 303.5 1797.0 305.5 1797.0 307.5 1797.0 309.5 1796.9 311.5 1796.9 313.5 1796.9 315.5 1796.8 317.5 1796.8 319.5 1796.7 321.5 1796.6 323.5 1796.6 325.5 1796.5 327.5 1796.4 329.5 1796.3 331.5 1796.3 333.5 1796.2 335.5 1796.1 337.5 1796.0 339.5 1795.9 341.5 1795.8 343.5 1795.7 345.5 1795.6 347.5 1795.5 349.5 1795.4 351.5 1795.3 353.5 1795.2 355.5 1795.0 357.5 1794.9 359.5 1794.8 361.5 1794.7 363.5 1794.6 365.5 1794.4 367.5 1794.3 369.5 1794.2 371.5 1794.1 373.5 1793.9 375.5 1793.8 377.5 1793.6 379.5 1793.5 381.5 1793.3 383.5 1793.1 385.5 1792.9 387.5 1792.8 389.5 1792.6 391.5 1792.4 393.5 1792.1 395.5 1791.9 397.5 1791.7 399.5 1791.5 401.5 1791.3 403.5 1791.0 405.5 1790.8 407.5 1790.6 409.5 1790.4 411.5 1790.1 413.5 1789.9 415.5 1789.7 417.5 1789.5 419.5 1789.3 421.5 1789.1 423.5 1788.9 425.5 1788.7 427.5 1788.5 429.5 1788.3 431.5 1788.1 433.5 1787.9 435.5 1787.7 437.5 1787.5 439.5 1787.3 441.5 1787.1 443.5 1786.9 445.5 1786.7 447.5 1786.4 449.5 1786.2 451.5 1786.0 453.5 1785.7 455.5 1785.5 457.5 1785.2 459.5 1784.9 461.5 1784.6 463.5 1784.2 465.5 1783.9 467.5 1783.5 469.5 1783.2 471.5 1782.8 473.5 1782.4 475.5 1782.0 477.5 1781.6 479.5 1781.2 481.5 1780.8 483.5 1780.3 485.5 1779.9 487.5 1779.5 489.5 1779.0 491.5 1778.6 493.5 1778.1 495.5 1777.7 497.5 1777.3 499.5 1776.8 501.5 1776.4 503.5 1775.9 505.5 1775.5 507.5 1775.1 509.5 1774.6 511.5 1774.2 513.5 1773.7 515.5 1773.3 517.5 1772.8 519.5 1772.4 521.5 1771.9 523.5 1771.4 525.5 1770.9 527.5 1770.5 529.5 1770.0 531.5 1769.5 533.5 1769.0 535.5 1768.5 537.5 1768.0 539.5 1767.4 541.5 1766.9 543.5 1766.4 545.5 1765.9 547.5 1765.4 549.5 1764.8 551.5 1764.3 553.5 1763.7 555.5 1763.1 557.5 1762.5 559.5 1761.8 561.5 1761.1 563.5 1760.2 565.5 1759.3 567.5 1758.2 569.5 1757.1 571.5 1755.8 573.5 1754.4 575.5 1752.9 577.5 1751.3 579.5 1749.7 581.5 1748.0 583.5 1746.2 585.5 1744.3 587.5 1742.4 589.5 1740.3 591.5 1738.1 593.5 1735.7 595.5 1733.2 597.5 1730.6 599.5 1727.9 601.5 1725.2 603.5 1722.4 605.5 1719.7 607.5 1717.0 609.5 1714.2 611.5 1711.4 613.5 1708.6 615.5 1705.7 617.5 1702.9 619.5 1700.1 621.5 1697.3 623.5 1694.5 625.5 1691.7 627.5 1689.0 629.5 1686.3 631.5 1683.6 633.5 1680.9 635.5 1678.2 637.5 1675.6 639.5 1673.1 641.5 1670.6 643.5 1668.1 645.5 1665.7 647.5 1663.3 649.5 1660.9 651.5 1658.6 653.5 1656.4 655.5 1654.3 657.5 1652.3 659.5 1650.4 661.5 1648.7 663.5 1647.1 665.5 1645.5 667.5 1643.9 669.5 1642.3 671.5 1640.5 673.5 1638.5 675.5 1636.4 677.5 1634.3 679.5 1632.1 681.5 1629.8 683.5 1627.5 685.5 1625.2 687.5 1622.9 689.5 1620.7 691.5 1618.6 693.5 1616.5 695.5 1614.5 697.5 1612.6 699.5 1610.7 701.5 1608.9 703.5 1607.1 705.5 1605.4 707.5 1603.6 709.5 1601.9 711.5 1600.2 713.5 1598.6 715.5 1596.9 717.5 1595.2 719.5 1593.6 721.5 1591.9 723.5 1590.3 725.5 1588.7 727.5 1587.1 729.5 1585.5 731.5 1583.9 733.5 1582.4 735.5 1580.8 737.5 1579.4 739.5 1578.0 741.5 1576.6 743.5 1575.3 745.5 1573.9 747.5 1572.5 749.5 1571.1 751.5 1569.5 753.5 1567.8 755.5 1566.1 757.5 1564.2 759.5 1562.2 761.5 1560.1 763.5 1558.0 765.5 1556.0 767.5 1553.9 769.5 1552.0 771.5 1550.1 773.5 1548.3 775.5 1546.5 777.5 1544.8 779.5 1543.0 781.5 1541.2 783.5 1539.4 785.5 1537.5 787.5 1535.5 789.5 1533.4 791.5 1531.3 793.5 1529.2 795.5 1527.0 797.5 1524.9 799.5 1522.9 801.5 1521.0 803.5 1519.3 805.5 1517.6 807.5 1516.1 809.5 1514.6 811.5 1513.2 813.5 1511.8 815.5 1510.4 817.5 1509.0 819.5 1507.6 821.5 1506.2 823.5 1504.8 825.5 1503.4 827.5 1501.9 829.5 1500.4 831.5 1498.9 833.5 1497.4 835.5 1496.0 837.5 1494.6 839.5 1493.2 841.5 1492.0 843.5 1490.9 845.5 1489.8 847.5 1488.9 849.5 1488.0 851.5 1487.1 853.5 1486.3 855.5 1485.6 857.5 1484.8 859.5 1484.1 861.5 1483.3 863.5 1482.6 865.5 1481.9 867.5 1481.1 869.5 1480.4 871.5 1479.6 873.5 1478.9 875.5 1478.2 877.5 1477.4 879.5 1476.7 881.5 1475.9 883.5 1475.0 885.5 1474.1 887.5 1473.1 889.5 1472.0 891.5 1471.0 893.5 1470.1 895.5 1469.4 897.5 1469.1 899.5 1469.2 901.5 1469.8 903.5 1470.9 905.5 1472.3 907.5 1474.0 909.5 1475.6 911.5 1477.0 913.5 1478.1 915.5 1478.8 917.5 1479.0 919.5 1478.9 921.5 1478.5 923.5 1478.1 925.5 1477.6 927.5 1477.1 929.5 1476.6 931.5 1476.3 933.5 1475.9 935.5 1475.6 937.5 1475.4 939.5 1475.1 941.5 1474.8 943.5 1474.6 945.5 1474.4 947.5 1474.3 949.5 1474.2 951.5 1474.2 953.5 1474.3 955.5 1474.7 957.5 1475.3 959.5 1476.1 961.5 1477.1 963.5 1478.0 965.5 1478.9 967.5 1479.6 969.5 1480.0 971.5 1480.2 973.5 1480.1 975.5 1479.7 977.5 1479.2 979.5 1478.6 981.5 1477.9 983.5 1477.1 985.5 1476.2 987.5 1475.2 989.5 1474.0 991.5 1472.6 993.5 1471.0 995.5 1469.3 997.5 1467.5 999.5 1465.5 1001.5 1463.4 1003.5 1461.1 1005.5 1458.6 1007.5 1455.9 1009.5 1453.1 1011.5 1450.3 1013.5 1447.6 1015.5 1445.0 1017.5 1442.3 1019.5 1439.7 1021.5 1437.1 1023.5 1434.8 1025.5 1432.7 1027.5 1431.0 1029.5 1429.7 1031.5 1428.6 1033.5 1427.8 1035.5 1427.1 1037.5 1426.5 1039.5 1426.0 1041.5 1425.5 1043.5 1425.2 1045.5 1425.0 1047.5 1424.7 1049.5 1424.5 1051.5 1424.4 1053.5 1424.2 1055.5 1424.1 1057.5 1424.0 1059.5 1424.0 1061.5 1424.1 1063.5 1424.3 1065.5 1424.7 1067.5 1425.4 1069.5 1426.3 1071.5 1427.4 1073.5 1428.6 1075.5 1429.9 1077.5 1431.3 1079.5 1432.8 1081.5 1434.4 1083.5 1436.2 1085.5 1438.1 1087.5 1440.2 1089.5 1442.4 1091.5 1444.6 1093.5 1446.7 1095.5 1448.7 1097.5 1450.7 1099.5 1452.4 1101.5 1454.0 1103.5 1455.6 1105.5 1457.0 1107.5 1458.4 1109.5 1459.8 1111.5 1461.1 1113.5 1462.5 1115.5 1463.8 1117.5 1465.1 1119.5 1466.5 1121.5 1468.0 1123.5 1469.4 1125.5 1470.9 1127.5 1472.5 1129.5 1474.0 1131.5 1475.6 1133.5 1477.2 1135.5 1478.9 1137.5 1480.5 1139.5 1482.1 1141.5 1483.7 1143.5 1485.3 1145.5 1486.9 1147.5 1488.4 1149.5 1489.9 1151.5 1491.4 1153.5 1492.8 1155.5 1494.3 1157.5 1495.7 1159.5 1497.2 1161.5 1498.7 1163.5 1500.3 1165.5 1502.0 1167.5 1503.8 1169.5 1505.7 1171.5 1507.7 1173.5 1509.8 1175.5 1512.1 1177.5 1514.4 1179.5 1516.9 1181.5 1519.4 1183.5 1522.1 1185.5 1525.0 1187.5 1528.1 1189.5 1531.3 1191.5 1534.7 1193.5 1538.3 1195.5 1541.8 1197.5 1545.5 1199.5 1549.1 1201.5 1552.6 1203.5 1556.1 1205.5 1559.6 1207.5 1563.2 1209.5 1566.8 1211.5 1570.5 1213.5 1574.4 1215.5 1578.6 1217.5 1583.1 1219.5 1587.8 1221.5 1592.9 1223.5 1598.2 1225.5 1603.9 1227.5 1610.0 1229.5 1616.4 1231.5 1623.1 1233.5 1630.1 1235.5 1637.3 1237.5 1644.7 1239.5 1652.0 1241.5 1659.0 1243.5 1665.6 1245.5 1671.5 1247.5 1676.9 1249.5 1681.7 1251.5 1686.1 1253.5 1690.1 1255.5 1693.6 1257.5 1696.6 1259.5 1699.3 1261.5 1701.8 1263.5 1703.9 1265.5 1705.7 1267.5 1707.1 1269.5 1708.2 1271.5 1708.9 1273.5 1709.5 1275.5 1709.9 1277.5 1710.3 1279.5 1710.5 1281.5 1710.8 1283.5 1710.9 1285.5 1710.8 1287.5 1710.5 1289.5 1709.8 1291.5 1708.7 1293.5 1707.3 1295.5 1705.6 1297.5 1703.8 1299.5 1701.8 1301.5 1699.6 1303.5 1697.2 1305.5 1694.5 1307.5 1691.7 1309.5 1688.7 1311.5 1685.7 1313.5 1682.6 1315.5 1679.4 1317.5 1676.0 1319.5 1672.7 1321.5 1669.4 1323.5 1666.4 1325.5 1663.6 1327.5 1661.2 1329.5 1659.1 1331.5 1657.3 1333.5 1655.6 1335.5 1654.1 1337.5 1652.7 1339.5 1651.5 1341.5 1650.4 1343.5 1649.4 1345.5 1648.6 1347.5 1647.9 1349.5 1647.2 1351.5 1646.5 1353.5 1646.0 1355.5 1645.5 1357.5 1645.2 1359.5 1645.0 1361.5 1645.0 1363.5 1645.2 1365.5 1645.6 1367.5 1646.2 1369.5 1646.9 1371.5 1647.7 1373.5 1648.7 1375.5 1649.7 1377.5 1650.9 1379.5 1652.3 1381.5 1653.9 1383.5 1655.8 1385.5 1657.9 1387.5 1660.2 1389.5 1662.8 1391.5 1665.8 1393.5 1669.1 1395.5 1672.6 1397.5 1676.2 1399.5 1679.5 1401.5 1682.2 1403.5 1684.4 1405.5 1686.1 1407.5 1687.5 1409.5 1688.8 1411.5 1689.9 1413.5 1690.9 1415.5 1692.0 1417.5 1693.0 1419.5 1694.2 1421.5 1695.4 1423.5 1696.6 1425.5 1697.8 1427.5 1699.1 1429.5 1700.3 1431.5 1701.5 1433.5 1702.6 1435.5 1703.7 1437.5 1704.8 1439.5 1705.8 1441.5 1706.9 1443.5 1707.9 1445.5 1708.9 1447.5 1709.9 1449.5 1710.8 1451.5 1711.7 1453.5 1712.6 1455.5 1713.4 1457.5 1714.3 1459.5 1715.0 1461.5 1715.8 1463.5 1716.5 1465.5 1717.2 1467.5 1717.9 1469.5 1718.6 1471.5 1719.3 1473.5 1720.0 1475.5 1720.6 1477.5 1721.2 1479.5 1721.8 1481.5 1722.3 1483.5 1722.7 1485.5 1723.1 1487.5 1723.4 1489.5 1723.6 1491.5 1723.8 1493.5 1723.9 1495.5 1724.0 1497.5 1724.1 1499.5 1724.1 1501.5 1724.2 1503.5 1724.2 1505.5 1724.3 1507.5 1724.4 1509.5 1724.4 1511.5 1724.5 1513.5 1724.6 1515.5 1724.7 1517.5 1724.9 1519.5 1725.1 1521.5 1725.3 1523.5 1725.6 1525.5 1726.0 1527.5 1726.4 1529.5 1726.9 1531.5 1727.4 1533.5 1727.9 1535.5 1728.5 1537.5 1729.1 1539.5 1729.7 1541.5 1730.4 1543.5 1731.1 1545.5 1731.9 1547.5 1732.7 1549.5 1733.7 1551.5 1734.8 1553.5 1735.9 1555.5 1737.0 1557.5 1738.2 1559.5 1739.3 1561.5 1740.4 1563.5 1741.4 1565.5 1742.5 1567.5 1743.5 1569.5 1744.5 1571.5 1745.6 1573.5 1746.7 1575.5 1747.9 1577.5 1749.1 1579.5 1750.4 1581.5 1751.8 1583.5 1753.2 1585.5 1754.7 1587.5 1756.2 1589.5 1757.7 1591.5 1759.3 1593.5 1760.9 1595.5 1762.6 1597.5 1764.4 1599.5 1766.2 1601.5 1768.0 1603.5 1769.7 1605.5 1771.5 1607.5 1773.1 1609.5 1774.6 1611.5 1776.0 1613.5 1777.4 1615.5 1778.6 1617.5 1779.7 1619.5 1780.8 1621.5 1781.7 1623.5 1782.6 1625.5 1783.4 1627.5 1784.2 1629.5 1784.9 1631.5 1785.5 1633.5 1786.2 1635.5 1786.8 1637.5 1787.3 1639.5 1787.8 1641.5 1788.3 1643.5 1788.8 1645.5 1789.3 1647.5 1789.7 1649.5 1790.2 1651.5 1790.6 1653.5 1791.0 1655.5 1791.5 1657.5 1791.9 1659.5 1792.2 1661.5 1792.6 1663.5 1792.9 1665.5 1793.3 1667.5 1793.6 1669.5 1793.9 1671.5 1794.1 1673.5 1794.4 1675.5 1794.6 1677.5 1794.8 1679.5 1794.9 1681.5 1795.1 1683.5 1795.2 1685.5 1795.4 1687.5 1795.5 1689.5 1795.6 1691.5 1795.8 1693.5 1795.9 1695.5 1796.0 1697.5 1796.1 1699.5 1796.2 1701.5 1796.3 1703.5 1796.4 1705.5 1796.5 1707.5 1796.6 1709.5 1796.7 1711.5 1796.8 1713.5 1796.9 1715.5 1796.9 1717.5 1797.0 1719.5 1797.0 1721.5 1797.1 1723.5 1797.1 1725.5 1797.2 1727.5 1797.2 1729.5 1797.2 1731.5 1797.2 1733.5 1797.2 1735.5 1797.1 1737.5 1797.1 1739.5 1797.0 1741.5 1796.9 1743.5 1796.8 1745.5 1796.6 1747.5 1796.5 1749.5 1796.4 1751.5 1796.2 1753.5 1796.0 1755.5 1795.9 1757.5 1795.7 1759.5 1795.5 1761.5 1795.3 1763.5 1795.1 1765.5 1794.9 1767.5 1794.7 1769.5 1794.5 1771.5 1794.3 1773.5 1794.0 1775.5 1793.7 1777.5 1793.4 1779.5 1793.1 1781.5 1792.8 1783.5 1792.5 1785.5 1792.2 1787.5 1791.9 1789.5 1791.6 1791.5 1791.2 1793.5 1790.9 1795.5 1790.6 1797.5 1790.3 1799.5 1790.1 1801.5 1789.8 1803.5 1789.5 1805.5 1789.2 1807.5 1789.0 1809.5 1788.7 1811.5 1788.4 1813.5 1788.1 1815.5 1787.9 1817.5 1787.6 1819.5 1787.3 1821.5 1787.1 1823.5 1786.9 1825.5 1786.7 1827.5 1786.5 1829.5 1786.3 1831.5 1786.2 1833.5 1786.0 1835.5 1785.9 1837.5 1785.9 1839.5 1785.8 1841.5 1785.7 1843.5 1785.6 1845.5 1785.6 1847.5 1785.6 1849.5 1785.5 1851.5 1785.6 1853.5 1785.7 1855.5 1785.9 1857.5 1786.1 1859.5 1786.5 1861.5 1786.8 1863.5 1787.2 1865.5 1787.5 1867.5 1787.9 1869.5 1788.3 1871.5 1788.6 1873.5 1789.0 1875.5 1789.4 1877.5 1789.8 1879.5 1790.2 1881.5 1790.6 1883.5 1791.0 1885.5 1791.4 1887.5 1791.8 1889.5 1792.2 1891.5 1792.6 1893.5 1792.9 1895.5 1793.2 1897.5 1793.5 1899.5 1793.7 1901.5 1793.9 1903.5 1794.1 1905.5 1794.3 1907.5 1794.4 1909.5 1794.5 1911.5 1794.7 1913.5 1794.8 1915.5 1794.9 1917.5 1795.0 1919.5 1795.2 1921.5 1795.3 1923.5 1795.4 1925.5 1795.5 1927.5 1795.6 1929.5 1795.6 1931.5 1795.7 1933.5 1795.8 1935.5 1795.9 1937.5 1796.0 1939.5 1796.0 1941.5 1796.1 1943.5 1796.2 1945.5 1796.3 1947.5 1796.3 1949.5 1796.4 1951.5 1796.5 1953.5 1796.5 1955.5 1796.6 1957.5 1796.6 1959.5 1796.7 1961.5 1796.8 1963.5 1796.8 1965.5 1796.9 1967.5 1796.9 1969.5 1797.0 1971.5 1797.0 1973.5 1797.1 1975.5 1797.1 1977.5 1797.2 1979.5 1797.2 1981.5 1797.3 1983.5 1797.3 1985.5 1797.4 1987.5 1797.4 1989.5 1797.4 1991.5 1797.5 1993.5 1797.5 1995.5 1797.5 1997.5 1797.6 1999.5 1797.6 2000.5 1797.6" stroke="#000000"/>
<path d="M247.5 1797.1L249.5 1797.1 251.5 1797.1 253.5 1797.1 255.5 1797.1 257.5 1797.1 259.5 1797.1 261.5 1797.1 263.5 1797.0 265.5 1797.0 267.5 1797.0 269.5 1797.0 271.5 1797.0 273.5 1797.0 275.5 1796.9 277.5 1796.9 279.5 1796.9 281.5 1796.9 283.5 1796.8 285.5 1796.8 287.5 1796.8 289.5 1796.8 291.5 1796.7 293.5 1796.7 295.5 1796.7 297.5 1796.6 299.5 1796.6 301.5 1796.6 303.5 1796.5 305.5 1796.5 307.5 1796.5 309.5 1796.4 311.5 1796.4 313.5 1796.3 315.5 1796.3 317.5 1796.2 319.5 1796.1 321.5 1796.1 323.5 1796.0 325.5 1795.9 327.5 1795.8 329.5 1795.7 331.5 1795.6 333.5 1795.5 335.5 1795.4 337.5 1795.3 339.5 1795.2 341.5 1795.1 343.5 1795.0 345.5 1794.9 347.5 1794.7 349.5 1794.6 351.5 1794.5 353.5 1794.4 355.5 1794.2 357.5 1794.1 359.5 1793.9 361.5 1793.8 363.5 1793.7 365.5 1793.5 367.5 1793.4 369.5 1793.2 371.5 1793.1 373.5 1792.9 375.5 1792.8 377.5 1792.6 379.5 1792.4 381.5 1792.2 383.5 1792.0 385.5 1791.8 387.5 1791.6 389.5 1791.4 391.5 1791.2 393.5 1790.9 395.5 1790.7 397.5 1790.4 399.5 1790.2 401.5 1789.9 403.5 1789.7 405.5 1789.4 407.5 1789.1 409.5 1788.8 411.5 1788.5 413.5 1788.3 415.5 1788.0 417.5 1787.7 419.5 1787.4 421.5 1787.1 423.5 1786.8 425.5 1786.4 427.5 1786.1 429.5 1785.8 431.5 1785.4 433.5 1785.0 435.5 1784.7 437.5 1784.3 439.5 1783.9 441.5 1783.5 443.5 1783.1 445.5 1782.7 447.5 1782.3 449.5 1781.8 451.5 1781.4 453.5 1781.0 455.5 1780.6 457.5 1780.1 459.5 1779.7 461.5 1779.3 463.5 1778.8 465.5 1778.4 467.5 1778.0 469.5 1777.5 471.5 1777.1 473.5 1776.7 475.5 1776.3 477.5 1775.9 479.5 1775.4 481.5 1775.0 483.5 1774.6 485.5 1774.2 487.5 1773.8 489.5 1773.4 491.5 1773.0 493.5 1772.6 495.5 1772.2 497.5 1771.7 499.5 1771.3 501.5 1770.9 503.5 1770.4 505.5 1770.0 507.5 1769.5 509.5 1769.0 511.5 1768.6 513.5 1768.1 515.5 1767.6 517.5 1767.1 519.5 1766.5 521.5 1766.0 523.5 1765.4 525.5 1764.8 527.5 1764.2 529.5 1763.6 531.5 1762.9 533.5 1762.2 535.5 1761.5 537.5 1760.9 539.5 1760.2 541.5 1759.5 543.5 1758.9 545.5 1758.3 547.5 1757.7 549.5 1757.1 551.5 1756.5 553.5 1755.8 555.5 1755.1 557.5 1754.4 559.5 1753.6 561.5 1752.8 563.5 1751.8 565.5 1750.8 567.5 1749.6 569.5 1748.2 571.5 1746.8 573.5 1745.2 575.5 1743.5 577.5 1741.8 579.5 1739.9 581.5 1737.9 583.5 1735.9 585.5 1733.8 587.5 1731.7 589.5 1729.4 591.5 1726.9 593.5 1724.2 595.5 1721.5 597.5 1718.6 599.5 1715.6 601.5 1712.6 603.5 1709.6 605.5 1706.6 607.5 1703.6 609.5 1700.5 611.5 1697.4 613.5 1694.3 615.5 1691.1 617.5 1688.0 619.5 1685.0 621.5 1682.0 623.5 1679.1 625.5 1676.3 627.5 1673.6 629.5 1670.9 631.5 1668.3 633.5 1665.7 635.5 1663.1 637.5 1660.4 639.5 1657.7 641.5 1654.9 643.5 1652.0 645.5 1649.0 647.5 1646.0 649.5 1642.9 651.5 1639.7 653.5 1636.6 655.5 1633.5 657.5 1630.4 659.5 1627.4 661.5 1624.4 663.5 1621.4 665.5 1618.4 667.5 1615.4 669.5 1612.2 671.5 1609.0 673.5 1605.7 675.5 1602.2 677.5 1598.8 679.5 1595.3 681.5 1591.9 683.5 1588.5 685.5 1585.4 687.5 1582.3 689.5 1579.4 691.5 1576.6 693.5 1573.9 695.5 1571.2 697.5 1568.7 699.5 1566.2 701.5 1563.8 703.5 1561.6 705.5 1559.4 707.5 1557.3 709.5 1555.3 711.5 1553.3 713.5 1551.4 715.5 1549.5 717.5 1547.5 719.5 1545.5 721.5 1543.5 723.5 1541.5 725.5 1539.5 727.5 1537.4 729.5 1535.4 731.5 1533.4 733.5 1531.5 735.5 1529.6 737.5 1527.9 739.5 1526.2 741.5 1524.7 743.5 1523.1 745.5 1521.6 747.5 1520.0 749.5 1518.4 751.5 1516.6 753.5 1514.7 755.5 1512.7 757.5 1510.4 759.5 1508.1 761.5 1505.7 763.5 1503.2 765.5 1500.7 767.5 1498.1 769.5 1495.6 771.5 1493.0 773.5 1490.5 775.5 1487.9 777.5 1485.3 779.5 1482.7 781.5 1480.1 783.5 1477.4 785.5 1474.8 787.5 1472.1 789.5 1469.3 791.5 1466.6 793.5 1463.8 795.5 1461.1 797.5 1458.2 799.5 1455.3 801.5 1452.3 803.5 1449.3 805.5 1446.0 807.5 1442.7 809.5 1439.4 811.5 1436.2 813.5 1433.2 815.5 1430.5 817.5 1428.1 819.5 1425.9 821.5 1423.9 823.5 1422.0 825.5 1420.2 827.5 1418.6 829.5 1417.1 831.5 1415.6 833.5 1414.3 835.5 1413.1 837.5 1411.9 839.5 1410.8 841.5 1409.8 843.5 1408.8 845.5 1407.9 847.5 1407.0 849.5 1406.0 851.5 1405.1 853.5 1404.1 855.5 1403.2 857.5 1402.2 859.5 1401.2 861.5 1400.2 863.5 1399.2 865.5 1398.2 867.5 1397.2 869.5 1396.2 871.5 1395.2 873.5 1394.1 875.5 1393.1 877.5 1392.0 879.5 1390.9 881.5 1389.7 883.5 1388.4 885.5 1387.2 887.5 1385.9 889.5 1384.8 891.5 1383.7 893.5 1382.9 895.5 1382.3 897.5 1382.1 899.5 1382.3 901.5 1383.1 903.5 1384.4 905.5 1386.1 907.5 1387.9 909.5 1389.6 911.5 1390.9 913.5 1391.7 915.5 1392.1 917.5 1392.1 919.5 1392.0 921.5 1391.7 923.5 1391.4 925.5 1391.1 927.5 1390.8 929.5 1390.5 931.5 1390.2 933.5 1389.9 935.5 1389.6 937.5 1389.3 939.5 1388.9 941.5 1388.7 943.5 1388.4 945.5 1388.3 947.5 1388.3 949.5 1388.5 951.5 1389.0 953.5 1390.0 955.5 1391.2 957.5 1392.6 959.5 1394.1 961.5 1395.6 963.5 1396.8 965.5 1397.8 967.5 1398.4 969.5 1398.7 971.5 1398.7 973.5 1398.6 975.5 1398.5 977.5 1398.3 979.5 1398.0 981.5 1397.5 983.5 1396.8 985.5 1395.8 987.5 1394.5 989.5 1392.9 991.5 1391.1 993.5 1389.1 995.5 1387.0 997.5 1384.8 999.5 1382.4 1001.5 1379.7 1003.5 1376.8 1005.5 1373.8 1007.5 1370.5 1009.5 1367.0 1011.5 1363.3 1013.5 1359.4 1015.5 1355.6 1017.5 1352.0 1019.5 1348.8 1021.5 1345.9 1023.5 1343.3 1025.5 1340.9 1027.5 1338.8 1029.5 1336.8 1031.5 1335.0 1033.5 1333.4 1035.5 1331.9 1037.5 1330.5 1039.5 1329.3 1041.5 1328.1 1043.5 1326.9 1045.5 1325.9 1047.5 1325.0 1049.5 1324.2 1051.5 1323.7 1053.5 1323.4 1055.5 1323.3 1057.5 1323.6 1059.5 1324.1 1061.5 1324.8 1063.5 1325.7 1065.5 1326.8 1067.5 1328.0 1069.5 1329.3 1071.5 1330.7 1073.5 1332.1 1075.5 1333.7 1077.5 1335.4 1079.5 1337.3 1081.5 1339.3 1083.5 1341.6 1085.5 1343.9 1087.5 1346.3 1089.5 1348.8 1091.5 1351.2 1093.5 1353.6 1095.5 1355.8 1097.5 1358.0 1099.5 1360.1 1101.5 1362.1 1103.5 1364.0 1105.5 1365.8 1107.5 1367.6 1109.5 1369.4 1111.5 1371.2 1113.5 1372.9 1115.5 1374.7 1117.5 1376.4 1119.5 1378.2 1121.5 1380.0 1123.5 1381.7 1125.5 1383.5 1127.5 1385.3 1129.5 1387.1 1131.5 1388.8 1133.5 1390.6 1135.5 1392.4 1137.5 1394.2 1139.5 1395.9 1141.5 1397.8 1143.5 1399.6 1145.5 1401.4 1147.5 1403.3 1149.5 1405.2 1151.5 1407.0 1153.5 1408.9 1155.5 1410.8 1157.5 1412.8 1159.5 1414.8 1161.5 1416.8 1163.5 1419.0 1165.5 1421.2 1167.5 1423.6 1169.5 1426.0 1171.5 1428.6 1173.5 1431.4 1175.5 1434.4 1177.5 1437.6 1179.5 1441.0 1181.5 1444.8 1183.5 1448.8 1185.5 1453.2 1187.5 1457.8 1189.5 1462.5 1191.5 1467.5 1193.5 1472.6 1195.5 1478.0 1197.5 1483.5 1199.5 1489.2 1201.5 1495.0 1203.5 1501.0 1205.5 1507.0 1207.5 1513.1 1209.5 1519.4 1211.5 1525.9 1213.5 1532.6 1215.5 1539.7 1217.5 1547.2 1219.5 1554.9 1221.5 1563.0 1223.5 1571.1 1225.5 1579.4 1227.5 1587.6 1229.5 1595.8 1231.5 1603.9 1233.5 1611.6 1235.5 1618.9 1237.5 1625.8 1239.5 1632.3 1241.5 1638.6 1243.5 1644.6 1245.5 1650.4 1247.5 1655.9 1249.5 1661.4 1251.5 1666.7 1253.5 1671.9 1255.5 1676.9 1257.5 1681.6 1259.5 1685.7 1261.5 1689.1 1263.5 1692.0 1265.5 1694.3 1267.5 1696.2 1269.5 1697.9 1271.5 1699.3 1273.5 1700.4 1275.5 1701.2 1277.5 1701.6 1279.5 1701.7 1281.5 1701.5 1283.5 1701.2 1285.5 1700.6 1287.5 1700.0 1289.5 1699.2 1291.5 1698.1 1293.5 1696.6 1295.5 1694.6 1297.5 1692.1 1299.5 1689.3 1301.5 1686.2 1303.5 1683.0 1305.5 1679.7 1307.5 1676.3 1309.5 1672.8 1311.5 1669.2 1313.5 1665.4 1315.5 1661.5 1317.5 1657.7 1319.5 1653.8 1321.5 1649.9 1323.5 1646.0 1325.5 1642.1 1327.5 1638.3 1329.5 1634.7 1331.5 1631.3 1333.5 1628.0 1335.5 1625.0 1337.5 1622.1 1339.5 1619.4 1341.5 1617.0 1343.5 1614.9 1345.5 1613.1 1347.5 1611.6 1349.5 1610.3 1351.5 1609.1 1353.5 1608.1 1355.5 1607.3 1357.5 1606.7 1359.5 1606.4 1361.5 1606.4 1363.5 1606.7 1365.5 1607.4 1367.5 1608.4 1369.5 1609.7 1371.5 1611.1 1373.5 1612.7 1375.5 1614.4 1377.5 1616.1 1379.5 1618.1 1381.5 1620.2 1383.5 1622.5 1385.5 1625.1 1387.5 1628.0 1389.5 1631.1 1391.5 1634.7 1393.5 1638.8 1395.5 1643.2 1397.5 1647.7 1399.5 1651.8 1401.5 1655.3 1403.5 1658.1 1405.5 1660.4 1407.5 1662.2 1409.5 1663.8 1411.5 1665.2 1413.5 1666.7 1415.5 1668.1 1417.5 1669.6 1419.5 1671.3 1421.5 1673.0 1423.5 1674.8 1425.5 1676.7 1427.5 1678.6 1429.5 1680.5 1431.5 1682.2 1433.5 1683.8 1435.5 1685.3 1437.5 1686.7 1439.5 1688.0 1441.5 1689.2 1443.5 1690.4 1445.5 1691.5 1447.5 1692.6 1449.5 1693.6 1451.5 1694.7 1453.5 1695.6 1455.5 1696.6 1457.5 1697.5 1459.5 1698.4 1461.5 1699.3 1463.5 1700.2 1465.5 1701.2 1467.5 1702.2 1469.5 1703.1 1471.5 1704.1 1473.5 1705.0 1475.5 1705.9 1477.5 1706.7 1479.5 1707.4 1481.5 1708.1 1483.5 1708.6 1485.5 1709.0 1487.5 1709.3 1489.5 1709.5 1491.5 1709.6 1493.5 1709.6 1495.5 1709.6 1497.5 1709.6 1499.5 1709.6 1501.5 1709.6 1503.5 1709.6 1505.5 1709.6 1507.5 1709.6 1509.5 1709.6 1511.5 1709.6 1513.5 1709.6 1515.5 1709.6 1517.5 1709.6 1519.5 1709.7 1521.5 1709.9 1523.5 1710.0 1525.5 1710.3 1527.5 1710.6 1529.5 1711.0 1531.5 1711.4 1533.5 1711.9 1535.5 1712.4 1537.5 1712.9 1539.5 1713.5 1541.5 1714.2 1543.5 1714.9 1545.5 1715.7 1547.5 1716.8 1549.5 1718.1 1551.5 1719.6 1553.5 1721.2 1555.5 1722.8 1557.5 1724.4 1559.5 1726.0 1561.5 1727.4 1563.5 1728.8 1565.5 1730.1 1567.5 1731.3 1569.5 1732.6 1571.5 1733.9 1573.5 1735.3 1575.5 1736.8 1577.5 1738.4 1579.5 1740.2 1581.5 1742.1 1583.5 1744.1 1585.5 1746.3 1587.5 1748.4 1589.5 1750.7 1591.5 1753.0 1593.5 1755.3 1595.5 1757.7 1597.5 1760.0 1599.5 1762.3 1601.5 1764.4 1603.5 1766.5 1605.5 1768.4 1607.5 1770.2 1609.5 1771.9 1611.5 1773.5 1613.5 1774.9 1615.5 1776.1 1617.5 1777.2 1619.5 1778.2 1621.5 1779.2 1623.5 1780.0 1625.5 1780.8 1627.5 1781.6 1629.5 1782.3 1631.5 1783.1 1633.5 1783.8 1635.5 1784.4 1637.5 1785.1 1639.5 1785.8 1641.5 1786.4 1643.5 1787.0 1645.5 1787.6 1647.5 1788.1 1649.5 1788.6 1651.5 1789.1 1653.5 1789.6 1655.5 1790.0 1657.5 1790.5 1659.5 1790.9 1661.5 1791.4 1663.5 1791.8 1665.5 1792.3 1667.5 1792.7 1669.5 1793.1 1671.5 1793.5 1673.5 1793.9 1675.5 1794.3 1677.5 1794.7 1679.5 1795.0 1681.5 1795.4 1683.5 1795.7 1685.5 1795.9 1687.5 1796.2 1689.5 1796.4 1691.5 1796.6 1693.5 1796.7 1695.5 1796.8 1697.5 1796.9 1699.5 1797.0 1701.5 1797.0 1703.5 1797.0 1705.5 1797.0 1707.5 1797.0 1709.5 1797.0 1711.5 1797.0 1713.5 1797.0 1715.5 1797.0 1717.5 1797.0 1719.5 1797.0 1721.5 1797.0 1723.5 1797.0 1725.5 1797.0 1727.5 1797.0 1729.5 1797.0 1731.5 1797.0 1733.5 1797.0 1735.5 1796.9 1737.5 1796.9 1739.5 1796.8 1741.5 1796.7 1743.5 1796.5 1745.5 1796.4 1747.5 1796.2 1749.5 1796.1 1751.5 1795.9 1753.5 1795.7 1755.5 1795.5 1757.5 1795.3 1759.5 1795.1 1761.5 1794.9 1763.5 1794.7 1765.5 1794.5 1767.5 1794.2 1769.5 1794.0 1771.5 1793.7 1773.5 1793.4 1775.5 1793.0 1777.5 1792.7 1779.5 1792.3 1781.5 1791.9 1783.5 1791.5 1785.5 1791.1 1787.5 1790.7 1789.5 1790.4 1791.5 1790.0 1793.5 1789.6 1795.5 1789.2 1797.5 1788.9 1799.5 1788.5 1801.5 1788.2 1803.5 1787.9 1805.5 1787.5 1807.5 1787.2 1809.5 1786.8 1811.5 1786.5 1813.5 1786.2 1815.5 1785.9 1817.5 1785.5 1819.5 1785.2 1821.5 1784.9 1823.5 1784.7 1825.5 1784.4 1827.5 1784.1 1829.5 1783.9 1831.5 1783.7 1833.5 1783.5 1835.5 1783.4 1837.5 1783.2 1839.5 1783.0 1841.5 1782.9 1843.5 1782.8 1845.5 1782.7 1847.5 1782.6 1849.5 1782.6 1851.5 1782.7 1853.5 1782.9 1855.5 1783.2 1857.5 1783.7 1859.5 1784.2 1861.5 1784.8 1863.5 1785.4 1865.5 1785.9 1867.5 1786.5 1869.5 1786.9 1871.5 1787.4 1873.5 1787.9 1875.5 1788.3 1877.5 1788.8 1879.5 1789.2 1881.5 1789.7 1883.5 1790.1 1885.5 1790.6 1887.5 1791.0 1889.5 1791.4 1891.5 1791.7 1893.5 1792.1 1895.5 1792.4 1897.5 1792.7 1899.5 1792.9 1901.5 1793.1 1903.5 1793.3 1905.5 1793.5 1907.5 1793.6 1909.5 1793.8 1911.5 1793.9 1913.5 1794.0 1915.5 1794.1 1917.5 1794.3 1919.5 1794.4 1921.5 1794.5 1923.5 1794.6 1925.5 1794.7 1927.5 1794.8 1929.5 1794.9 1931.5 1794.9 1933.5 1795.0 1935.5 1795.1 1937.5 1795.2 1939.5 1795.3 1941.5 1795.3 1943.5 1795.4 1945.5 1795.5 1947.5 1795.6 1949.5 1795.7 1951.5 1795.7 1953.5 1795.8 1955.5 1795.9 1957.5 1796.0 1959.5 1796.0 1961.5 1796.1 1963.5 1796.2 1965.5 1796.3 1967.5 1796.4 1969.5 1796.4 1971.5 1796.5 1973.5 1796.6 1975.5 1796.6 1977.5 1796.7 1979.5 1796.8 1981.5 1796.8 1983.5 1796.9 1985.5 1797.0 1987.5 1797.0 1989.5 1797.1 1991.5 1797.1 1993.5 1797.2 1995.5 1797.3 1997.5 1797.3 1999.5 1797.4 2000.5 1797.4" stroke="#ff0000"/>
<path d="M247.5 1797.1L249.5 1797.1 251.5 1797.1 253.5 1797.1 255.5 1797.1 257.5 1797.1 259.5 1797.0 261.5 1797.0 263.5 1797.0 265.5 1797.0 267.5 1797.0 269.5 1796.9 271.5 1796.9 273.5 1796.9 275.5 1796.8 277.5 1796.8 279.5 1796.8 281.5 1796.7 283.5 1796.7 285.5 1796.7 287.5 1796.6 289.5 1796.6 291.5 1796.5 293.5 1796.5 295.5 1796.4 297.5 1796.4 299.5 1796.4 301.5 1796.3 303.5 1796.3 305.5 1796.2 307.5 1796.2 309.5 1796.1 311.5 1796.0 313.5 1796.0 315.5 1795.9 317.5 1795.8 319.5 1795.8 321.5 1795.7 323.5 1795.6 325.5 1795.5 327.5 1795.4 329.5 1795.3 331.5 1795.2 333.5 1795.1 335.5 1795.0 337.5 1794.9 339.5 1794.8 341.5 1794.7 343.5 1794.6 345.5 1794.4 347.5 1794.3 349.5 1794.2 351.5 1794.0 353.5 1793.9 355.5 1793.8 357.5 1793.6 359.5 1793.5 361.5 1793.3 363.5 1793.2 365.5 1793.0 367.5 1792.9 369.5 1792.7 371.5 1792.6 373.5 1792.4 375.5 1792.2 377.5 1792.1 379.5 1791.9 381.5 1791.7 383.5 1791.5 385.5 1791.2 387.5 1791.0 389.5 1790.8 391.5 1790.5 393.5 1790.3 395.5 1790.0 397.5 1789.7 399.5 1789.5 401.5 1789.2 403.5 1788.9 405.5 1788.6 407.5 1788.3 409.5 1788.0 411.5 1787.7 413.5 1787.4 415.5 1787.1 417.5 1786.7 419.5 1786.4 421.5 1786.1 423.5 1785.7 425.5 1785.4 427.5 1785.0 429.5 1784.7 431.5 1784.3 433.5 1783.9 435.5 1783.5 437.5 1783.1 439.5 1782.6 441.5 1782.2 443.5 1781.8 445.5 1781.3 447.5 1780.8 449.5 1780.4 451.5 1779.9 453.5 1779.4 455.5 1779.0 457.5 1778.5 459.5 1778.0 461.5 1777.5 463.5 1777.0 465.5 1776.6 467.5 1776.1 469.5 1775.6 471.5 1775.1 473.5 1774.6 475.5 1774.1 477.5 1773.6 479.5 1773.1 481.5 1772.6 483.5 1772.1 485.5 1771.6 487.5 1771.0 489.5 1770.5 491.5 1770.0 493.5 1769.4 495.5 1768.9 497.5 1768.4 499.5 1767.8 501.5 1767.3 503.5 1766.7 505.5 1766.2 507.5 1765.7 509.5 1765.1 511.5 1764.6 513.5 1764.1 515.5 1763.5 517.5 1763.0 519.5 1762.5 521.5 1762.0 523.5 1761.6 525.5 1761.1 527.5 1760.7 529.5 1760.3 531.5 1759.9 533.5 1759.6 535.5 1759.2 537.5 1758.8 539.5 1758.4 541.5 1758.1 543.5 1757.7 545.5 1757.2 547.5 1756.8 549.5 1756.3 551.5 1755.8 553.5 1755.2 555.5 1754.5 557.5 1753.8 559.5 1753.0 561.5 1752.1 563.5 1750.9 565.5 1749.6 567.5 1748.0 569.5 1746.2 571.5 1744.3 573.5 1742.2 575.5 1740.1 577.5 1737.8 579.5 1735.4 581.5 1732.9 583.5 1730.1 585.5 1727.2 587.5 1724.0 589.5 1720.7 591.5 1717.2 593.5 1713.7 595.5 1710.1 597.5 1706.5 599.5 1702.9 601.5 1699.2 603.5 1695.5 605.5 1691.8 607.5 1688.0 609.5 1684.1 611.5 1680.3 613.5 1676.5 615.5 1672.9 617.5 1669.4 619.5 1666.0 621.5 1662.9 623.5 1659.9 625.5 1657.0 627.5 1654.2 629.5 1651.5 631.5 1648.7 633.5 1645.9 635.5 1643.0 637.5 1640.1 639.5 1637.0 641.5 1634.0 643.5 1630.9 645.5 1627.8 647.5 1624.6 649.5 1621.4 651.5 1618.2 653.5 1615.0 655.5 1611.8 657.5 1608.6 659.5 1605.3 661.5 1602.0 663.5 1598.7 665.5 1595.4 667.5 1592.1 669.5 1588.9 671.5 1585.6 673.5 1582.4 675.5 1579.3 677.5 1576.1 679.5 1573.0 681.5 1569.9 683.5 1566.8 685.5 1563.7 687.5 1560.6 689.5 1557.5 691.5 1554.4 693.5 1551.4 695.5 1548.3 697.5 1545.3 699.5 1542.3 701.5 1539.5 703.5 1536.6 705.5 1533.9 707.5 1531.3 709.5 1528.7 711.5 1526.1 713.5 1523.6 715.5 1521.0 717.5 1518.4 719.5 1515.8 721.5 1513.0 723.5 1510.2 725.5 1507.4 727.5 1504.5 729.5 1501.7 731.5 1498.9 733.5 1496.2 735.5 1493.6 737.5 1491.1 739.5 1488.8 741.5 1486.5 743.5 1484.4 745.5 1482.2 747.5 1480.1 749.5 1477.8 751.5 1475.5 753.5 1473.1 755.5 1470.5 757.5 1467.9 759.5 1465.1 761.5 1462.3 763.5 1459.4 765.5 1456.6 767.5 1453.7 769.5 1450.7 771.5 1447.8 773.5 1444.9 775.5 1441.9 777.5 1439.0 779.5 1436.0 781.5 1432.9 783.5 1429.9 785.5 1426.9 787.5 1423.9 789.5 1420.9 791.5 1417.8 793.5 1414.8 795.5 1411.7 797.5 1408.5 799.5 1405.1 801.5 1401.4 803.5 1397.4 805.5 1393.1 807.5 1388.7 809.5 1384.4 811.5 1380.5 813.5 1377.0 815.5 1373.9 817.5 1371.1 819.5 1368.4 821.5 1365.9 823.5 1363.6 825.5 1361.4 827.5 1359.2 829.5 1357.2 831.5 1355.2 833.5 1353.3 835.5 1351.4 837.5 1349.5 839.5 1347.7 841.5 1346.0 843.5 1344.4 845.5 1342.8 847.5 1341.2 849.5 1339.7 851.5 1338.3 853.5 1337.0 855.5 1335.8 857.5 1334.6 859.5 1333.5 861.5 1332.4 863.5 1331.4 865.5 1330.4 867.5 1329.5 869.5 1328.5 871.5 1327.6 873.5 1326.7 875.5 1325.7 877.5 1324.6 879.5 1323.5 881.5 1322.3 883.5 1321.1 885.5 1319.8 887.5 1318.5 889.5 1317.4 891.5 1316.3 893.5 1315.5 895.5 1314.9 897.5 1314.7 899.5 1314.9 901.5 1315.7 903.5 1317.0 905.5 1318.7 907.5 1320.5 909.5 1322.2 911.5 1323.5 913.5 1324.3 915.5 1324.7 917.5 1324.8 919.5 1324.8 921.5 1324.7 923.5 1324.6 925.5 1324.4 927.5 1324.3 929.5 1324.0 931.5 1323.8 933.5 1323.4 935.5 1323.0 937.5 1322.5 939.5 1322.0 941.5 1321.5 943.5 1321.2 945.5 1321.1 947.5 1321.4 949.5 1322.2 951.5 1323.5 953.5 1325.1 955.5 1326.9 957.5 1328.5 959.5 1330.0 961.5 1331.2 963.5 1332.3 965.5 1333.3 967.5 1334.2 969.5 1335.1 971.5 1335.7 973.5 1336.2 975.5 1336.5 977.5 1336.5 979.5 1336.1 981.5 1335.3 983.5 1334.2 985.5 1332.9 987.5 1331.3 989.5 1329.6 991.5 1327.7 993.5 1325.5 995.5 1323.2 997.5 1320.5 999.5 1317.5 1001.5 1314.2 1003.5 1310.7 1005.5 1306.8 1007.5 1302.7 1009.5 1298.1 1011.5 1293.3 1013.5 1288.5 1015.5 1283.9 1017.5 1279.6 1019.5 1275.7 1021.5 1272.2 1023.5 1268.9 1025.5 1265.9 1027.5 1263.1 1029.5 1260.4 1031.5 1257.9 1033.5 1255.6 1035.5 1253.4 1037.5 1251.4 1039.5 1249.5 1041.5 1247.7 1043.5 1246.3 1045.5 1245.2 1047.5 1244.4 1049.5 1243.9 1051.5 1243.4 1053.5 1243.1 1055.5 1242.9 1057.5 1242.8 1059.5 1242.9 1061.5 1243.3 1063.5 1244.1 1065.5 1245.3 1067.5 1246.9 1069.5 1248.7 1071.5 1250.8 1073.5 1253.1 1075.5 1255.4 1077.5 1257.7 1079.5 1260.0 1081.5 1262.5 1083.5 1265.0 1085.5 1267.7 1087.5 1270.6 1089.5 1273.5 1091.5 1276.4 1093.5 1279.3 1095.5 1282.0 1097.5 1284.7 1099.5 1287.2 1101.5 1289.7 1103.5 1292.0 1105.5 1294.3 1107.5 1296.5 1109.5 1298.7 1111.5 1300.8 1113.5 1302.9 1115.5 1305.1 1117.5 1307.2 1119.5 1309.3 1121.5 1311.5 1123.5 1313.6 1125.5 1315.8 1127.5 1318.0 1129.5 1320.1 1131.5 1322.3 1133.5 1324.5 1135.5 1326.6 1137.5 1328.8 1139.5 1331.0 1141.5 1333.2 1143.5 1335.4 1145.5 1337.7 1147.5 1340.0 1149.5 1342.3 1151.5 1344.6 1153.5 1346.9 1155.5 1349.3 1157.5 1351.6 1159.5 1354.1 1161.5 1356.7 1163.5 1359.5 1165.5 1362.4 1167.5 1365.6 1169.5 1369.0 1171.5 1372.7 1173.5 1376.7 1175.5 1380.9 1177.5 1385.4 1179.5 1390.1 1181.5 1395.2 1183.5 1400.5 1185.5 1406.0 1187.5 1411.8 1189.5 1417.7 1191.5 1423.7 1193.5 1429.9 1195.5 1436.1 1197.5 1442.5 1199.5 1448.9 1201.5 1455.5 1203.5 1462.0 1205.5 1468.6 1207.5 1475.1 1209.5 1481.8 1211.5 1488.7 1213.5 1495.7 1215.5 1503.1 1217.5 1510.8 1219.5 1518.9 1221.5 1527.5 1223.5 1536.9 1225.5 1547.3 1227.5 1558.9 1229.5 1571.5 1231.5 1584.6 1233.5 1597.2 1235.5 1608.4 1237.5 1617.8 1239.5 1625.4 1241.5 1631.6 1243.5 1636.9 1245.5 1641.8 1247.5 1646.7 1249.5 1651.8 1251.5 1657.2 1253.5 1662.8 1255.5 1668.4 1257.5 1673.7 1259.5 1678.4 1261.5 1682.4 1263.5 1685.7 1265.5 1688.6 1267.5 1691.0 1269.5 1693.1 1271.5 1694.8 1273.5 1696.1 1275.5 1697.0 1277.5 1697.6 1279.5 1698.1 1281.5 1698.5 1283.5 1698.7 1285.5 1698.6 1287.5 1698.2 1289.5 1697.4 1291.5 1696.1 1293.5 1694.4 1295.5 1692.4 1297.5 1690.2 1299.5 1687.7 1301.5 1684.9 1303.5 1681.9 1305.5 1678.4 1307.5 1674.7 1309.5 1670.7 1311.5 1666.6 1313.5 1662.3 1315.5 1657.8 1317.5 1653.2 1319.5 1648.3 1321.5 1643.4 1323.5 1638.3 1325.5 1633.1 1327.5 1627.7 1329.5 1622.2 1331.5 1616.6 1333.5 1611.1 1335.5 1606.0 1337.5 1601.3 1339.5 1597.2 1341.5 1593.7 1343.5 1590.5 1345.5 1587.8 1347.5 1585.4 1349.5 1583.5 1351.5 1582.0 1353.5 1580.7 1355.5 1579.7 1357.5 1579.0 1359.5 1578.4 1361.5 1578.1 1363.5 1578.2 1365.5 1578.5 1367.5 1579.2 1369.5 1580.1 1371.5 1581.3 1373.5 1582.6 1375.5 1584.2 1377.5 1586.1 1379.5 1588.4 1381.5 1591.3 1383.5 1594.6 1385.5 1598.7 1387.5 1603.5 1389.5 1609.0 1391.5 1614.5 1393.5 1619.7 1395.5 1624.0 1397.5 1627.7 1399.5 1630.9 1401.5 1633.7 1403.5 1636.3 1405.5 1638.7 1407.5 1641.0 1409.5 1643.1 1411.5 1645.1 1413.5 1647.0 1415.5 1648.9 1417.5 1650.8 1419.5 1652.8 1421.5 1654.8 1423.5 1656.9 1425.5 1659.1 1427.5 1661.2 1429.5 1663.3 1431.5 1665.3 1433.5 1667.2 1435.5 1669.0 1437.5 1670.7 1439.5 1672.4 1441.5 1674.0 1443.5 1675.6 1445.5 1677.1 1447.5 1678.6 1449.5 1680.1 1451.5 1681.5 1453.5 1682.8 1455.5 1684.1 1457.5 1685.4 1459.5 1686.6 1461.5 1687.8 1463.5 1689.0 1465.5 1690.2 1467.5 1691.4 1469.5 1692.6 1471.5 1693.8 1473.5 1694.9 1475.5 1696.0 1477.5 1697.0 1479.5 1698.0 1481.5 1698.8 1483.5 1699.5 1485.5 1700.1 1487.5 1700.5 1489.5 1700.8 1491.5 1701.0 1493.5 1701.2 1495.5 1701.3 1497.5 1701.3 1499.5 1701.4 1501.5 1701.5 1503.5 1701.5 1505.5 1701.6 1507.5 1701.6 1509.5 1701.7 1511.5 1701.7 1513.5 1701.8 1515.5 1701.9 1517.5 1702.1 1519.5 1702.3 1521.5 1702.5 1523.5 1702.8 1525.5 1703.2 1527.5 1703.6 1529.5 1704.1 1531.5 1704.6 1533.5 1705.2 1535.5 1705.8 1537.5 1706.5 1539.5 1707.2 1541.5 1708.0 1543.5 1708.8 1545.5 1709.7 1547.5 1710.8 1549.5 1712.1 1551.5 1713.5 1553.5 1715.1 1555.5 1716.7 1557.5 1718.3 1559.5 1720.0 1561.5 1721.6 1563.5 1723.3 1565.5 1724.9 1567.5 1726.6 1569.5 1728.3 1571.5 1730.0 1573.5 1731.8 1575.5 1733.7 1577.5 1735.6 1579.5 1737.6 1581.5 1739.7 1583.5 1741.8 1585.5 1744.0 1587.5 1746.2 1589.5 1748.5 1591.5 1750.8 1593.5 1753.1 1595.5 1755.4 1597.5 1757.7 1599.5 1760.0 1601.5 1762.2 1603.5 1764.3 1605.5 1766.2 1607.5 1768.0 1609.5 1769.7 1611.5 1771.3 1613.5 1772.8 1615.5 1774.2 1617.5 1775.5 1619.5 1776.7 1621.5 1777.8 1623.5 1778.9 1625.5 1779.9 1627.5 1780.8 1629.5 1781.7 1631.5 1782.5 1633.5 1783.3 1635.5 1784.0 1637.5 1784.7 1639.5 1785.4 1641.5 1786.0 1643.5 1786.6 1645.5 1787.1 1647.5 1787.7 1649.5 1788.2 1651.5 1788.6 1653.5 1789.1 1655.5 1789.5 1657.5 1790.0 1659.5 1790.4 1661.5 1790.9 1663.5 1791.3 1665.5 1791.7 1667.5 1792.2 1669.5 1792.6 1671.5 1793.0 1673.5 1793.4 1675.5 1793.8 1677.5 1794.1 1679.5 1794.5 1681.5 1794.8 1683.5 1795.1 1685.5 1795.4 1687.5 1795.6 1689.5 1795.9 1691.5 1796.1 1693.5 1796.2 1695.5 1796.3 1697.5 1796.4 1699.5 1796.5 1701.5 1796.5 1703.5 1796.5 1705.5 1796.5 1707.5 1796.5 1709.5 1796.5 1711.5 1796.6 1713.5 1796.6 1715.5 1796.6 1717.5 1796.6 1719.5 1796.6 1721.5 1796.6 1723.5 1796.6 1725.5 1796.6 1727.5 1796.6 1729.5 1796.6 1731.5 1796.6 1733.5 1796.6 1735.5 1796.5 1737.5 1796.4 1739.5 1796.4 1741.5 1796.2 1743.5 1796.1 1745.5 1796.0 1747.5 1795.8 1749.5 1795.6 1751.5 1795.4 1753.5 1795.3 1755.5 1795.1 1757.5 1794.8 1759.5 1794.6 1761.5 1794.4 1763.5 1794.2 1765.5 1794.0 1767.5 1793.7 1769.5 1793.5 1771.5 1793.2 1773.5 1792.9 1775.5 1792.5 1777.5 1792.2 1779.5 1791.8 1781.5 1791.4 1783.5 1791.0 1785.5 1790.6 1787.5 1790.2 1789.5 1789.8 1791.5 1789.5 1793.5 1789.1 1795.5 1788.7 1797.5 1788.4 1799.5 1788.0 1801.5 1787.7 1803.5 1787.4 1805.5 1787.0 1807.5 1786.7 1809.5 1786.3 1811.5 1786.0 1813.5 1785.7 1815.5 1785.4 1817.5 1785.0 1819.5 1784.7 1821.5 1784.4 1823.5 1784.2 1825.5 1783.9 1827.5 1783.6 1829.5 1783.4 1831.5 1783.2 1833.5 1783.0 1835.5 1782.9 1837.5 1782.7 1839.5 1782.5 1841.5 1782.4 1843.5 1782.3 1845.5 1782.2 1847.5 1782.1 1849.5 1782.1 1851.5 1782.2 1853.5 1782.4 1855.5 1782.7 1857.5 1783.2 1859.5 1783.8 1861.5 1784.4 1863.5 1785.0 1865.5 1785.6 1867.5 1786.1 1869.5 1786.6 1871.5 1787.1 1873.5 1787.6 1875.5 1788.1 1877.5 1788.5 1879.5 1789.0 1881.5 1789.5 1883.5 1789.9 1885.5 1790.3 1887.5 1790.8 1889.5 1791.2 1891.5 1791.5 1893.5 1791.9 1895.5 1792.2 1897.5 1792.5 1899.5 1792.7 1901.5 1792.9 1903.5 1793.1 1905.5 1793.3 1907.5 1793.4 1909.5 1793.6 1911.5 1793.7 1913.5 1793.8 1915.5 1793.9 1917.5 1794.1 1919.5 1794.2 1921.5 1794.3 1923.5 1794.4 1925.5 1794.5 1927.5 1794.6 1929.5 1794.6 1931.5 1794.7 1933.5 1794.8 1935.5 1794.9 1937.5 1795.0 1939.5 1795.1 1941.5 1795.1 1943.5 1795.2 1945.5 1795.3 1947.5 1795.4 1949.5 1795.4 1951.5 1795.5 1953.5 1795.6 1955.5 1795.7 1957.5 1795.8 1959.5 1795.9 1961.5 1795.9 1963.5 1796.0 1965.5 1796.1 1967.5 1796.2 1969.5 1796.2 1971.5 1796.3 1973.5 1796.4 1975.5 1796.5 1977.5 1796.5 1979.5 1796.6 1981.5 1796.7 1983.5 1796.8 1985.5 1796.8 1987.5 1796.9 1989.5 1797.0 1991.5 1797.0 1993.5 1797.1 1995.5 1797.1 1997.5 1797.2 1999.5 1797.2 2000.5 1797.3" stroke="#0000ff"/>
<path d="M247.5 1797.1L249.5 1797.1 251.5 1797.1 253.5 1797.1 255.5 1797.1 257.5 1797.0 259.5 1797.0 261.5 1797.0 263.5 1797.0 265.5 1796.9 267.5 1796.9 269.5 1796.9 271.5 1796.8 273.5 1796.8 275.5 1796.8 277.5 1796.7 279.5 1796.7 281.5 1796.6 283.5 1796.6 285.5 1796.5 287.5 1796.5 289.5 1796.4 291.5 1796.4 293.5 1796.3 295.5 1796.3 297.5 1796.2 299.5 1796.2 301.5 1796.1 303.5 1796.1 305.5 1796.0 307.5 1796.0 309.5 1795.9 311.5 1795.8 313.5 1795.8 315.5 1795.7 317.5 1795.6 319.5 1795.5 321.5 1795.4 323.5 1795.3 325.5 1795.2 327.5 1795.1 329.5 1795.0 331.5 1794.9 333.5 1794.8 335.5 1794.7 337.5 1794.6 339.5 1794.4 341.5 1794.3 343.5 1794.2 345.5 1794.1 347.5 1793.9 349.5 1793.8 351.5 1793.6 353.5 1793.5 355.5 1793.3 357.5 1793.2 359.5 1793.0 361.5 1792.9 363.5 1792.7 365.5 1792.6 367.5 1792.4 369.5 1792.2 371.5 1792.1 373.5 1791.9 375.5 1791.7 377.5 1791.5 379.5 1791.3 381.5 1791.1 383.5 1790.9 385.5 1790.7 387.5 1790.5 389.5 1790.2 391.5 1790.0 393.5 1789.7 395.5 1789.5 397.5 1789.2 399.5 1789.0 401.5 1788.7 403.5 1788.4 405.5 1788.1 407.5 1787.8 409.5 1787.5 411.5 1787.2 413.5 1786.9 415.5 1786.6 417.5 1786.2 419.5 1785.9 421.5 1785.6 423.5 1785.2 425.5 1784.9 427.5 1784.5 429.5 1784.1 431.5 1783.7 433.5 1783.3 435.5 1782.9 437.5 1782.5 439.5 1782.0 441.5 1781.6 443.5 1781.1 445.5 1780.6 447.5 1780.2 449.5 1779.7 451.5 1779.2 453.5 1778.7 455.5 1778.2 457.5 1777.7 459.5 1777.2 461.5 1776.7 463.5 1776.2 465.5 1775.7 467.5 1775.1 469.5 1774.6 471.5 1774.1 473.5 1773.6 475.5 1773.1 477.5 1772.6 479.5 1772.0 481.5 1771.5 483.5 1770.9 485.5 1770.4 487.5 1769.8 489.5 1769.2 491.5 1768.7 493.5 1768.1 495.5 1767.5 497.5 1766.9 499.5 1766.4 501.5 1765.8 503.5 1765.2 505.5 1764.6 507.5 1764.0 509.5 1763.4 511.5 1762.9 513.5 1762.3 515.5 1761.7 517.5 1761.2 519.5 1760.6 521.5 1760.0 523.5 1759.5 525.5 1758.9 527.5 1758.4 529.5 1757.8 531.5 1757.3 533.5 1756.7 535.5 1756.2 537.5 1755.7 539.5 1755.2 541.5 1754.7 543.5 1754.2 545.5 1753.8 547.5 1753.4 549.5 1752.9 551.5 1752.5 553.5 1751.9 555.5 1751.3 557.5 1750.5 559.5 1749.6 561.5 1748.4 563.5 1747.0 565.5 1745.4 567.5 1743.6 569.5 1741.6 571.5 1739.6 573.5 1737.4 575.5 1735.2 577.5 1732.9 579.5 1730.4 581.5 1727.7 583.5 1724.9 585.5 1721.9 587.5 1718.9 589.5 1715.6 591.5 1712.3 593.5 1708.8 595.5 1705.1 597.5 1701.3 599.5 1697.2 601.5 1693.2 603.5 1689.2 605.5 1685.4 607.5 1681.7 609.5 1678.2 611.5 1674.8 613.5 1671.4 615.5 1668.1 617.5 1664.6 619.5 1661.1 621.5 1657.5 623.5 1653.9 625.5 1650.3 627.5 1646.8 629.5 1643.4 631.5 1640.0 633.5 1636.8 635.5 1633.6 637.5 1630.4 639.5 1627.2 641.5 1623.8 643.5 1620.3 645.5 1616.8 647.5 1613.1 649.5 1609.5 651.5 1606.0 653.5 1602.5 655.5 1599.2 657.5 1595.9 659.5 1592.7 661.5 1589.5 663.5 1586.3 665.5 1583.2 667.5 1580.0 669.5 1576.8 671.5 1573.6 673.5 1570.5 675.5 1567.4 677.5 1564.2 679.5 1561.2 681.5 1558.1 683.5 1555.0 685.5 1552.0 687.5 1548.9 689.5 1545.8 691.5 1542.7 693.5 1539.6 695.5 1536.6 697.5 1533.6 699.5 1530.7 701.5 1527.8 703.5 1525.1 705.5 1522.6 707.5 1520.1 709.5 1517.8 711.5 1515.4 713.5 1513.1 715.5 1510.7 717.5 1508.3 719.5 1505.7 721.5 1503.0 723.5 1500.1 725.5 1497.1 727.5 1494.1 729.5 1491.0 731.5 1488.0 733.5 1485.0 735.5 1482.1 737.5 1479.3 739.5 1476.6 741.5 1474.0 743.5 1471.4 745.5 1468.9 747.5 1466.3 749.5 1463.6 751.5 1460.9 753.5 1458.0 755.5 1455.0 757.5 1451.9 759.5 1448.7 761.5 1445.5 763.5 1442.2 765.5 1439.0 767.5 1435.8 769.5 1432.6 771.5 1429.6 773.5 1426.6 775.5 1423.6 777.5 1420.7 779.5 1417.7 781.5 1414.7 783.5 1411.7 785.5 1408.6 787.5 1405.4 789.5 1402.1 791.5 1398.8 793.5 1395.4 795.5 1392.0 797.5 1388.6 799.5 1385.1 801.5 1381.7 803.5 1378.2 805.5 1374.7 807.5 1371.3 809.5 1368.0 811.5 1364.8 813.5 1361.8 815.5 1359.0 817.5 1356.3 819.5 1353.7 821.5 1351.2 823.5 1348.8 825.5 1346.5 827.5 1344.3 829.5 1342.1 831.5 1340.1 833.5 1338.1 835.5 1336.2 837.5 1334.4 839.5 1332.6 841.5 1331.0 843.5 1329.3 845.5 1327.8 847.5 1326.2 849.5 1324.7 851.5 1323.3 853.5 1321.9 855.5 1320.5 857.5 1319.1 859.5 1317.8 861.5 1316.5 863.5 1315.2 865.5 1313.9 867.5 1312.7 869.5 1311.5 871.5 1310.4 873.5 1309.3 875.5 1308.3 877.5 1307.2 879.5 1306.2 881.5 1305.2 883.5 1304.1 885.5 1303.1 887.5 1302.1 889.5 1301.2 891.5 1300.5 893.5 1299.8 895.5 1299.4 897.5 1299.3 899.5 1299.6 901.5 1300.4 903.5 1301.7 905.5 1303.4 907.5 1305.2 909.5 1306.9 911.5 1308.2 913.5 1309.0 915.5 1309.2 917.5 1309.1 919.5 1308.8 921.5 1308.3 923.5 1307.8 925.5 1307.4 927.5 1307.0 929.5 1306.7 931.5 1306.5 933.5 1306.5 935.5 1306.5 937.5 1306.5 939.5 1306.5 941.5 1306.6 943.5 1306.7 945.5 1306.8 947.5 1306.9 949.5 1307.1 951.5 1307.2 953.5 1307.5 955.5 1307.9 957.5 1308.7 959.5 1309.9 961.5 1311.4 963.5 1313.1 965.5 1314.9 967.5 1316.5 969.5 1317.8 971.5 1318.7 973.5 1319.0 975.5 1318.9 977.5 1318.5 979.5 1317.8 981.5 1317.0 983.5 1316.0 985.5 1314.8 987.5 1313.6 989.5 1312.1 991.5 1310.5 993.5 1308.5 995.5 1306.1 997.5 1303.4 999.5 1300.4 1001.5 1297.1 1003.5 1293.3 1005.5 1289.0 1007.5 1284.3 1009.5 1279.1 1011.5 1273.9 1013.5 1268.8 1015.5 1264.1 1017.5 1259.8 1019.5 1255.8 1021.5 1252.1 1023.5 1248.7 1025.5 1245.5 1027.5 1242.7 1029.5 1240.1 1031.5 1237.8 1033.5 1235.6 1035.5 1233.7 1037.5 1231.9 1039.5 1230.3 1041.5 1228.9 1043.5 1227.7 1045.5 1226.8 1047.5 1226.0 1049.5 1225.3 1051.5 1224.8 1053.5 1224.5 1055.5 1224.3 1057.5 1224.5 1059.5 1224.9 1061.5 1225.6 1063.5 1226.7 1065.5 1227.9 1067.5 1229.4 1069.5 1231.0 1071.5 1232.8 1073.5 1234.6 1075.5 1236.5 1077.5 1238.5 1079.5 1240.7 1081.5 1243.0 1083.5 1245.6 1085.5 1248.5 1087.5 1251.7 1089.5 1254.9 1091.5 1258.2 1093.5 1261.4 1095.5 1264.5 1097.5 1267.4 1099.5 1270.1 1101.5 1272.7 1103.5 1275.1 1105.5 1277.4 1107.5 1279.7 1109.5 1281.9 1111.5 1284.1 1113.5 1286.2 1115.5 1288.3 1117.5 1290.4 1119.5 1292.5 1121.5 1294.5 1123.5 1296.6 1125.5 1298.6 1127.5 1300.7 1129.5 1302.6 1131.5 1304.6 1133.5 1306.6 1135.5 1308.5 1137.5 1310.5 1139.5 1312.4 1141.5 1314.4 1143.5 1316.4 1145.5 1318.5 1147.5 1320.5 1149.5 1322.6 1151.5 1324.7 1153.5 1326.8 1155.5 1329.0 1157.5 1331.2 1159.5 1333.4 1161.5 1335.7 1163.5 1338.2 1165.5 1340.7 1167.5 1343.4 1169.5 1346.2 1171.5 1349.1 1173.5 1352.3 1175.5 1355.6 1177.5 1359.3 1179.5 1363.3 1181.5 1367.8 1183.5 1372.6 1185.5 1377.8 1187.5 1383.2 1189.5 1388.8 1191.5 1394.4 1193.5 1400.1 1195.5 1405.9 1197.5 1411.8 1199.5 1417.9 1201.5 1424.1 1203.5 1430.5 1205.5 1437.1 1207.5 1443.9 1209.5 1450.9 1211.5 1458.2 1213.5 1465.9 1215.5 1474.1 1217.5 1482.7 1219.5 1491.9 1221.5 1501.4 1223.5 1511.1 1225.5 1520.8 1227.5 1530.5 1229.5 1540.2 1231.5 1550.4 1233.5 1561.3 1235.5 1573.4 1237.5 1586.5 1239.5 1599.8 1241.5 1612.1 1243.5 1622.5 1245.5 1631.0 1247.5 1638.2 1249.5 1644.8 1251.5 1651.2 1253.5 1657.5 1255.5 1663.6 1257.5 1669.2 1259.5 1674.0 1261.5 1678.2 1263.5 1681.7 1265.5 1684.8 1267.5 1687.4 1269.5 1689.6 1271.5 1691.4 1273.5 1692.7 1275.5 1693.6 1277.5 1694.2 1279.5 1694.6 1281.5 1694.9 1283.5 1695.1 1285.5 1695.0 1287.5 1694.6 1289.5 1693.7 1291.5 1692.4 1293.5 1690.6 1295.5 1688.5 1297.5 1686.1 1299.5 1683.5 1301.5 1680.6 1303.5 1677.4 1305.5 1673.8 1307.5 1670.0 1309.5 1665.9 1311.5 1661.6 1313.5 1657.2 1315.5 1652.6 1317.5 1647.8 1319.5 1642.8 1321.5 1637.6 1323.5 1632.3 1325.5 1626.8 1327.5 1621.1 1329.5 1615.1 1331.5 1609.0 1333.5 1603.0 1335.5 1597.4 1337.5 1592.4 1339.5 1588.1 1341.5 1584.4 1343.5 1581.3 1345.5 1578.6 1347.5 1576.2 1349.5 1574.3 1351.5 1572.7 1353.5 1571.3 1355.5 1570.2 1357.5 1569.3 1359.5 1568.6 1361.5 1568.3 1363.5 1568.3 1365.5 1568.6 1367.5 1569.3 1369.5 1570.3 1371.5 1571.5 1373.5 1572.9 1375.5 1574.6 1377.5 1576.6 1379.5 1579.1 1381.5 1582.1 1383.5 1585.7 1385.5 1590.2 1387.5 1595.5 1389.5 1601.5 1391.5 1607.6 1393.5 1613.3 1395.5 1618.1 1397.5 1622.1 1399.5 1625.5 1401.5 1628.5 1403.5 1631.2 1405.5 1633.8 1407.5 1636.1 1409.5 1638.2 1411.5 1640.3 1413.5 1642.2 1415.5 1644.1 1417.5 1646.1 1419.5 1648.2 1421.5 1650.3 1423.5 1652.6 1425.5 1654.9 1427.5 1657.2 1429.5 1659.4 1431.5 1661.6 1433.5 1663.6 1435.5 1665.6 1437.5 1667.4 1439.5 1669.1 1441.5 1670.7 1443.5 1672.3 1445.5 1673.9 1447.5 1675.3 1449.5 1676.8 1451.5 1678.2 1453.5 1679.5 1455.5 1680.8 1457.5 1682.1 1459.5 1683.4 1461.5 1684.6 1463.5 1685.9 1465.5 1687.1 1467.5 1688.4 1469.5 1689.7 1471.5 1691.0 1473.5 1692.2 1475.5 1693.4 1477.5 1694.4 1479.5 1695.4 1481.5 1696.3 1483.5 1697.1 1485.5 1697.7 1487.5 1698.2 1489.5 1698.5 1491.5 1698.7 1493.5 1698.9 1495.5 1699.0 1497.5 1699.1 1499.5 1699.1 1501.5 1699.2 1503.5 1699.3 1505.5 1699.3 1507.5 1699.4 1509.5 1699.4 1511.5 1699.5 1513.5 1699.6 1515.5 1699.7 1517.5 1699.9 1519.5 1700.1 1521.5 1700.3 1523.5 1700.6 1525.5 1700.9 1527.5 1701.3 1529.5 1701.7 1531.5 1702.2 1533.5 1702.8 1535.5 1703.3 1537.5 1703.9 1539.5 1704.6 1541.5 1705.3 1543.5 1706.1 1545.5 1707.1 1547.5 1708.3 1549.5 1709.6 1551.5 1711.2 1553.5 1712.9 1555.5 1714.6 1557.5 1716.4 1559.5 1718.2 1561.5 1719.9 1563.5 1721.6 1565.5 1723.3 1567.5 1724.9 1569.5 1726.7 1571.5 1728.4 1573.5 1730.2 1575.5 1732.1 1577.5 1734.2 1579.5 1736.3 1581.5 1738.6 1583.5 1740.9 1585.5 1743.3 1587.5 1745.7 1589.5 1748.1 1591.5 1750.5 1593.5 1752.9 1595.5 1755.3 1597.5 1757.7 1599.5 1760.0 1601.5 1762.2 1603.5 1764.3 1605.5 1766.2 1607.5 1768.0 1609.5 1769.8 1611.5 1771.4 1613.5 1772.8 1615.5 1774.2 1617.5 1775.5 1619.5 1776.7 1621.5 1777.8 1623.5 1778.9 1625.5 1779.9 1627.5 1780.8 1629.5 1781.7 1631.5 1782.5 1633.5 1783.3 1635.5 1784.0 1637.5 1784.7 1639.5 1785.4 1641.5 1786.0 1643.5 1786.6 1645.5 1787.1 1647.5 1787.7 1649.5 1788.2 1651.5 1788.6 1653.5 1789.1 1655.5 1789.5 1657.5 1790.0 1659.5 1790.4 1661.5 1790.9 1663.5 1791.3 1665.5 1791.7 1667.5 1792.2 1669.5 1792.6 1671.5 1793.0 1673.5 1793.4 1675.5 1793.8 1677.5 1794.1 1679.5 1794.5 1681.5 1794.8 1683.5 1795.1 1685.5 1795.4 1687.5 1795.6 1689.5 1795.9 1691.5 1796.1 1693.5 1796.2 1695.5 1796.3 1697.5 1796.4 1699.5 1796.5 1701.5 1796.5 1703.5 1796.5 1705.5 1796.5 1707.5 1796.5 1709.5 1796.5 1711.5 1796.6 1713.5 1796.6 1715.5 1796.6 1717.5 1796.6 1719.5 1796.6 1721.5 1796.6 1723.5 1796.6 1725.5 1796.6 1727.5 1796.6 1729.5 1796.6 1731.5 1796.6 1733.5 1796.6 1735.5 1796.5 1737.5 1796.4 1739.5 1796.4 1741.5 1796.2 1743.5 1796.1 1745.5 1796.0 1747.5 1795.8 1749.5 1795.6 1751.5 1795.4 1753.5 1795.3 1755.5 1795.1 1757.5 1794.8 1759.5 1794.6 1761.5 1794.4 1763.5 1794.2 1765.5 1794.0 1767.5 1793.7 1769.5 1793.5 1771.5 1793.2 1773.5 1792.9 1775.5 1792.5 1777.5 1792.2 1779.5 1791.8 1781.5 1791.4 1783.5 1791.0 1785.5 1790.6 1787.5 1790.2 1789.5 1789.8 1791.5 1789.5 1793.5 1789.1 1795.5 1788.7 1797.5 1788.4 1799.5 1788.0 1801.5 1787.7 1803.5 1787.4 1805.5 1787.0 1807.5 1786.7 1809.5 1786.3 1811.5 1786.0 1813.5 1785.7 1815.5 1785.4 1817.5 1785.0 1819.5 1784.7 1821.5 1784.4 1823.5 1784.2 1825.5 1783.9 1827.5 1783.6 1829.5 1783.4 1831.5 1783.2 1833.5 1783.0 1835.5 1782.9 1837.5 1782.7 1839.5 1782.5 1841.5 1782.4 1843.5 1782.3 1845.5 1782.2 1847.5 1782.1 1849.5 1782.1 1851.5 1782.2 1853.5 1782.4 1855.5 1782.7 1857.5 1783.2 1859.5 1783.8 1861.5 1784.4 1863.5 1785.0 1865.5 1785.6 1867.5 1786.1 1869.5 1786.6 1871.5 1787.1 1873.5 1787.6 1875.5 1788.1 1877.5 1788.5 1879.5 1789.0 1881.5 1789.5 1883.5 1789.9 1885.5 1790.3 1887.5 1790.8 1889.5 1791.2 1891.5 1791.5 1893.5 1791.9 1895.5 1792.2 1897.5 1792.5 1899.5 1792.7 1901.5 1792.9 1903.5 1793.1 1905.5 1793.3 1907.5 1793.4 1909.5 1793.6 1911.5 1793.7 1913.5 1793.8 1915.5 1793.9 1917.5 1794.1 1919.5 1794.2 1921.5 1794.3 1923.5 1794.4 1925.5 1794.5 1927.5 1794.6 1929.5 1794.6 1931.5 1794.7 1933.5 1794.8 1935.5 1794.9 1937.5 1795.0 1939.5 1795.1 1941.5 1795.1 1943.5 1795.2 1945.5 1795.3 1947.5 1795.4 1949.5 1795.4 1951.5 1795.5 1953.5 1795.6 1955.5 1795.7 1957.5 1795.8 1959.5 1795.9 1961.5 1795.9 1963.5 1796.0 1965.5 1796.1 1967.5 1796.2 1969.5 1796.2 1971.5 1796.3 1973.5 1796.4 1975.5 1796.5 1977.5 1796.5 1979.5 1796.6 1981.5 1796.7 1983.5 1796.8 1985.5 1796.8 1987.5 1796.9 1989.5 1797.0 1991.5 1797.0 1993.5 1797.1 1995.5 1797.1 1997.5 1797.2 1999.5 1797.2 2000.5 1797.3" stroke="#00ff00"/>
<path d="M1917.4 1791V1781" stroke="#00ff00" stroke-width="6"/>
<path d="M247.5 1797.1L249.5 1797.1 251.5 1797.0 253.5 1797.0 255.5 1797.0 257.5 1797.0 259.5 1796.9 261.5 1796.9 263.5 1796.8 265.5 1796.8 267.5 1796.8 269.5 1796.7 271.5 1796.6 273.5 1796.6 275.5 1796.5 277.5 1796.5 279.5 1796.4 281.5 1796.3 283.5 1796.3 285.5 1796.2 287.5 1796.1 289.5 1796.1 291.5 1796.0 293.5 1795.9 295.5 1795.8 297.5 1795.8 299.5 1795.7 301.5 1795.6 303.5 1795.5 305.5 1795.4 307.5 1795.3 309.5 1795.3 311.5 1795.2 313.5 1795.1 315.5 1795.0 317.5 1794.9 319.5 1794.8 321.5 1794.7 323.5 1794.5 325.5 1794.4 327.5 1794.3 329.5 1794.2 331.5 1794.0 333.5 1793.9 335.5 1793.8 337.5 1793.6 339.5 1793.5 341.5 1793.3 343.5 1793.2 345.5 1793.0 347.5 1792.8 349.5 1792.7 351.5 1792.5 353.5 1792.3 355.5 1792.1 357.5 1792.0 359.5 1791.8 361.5 1791.6 363.5 1791.4 365.5 1791.2 367.5 1791.0 369.5 1790.8 371.5 1790.6 373.5 1790.4 375.5 1790.2 377.5 1789.9 379.5 1789.7 381.5 1789.4 383.5 1789.1 385.5 1788.9 387.5 1788.6 389.5 1788.3 391.5 1787.9 393.5 1787.6 395.5 1787.3 397.5 1786.9 399.5 1786.6 401.5 1786.2 403.5 1785.9 405.5 1785.5 407.5 1785.1 409.5 1784.7 411.5 1784.3 413.5 1784.0 415.5 1783.6 417.5 1783.2 419.5 1782.7 421.5 1782.3 423.5 1781.9 425.5 1781.5 427.5 1781.0 429.5 1780.6 431.5 1780.1 433.5 1779.6 435.5 1779.1 437.5 1778.6 439.5 1778.1 441.5 1777.5 443.5 1777.0 445.5 1776.5 447.5 1775.9 449.5 1775.3 451.5 1774.8 453.5 1774.2 455.5 1773.6 457.5 1773.0 459.5 1772.5 461.5 1771.9 463.5 1771.3 465.5 1770.7 467.5 1770.2 469.5 1769.6 471.5 1769.0 473.5 1768.4 475.5 1767.9 477.5 1767.3 479.5 1766.8 481.5 1766.2 483.5 1765.6 485.5 1765.1 487.5 1764.5 489.5 1763.9 491.5 1763.3 493.5 1762.8 495.5 1762.2 497.5 1761.6 499.5 1761.0 501.5 1760.4 503.5 1759.8 505.5 1759.2 507.5 1758.6 509.5 1757.9 511.5 1757.3 513.5 1756.7 515.5 1756.0 517.5 1755.4 519.5 1754.7 521.5 1754.0 523.5 1753.3 525.5 1752.6 527.5 1751.9 529.5 1751.1 531.5 1750.4 533.5 1749.6 535.5 1748.8 537.5 1748.0 539.5 1747.2 541.5 1746.4 543.5 1745.6 545.5 1744.7 547.5 1743.9 549.5 1743.0 551.5 1742.0 553.5 1741.0 555.5 1740.0 557.5 1738.8 559.5 1737.6 561.5 1736.2 563.5 1734.7 565.5 1733.1 567.5 1731.3 569.5 1729.5 571.5 1727.5 573.5 1725.4 575.5 1723.2 577.5 1720.8 579.5 1718.1 581.5 1715.3 583.5 1712.2 585.5 1708.9 587.5 1705.5 589.5 1701.9 591.5 1698.1 593.5 1694.1 595.5 1690.0 597.5 1685.9 599.5 1681.8 601.5 1677.7 603.5 1673.7 605.5 1669.7 607.5 1665.7 609.5 1661.7 611.5 1657.7 613.5 1653.6 615.5 1649.6 617.5 1645.6 619.5 1641.6 621.5 1637.7 623.5 1633.8 625.5 1630.1 627.5 1626.4 629.5 1622.8 631.5 1619.2 633.5 1615.6 635.5 1611.9 637.5 1608.2 639.5 1604.4 641.5 1600.6 643.5 1596.8 645.5 1593.0 647.5 1589.3 649.5 1585.7 651.5 1582.2 653.5 1578.7 655.5 1575.4 657.5 1572.2 659.5 1569.2 661.5 1566.4 663.5 1563.8 665.5 1561.2 667.5 1558.5 669.5 1555.7 671.5 1552.7 673.5 1549.4 675.5 1546.0 677.5 1542.3 679.5 1538.6 681.5 1534.9 683.5 1531.2 685.5 1527.5 687.5 1524.0 689.5 1520.4 691.5 1516.9 693.5 1513.4 695.5 1509.9 697.5 1506.5 699.5 1503.2 701.5 1499.9 703.5 1496.8 705.5 1493.8 707.5 1490.9 709.5 1488.1 711.5 1485.3 713.5 1482.6 715.5 1479.8 717.5 1477.1 719.5 1474.3 721.5 1471.6 723.5 1468.7 725.5 1465.9 727.5 1463.1 729.5 1460.3 731.5 1457.5 733.5 1454.8 735.5 1452.1 737.5 1449.4 739.5 1446.8 741.5 1444.3 743.5 1441.8 745.5 1439.2 747.5 1436.6 749.5 1433.9 751.5 1431.1 753.5 1428.0 755.5 1424.8 757.5 1421.3 759.5 1417.7 761.5 1414.0 763.5 1410.3 765.5 1406.6 767.5 1403.0 769.5 1399.7 771.5 1396.4 773.5 1393.4 775.5 1390.4 777.5 1387.4 779.5 1384.5 781.5 1381.6 783.5 1378.5 785.5 1375.4 787.5 1372.1 789.5 1368.7 791.5 1365.2 793.5 1361.6 795.5 1358.0 797.5 1354.3 799.5 1350.6 801.5 1346.8 803.5 1343.0 805.5 1339.2 807.5 1335.4 809.5 1331.5 811.5 1327.6 813.5 1323.8 815.5 1319.9 817.5 1316.2 819.5 1312.7 821.5 1309.6 823.5 1306.8 825.5 1304.4 827.5 1302.3 829.5 1300.3 831.5 1298.5 833.5 1296.8 835.5 1295.1 837.5 1293.5 839.5 1291.9 841.5 1290.4 843.5 1288.9 845.5 1287.5 847.5 1286.0 849.5 1284.6 851.5 1283.1 853.5 1281.7 855.5 1280.2 857.5 1278.7 859.5 1277.3 861.5 1275.9 863.5 1274.5 865.5 1273.2 867.5 1272.0 869.5 1270.7 871.5 1269.6 873.5 1268.5 875.5 1267.3 877.5 1266.3 879.5 1265.2 881.5 1264.0 883.5 1262.8 885.5 1261.5 887.5 1260.2 889.5 1258.8 891.5 1257.4 893.5 1256.3 895.5 1255.4 897.5 1255.1 899.5 1255.3 901.5 1256.3 903.5 1258.0 905.5 1260.1 907.5 1262.2 909.5 1264.0 911.5 1265.4 913.5 1266.4 915.5 1267.0 917.5 1267.5 919.5 1267.8 921.5 1268.1 923.5 1268.2 925.5 1268.2 927.5 1268.0 929.5 1267.7 931.5 1267.3 933.5 1266.8 935.5 1266.3 937.5 1265.9 939.5 1265.6 941.5 1265.5 943.5 1265.7 945.5 1266.3 947.5 1267.3 949.5 1268.5 951.5 1269.9 953.5 1271.3 955.5 1272.9 957.5 1274.5 959.5 1276.2 961.5 1277.9 963.5 1279.6 965.5 1281.1 967.5 1282.2 969.5 1282.9 971.5 1283.2 973.5 1283.2 975.5 1282.9 977.5 1282.5 979.5 1281.8 981.5 1281.0 983.5 1279.7 985.5 1278.0 987.5 1275.9 989.5 1273.3 991.5 1270.5 993.5 1267.5 995.5 1264.3 997.5 1260.8 999.5 1256.9 1001.5 1252.8 1003.5 1248.4 1005.5 1243.8 1007.5 1238.8 1009.5 1233.6 1011.5 1228.3 1013.5 1223.3 1015.5 1218.6 1017.5 1214.4 1019.5 1210.7 1021.5 1207.3 1023.5 1204.1 1025.5 1201.2 1027.5 1198.3 1029.5 1195.6 1031.5 1192.9 1033.5 1190.4 1035.5 1188.1 1037.5 1186.0 1039.5 1184.3 1041.5 1182.9 1043.5 1181.7 1045.5 1180.5 1047.5 1179.5 1049.5 1178.6 1051.5 1177.8 1053.5 1177.2 1055.5 1176.7 1057.5 1176.4 1059.5 1176.5 1061.5 1177.0 1063.5 1178.0 1065.5 1179.5 1067.5 1181.3 1069.5 1183.5 1071.5 1185.8 1073.5 1188.1 1075.5 1190.5 1077.5 1193.1 1079.5 1195.8 1081.5 1198.6 1083.5 1201.6 1085.5 1204.6 1087.5 1207.7 1089.5 1210.9 1091.5 1214.1 1093.5 1217.4 1095.5 1220.5 1097.5 1223.5 1099.5 1226.3 1101.5 1228.9 1103.5 1231.3 1105.5 1233.6 1107.5 1235.9 1109.5 1238.2 1111.5 1240.5 1113.5 1242.8 1115.5 1245.3 1117.5 1247.8 1119.5 1250.3 1121.5 1252.9 1123.5 1255.5 1125.5 1258.0 1127.5 1260.6 1129.5 1263.2 1131.5 1265.8 1133.5 1268.4 1135.5 1271.0 1137.5 1273.6 1139.5 1276.2 1141.5 1278.8 1143.5 1281.4 1145.5 1283.9 1147.5 1286.5 1149.5 1288.9 1151.5 1291.3 1153.5 1293.7 1155.5 1296.1 1157.5 1298.5 1159.5 1300.9 1161.5 1303.4 1163.5 1306.1 1165.5 1308.9 1167.5 1311.8 1169.5 1315.0 1171.5 1318.4 1173.5 1321.9 1175.5 1325.7 1177.5 1329.8 1179.5 1334.1 1181.5 1338.7 1183.5 1343.6 1185.5 1348.8 1187.5 1354.1 1189.5 1359.6 1191.5 1365.2 1193.5 1370.9 1195.5 1376.7 1197.5 1382.7 1199.5 1388.7 1201.5 1394.9 1203.5 1401.2 1205.5 1407.6 1207.5 1414.0 1209.5 1420.7 1211.5 1427.6 1213.5 1434.8 1215.5 1442.4 1217.5 1450.6 1219.5 1459.2 1221.5 1468.3 1223.5 1477.6 1225.5 1487.1 1227.5 1496.7 1229.5 1506.5 1231.5 1516.5 1233.5 1526.6 1235.5 1537.0 1237.5 1547.6 1239.5 1558.5 1241.5 1569.7 1243.5 1581.3 1245.5 1593.2 1247.5 1605.2 1249.5 1616.6 1251.5 1627.0 1253.5 1636.3 1255.5 1644.5 1257.5 1651.9 1259.5 1658.5 1261.5 1664.4 1263.5 1669.8 1265.5 1674.4 1267.5 1678.1 1269.5 1680.9 1271.5 1682.8 1273.5 1684.1 1275.5 1685.1 1277.5 1685.9 1279.5 1686.4 1281.5 1686.6 1283.5 1686.5 1285.5 1686.0 1287.5 1685.0 1289.5 1683.5 1291.5 1681.7 1293.5 1679.5 1295.5 1676.9 1297.5 1673.6 1299.5 1669.7 1301.5 1665.2 1303.5 1660.4 1305.5 1655.4 1307.5 1650.2 1309.5 1644.8 1311.5 1639.2 1313.5 1633.4 1315.5 1627.3 1317.5 1621.0 1319.5 1614.5 1321.5 1607.7 1323.5 1601.1 1325.5 1594.8 1327.5 1589.1 1329.5 1584.1 1331.5 1579.6 1333.5 1575.7 1335.5 1572.2 1337.5 1569.1 1339.5 1566.3 1341.5 1564.0 1343.5 1561.8 1345.5 1559.9 1347.5 1558.2 1349.5 1556.7 1351.5 1555.3 1353.5 1554.1 1355.5 1552.9 1357.5 1551.9 1359.5 1551.0 1361.5 1550.4 1363.5 1550.1 1365.5 1550.3 1367.5 1550.8 1369.5 1551.8 1371.5 1553.1 1373.5 1554.6 1375.5 1556.4 1377.5 1558.3 1379.5 1560.6 1381.5 1563.3 1383.5 1566.3 1385.5 1569.8 1387.5 1573.6 1389.5 1577.9 1391.5 1582.6 1393.5 1587.8 1395.5 1593.2 1397.5 1598.6 1399.5 1603.8 1401.5 1608.7 1403.5 1613.2 1405.5 1617.1 1407.5 1620.4 1409.5 1623.1 1411.5 1625.4 1413.5 1627.4 1415.5 1629.3 1417.5 1631.3 1419.5 1633.5 1421.5 1635.9 1423.5 1638.5 1425.5 1641.2 1427.5 1644.0 1429.5 1646.7 1431.5 1649.3 1433.5 1651.7 1435.5 1653.9 1437.5 1655.9 1439.5 1657.7 1441.5 1659.4 1443.5 1661.0 1445.5 1662.6 1447.5 1664.1 1449.5 1665.5 1451.5 1666.9 1453.5 1668.3 1455.5 1669.6 1457.5 1670.9 1459.5 1672.2 1461.5 1673.4 1463.5 1674.6 1465.5 1675.6 1467.5 1676.6 1469.5 1677.5 1471.5 1678.3 1473.5 1679.1 1475.5 1679.8 1477.5 1680.4 1479.5 1681.1 1481.5 1681.8 1483.5 1682.5 1485.5 1683.3 1487.5 1684.3 1489.5 1685.3 1491.5 1686.4 1493.5 1687.4 1495.5 1688.3 1497.5 1689.1 1499.5 1689.6 1501.5 1689.8 1503.5 1690.0 1505.5 1690.0 1507.5 1690.0 1509.5 1690.0 1511.5 1690.0 1513.5 1690.0 1515.5 1690.0 1517.5 1690.1 1519.5 1690.1 1521.5 1690.3 1523.5 1690.5 1525.5 1690.8 1527.5 1691.1 1529.5 1691.4 1531.5 1691.8 1533.5 1692.3 1535.5 1692.8 1537.5 1693.3 1539.5 1694.0 1541.5 1694.8 1543.5 1695.6 1545.5 1696.5 1547.5 1697.6 1549.5 1698.7 1551.5 1700.1 1553.5 1701.6 1555.5 1703.3 1557.5 1705.2 1559.5 1707.2 1561.5 1709.2 1563.5 1711.3 1565.5 1713.2 1567.5 1715.1 1569.5 1716.9 1571.5 1718.7 1573.5 1720.5 1575.5 1722.4 1577.5 1724.2 1579.5 1726.2 1581.5 1728.3 1583.5 1730.5 1585.5 1732.9 1587.5 1735.5 1589.5 1738.1 1591.5 1740.9 1593.5 1743.7 1595.5 1746.7 1597.5 1749.7 1599.5 1752.7 1601.5 1755.7 1603.5 1758.6 1605.5 1761.4 1607.5 1764.1 1609.5 1766.6 1611.5 1768.9 1613.5 1770.9 1615.5 1772.7 1617.5 1774.2 1619.5 1775.5 1621.5 1776.7 1623.5 1777.8 1625.5 1778.8 1627.5 1779.7 1629.5 1780.5 1631.5 1781.3 1633.5 1782.1 1635.5 1782.8 1637.5 1783.4 1639.5 1784.1 1641.5 1784.7 1643.5 1785.2 1645.5 1785.8 1647.5 1786.3 1649.5 1786.9 1651.5 1787.4 1653.5 1788.0 1655.5 1788.5 1657.5 1789.1 1659.5 1789.6 1661.5 1790.2 1663.5 1790.7 1665.5 1791.3 1667.5 1791.8 1669.5 1792.2 1671.5 1792.7 1673.5 1793.0 1675.5 1793.4 1677.5 1793.7 1679.5 1794.0 1681.5 1794.3 1683.5 1794.5 1685.5 1794.8 1687.5 1795.0 1689.5 1795.3 1691.5 1795.5 1693.5 1795.6 1695.5 1795.8 1697.5 1795.9 1699.5 1796.0 1701.5 1796.0 1703.5 1796.1 1705.5 1796.1 1707.5 1796.2 1709.5 1796.2 1711.5 1796.2 1713.5 1796.3 1715.5 1796.3 1717.5 1796.3 1719.5 1796.3 1721.5 1796.4 1723.5 1796.4 1725.5 1796.4 1727.5 1796.4 1729.5 1796.4 1731.5 1796.4 1733.5 1796.4 1735.5 1796.3 1737.5 1796.2 1739.5 1796.2 1741.5 1796.0 1743.5 1795.9 1745.5 1795.8 1747.5 1795.6 1749.5 1795.4 1751.5 1795.2 1753.5 1795.1 1755.5 1794.9 1757.5 1794.6 1759.5 1794.4 1761.5 1794.2 1763.5 1794.0 1765.5 1793.8 1767.5 1793.5 1769.5 1793.3 1771.5 1793.0 1773.5 1792.7 1775.5 1792.3 1777.5 1792.0 1779.5 1791.6 1781.5 1791.2 1783.5 1790.8 1785.5 1790.4 1787.5 1790.0 1789.5 1789.7 1791.5 1789.3 1793.5 1788.9 1795.5 1788.5 1797.5 1788.2 1799.5 1787.8 1801.5 1787.5 1803.5 1787.1 1805.5 1786.8 1807.5 1786.5 1809.5 1786.1 1811.5 1785.8 1813.5 1785.4 1815.5 1785.1 1817.5 1784.8 1819.5 1784.4 1821.5 1784.1 1823.5 1783.8 1825.5 1783.6 1827.5 1783.3 1829.5 1783.1 1831.5 1782.9 1833.5 1782.7 1835.5 1782.6 1837.5 1782.4 1839.5 1782.3 1841.5 1782.2 1843.5 1782.0 1845.5 1782.0 1847.5 1781.9 1849.5 1781.9 1851.5 1782.0 1853.5 1782.2 1855.5 1782.5 1857.5 1783.0 1859.5 1783.6 1861.5 1784.2 1863.5 1784.8 1865.5 1785.4 1867.5 1785.9 1869.5 1786.5 1871.5 1786.9 1873.5 1787.4 1875.5 1787.9 1877.5 1788.4 1879.5 1788.8 1881.5 1789.3 1883.5 1789.8 1885.5 1790.2 1887.5 1790.6 1889.5 1791.0 1891.5 1791.4 1893.5 1791.8 1895.5 1792.1 1897.5 1792.4 1899.5 1792.6 1901.5 1792.8 1903.5 1793.0 1905.5 1793.2 1907.5 1793.3 1909.5 1793.5 1911.5 1793.6 1913.5 1793.7 1915.5 1793.8 1917.5 1794.0 1919.5 1794.1 1921.5 1794.2 1923.5 1794.3 1925.5 1794.4 1927.5 1794.5 1929.5 1794.5 1931.5 1794.6 1933.5 1794.7 1935.5 1794.8 1937.5 1794.9 1939.5 1795.0 1941.5 1795.0 1943.5 1795.1 1945.5 1795.2 1947.5 1795.3 1949.5 1795.3 1951.5 1795.4 1953.5 1795.5 1955.5 1795.6 1957.5 1795.7 1959.5 1795.8 1961.5 1795.8 1963.5 1795.9 1965.5 1796.0 1967.5 1796.1 1969.5 1796.1 1971.5 1796.2 1973.5 1796.3 1975.5 1796.4 1977.5 1796.4 1979.5 1796.5 1981.5 1796.6 1983.5 1796.7 1985.5 1796.7 1987.5 1796.8 1989.5 1796.9 1991.5 1796.9 1993.5 1797.0 1995.5 1797.0 1997.5 1797.1 1999.5 1797.1 2000.5 1797.2" stroke="#ff00ff"/>
<path d="M1859.3 1784V1777" stroke="#ff00ff" stroke-width="6"/>
<path d="M1917.4 1792V1787" stroke="#ff00ff" stroke-width="6"/>
<path d="M1931 1794V1790" stroke="#ff00ff" stroke-width="5"/>
</g>
<rect x="1741.4" y="65.1" width="222.1" height="440.2" fill="#fff" stroke="#404040" stroke-width="2.5"/>
<path d="M1748.0 111.4H1812.5" stroke="#000000" stroke-width="8.5"/>
<text x="1817.2" y="140.2" font-size="69.3" fill="#000">Air</text>
<path d="M1748.0 199.0H1812.5" stroke="#ff0000" stroke-width="8.5"/>
<text x="1817.2" y="227.8" font-size="69.3" fill="#000">0%</text>
<path d="M1748.0 286.2H1812.5" stroke="#0000ff" stroke-width="8.5"/>
<text x="1817.2" y="315.0" font-size="69.3" fill="#000">6%</text>
<path d="M1748.0 373.8H1812.5" stroke="#00ff00" stroke-width="8.5"/>
<text x="1817.2" y="402.6" font-size="69.3" fill="#000"><tspan dx="2.4">1</tspan><tspan dx="-2.4">5%</tspan></text>
<path d="M1748.0 460.3H1812.5" stroke="#ff00ff" stroke-width="8.5"/>
<text x="1817.2" y="489.1" font-size="69.3" fill="#000">33%</text>
<rect x="1756.9" y="1128.6" width="225.5" height="446.2" fill="#fff" stroke="#404040" stroke-width="2.5"/>
<path d="M1763.6 1175.9H1830.0" stroke="#000000" stroke-width="8.5"/>
<text x="1833.0" y="1204.7" font-size="70.4" fill="#000">Air</text>
<path d="M1763.6 1264.1H1830.0" stroke="#ff0000" stroke-width="8.5"/>
<text x="1833.0" y="1292.9" font-size="70.4" fill="#000">0%</text>
<path d="M1763.6 1352.4H1830.0" stroke="#0000ff" stroke-width="8.5"/>
<text x="1833.0" y="1381.2" font-size="70.4" fill="#000">6%</text>
<path d="M1763.6 1440.6H1830.0" stroke="#00ff00" stroke-width="8.5"/>
<text x="1833.0" y="1469.4" font-size="70.4" fill="#000"><tspan dx="2.4">1</tspan><tspan dx="-2.4">5%</tspan></text>
<path d="M1763.6 1528.8H1830.0" stroke="#ff00ff" stroke-width="8.5"/>
<text x="1833.0" y="1557.6" font-size="70.4" fill="#000">33%</text>
<g fill="#fff">
<rect x="199.4" y="132.9" width="14.4" height="8.8"/>
<rect x="221.4" y="132.9" width="13.9" height="8.8"/>
<rect x="1902.8" y="903.1" width="14.4" height="8.8"/>
<rect x="1924.7" y="903.1" width="13.9" height="8.8"/>
<rect x="190.0" y="1196.9" width="14.6" height="8.8"/>
<rect x="212.2" y="1196.9" width="14.0" height="8.8"/>
<rect x="1920.6" y="1976.9" width="14.6" height="8.8"/>
<rect x="1942.8" y="1976.9" width="14.0" height="8.8"/>
<rect x="1823.7" y="395.8" width="13.0" height="8.2"/>
<rect x="1843.5" y="395.8" width="12.5" height="8.2"/>
<rect x="1839.6" y="1462.5" width="13.2" height="8.3"/>
<rect x="1859.7" y="1462.5" width="12.7" height="8.3"/>
</g>
</svg>
</body></html>
